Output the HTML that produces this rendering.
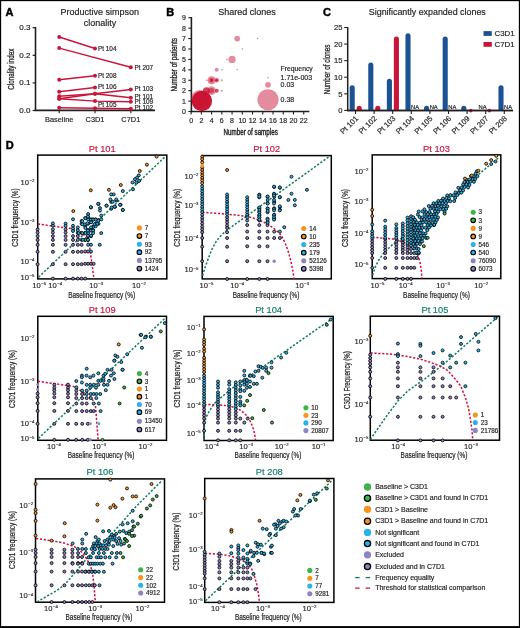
<!DOCTYPE html>
<html><head><meta charset="utf-8"><style>
html,body{margin:0;padding:0;background:#fff;width:520px;height:628px;overflow:hidden}
svg{display:block;font-family:"Liberation Sans",sans-serif;will-change:transform}
</style></head><body>
<svg width="520" height="628" viewBox="0 0 520 628">
<rect width="520" height="628" fill="#fff"/>
<rect x="0" y="0" width="520" height="1.15" fill="#000"/><rect x="0" y="0" width="1.15" height="628" fill="#000"/><rect x="518.85" y="0" width="1.15" height="628" fill="#000"/><rect x="0" y="626.1" width="520" height="1.9" fill="#000"/>
<text x="5.60" y="15.80" font-size="11" text-anchor="start" fill="#000" stroke="#000" stroke-width="0.45" font-weight="bold" >A</text>
<text x="166.30" y="15.60" font-size="11" text-anchor="start" fill="#000" stroke="#000" stroke-width="0.45" font-weight="bold" >B</text>
<text x="322.90" y="15.90" font-size="11" text-anchor="start" fill="#000" stroke="#000" stroke-width="0.45" font-weight="bold" >C</text>
<text x="5.80" y="149.20" font-size="11" text-anchor="start" fill="#000" stroke="#000" stroke-width="0.45" font-weight="bold" >D</text>
<text x="99.80" y="15.20" font-size="9" text-anchor="middle" fill="#231f20" stroke="#231f20" stroke-width="0.18" font-weight="normal" >Productive simpson</text>
<text x="100.10" y="25.80" font-size="9" text-anchor="middle" fill="#231f20" stroke="#231f20" stroke-width="0.18" font-weight="normal" >clonality</text>
<line x1="35.50" y1="27.00" x2="35.50" y2="111.00" stroke="#231f20" stroke-width="1.6" />
<line x1="34.70" y1="110.40" x2="155.00" y2="110.40" stroke="#231f20" stroke-width="1.6" />
<line x1="32.60" y1="27.70" x2="35.50" y2="27.70" stroke="#231f20" stroke-width="1.2" />
<text x="30.40" y="30.20" font-size="8" text-anchor="end" fill="#231f20" stroke="#231f20" stroke-width="0.18" font-weight="normal" >0.3</text>
<line x1="32.60" y1="55.30" x2="35.50" y2="55.30" stroke="#231f20" stroke-width="1.2" />
<text x="30.40" y="57.80" font-size="8" text-anchor="end" fill="#231f20" stroke="#231f20" stroke-width="0.18" font-weight="normal" >0.2</text>
<line x1="32.60" y1="82.90" x2="35.50" y2="82.90" stroke="#231f20" stroke-width="1.2" />
<text x="30.40" y="85.40" font-size="8" text-anchor="end" fill="#231f20" stroke="#231f20" stroke-width="0.18" font-weight="normal" >0.1</text>
<line x1="32.60" y1="110.50" x2="35.50" y2="110.50" stroke="#231f20" stroke-width="1.2" />
<text x="30.40" y="113.00" font-size="8" text-anchor="end" fill="#231f20" stroke="#231f20" stroke-width="0.18" font-weight="normal" >0.0</text>
<line x1="59.20" y1="110.30" x2="59.20" y2="113.20" stroke="#231f20" stroke-width="1.1" />
<text x="59.20" y="121.60" font-size="7.4" text-anchor="middle" fill="#231f20" stroke="#231f20" stroke-width="0.18" font-weight="normal" >Baseline</text>
<line x1="95.00" y1="110.30" x2="95.00" y2="113.20" stroke="#231f20" stroke-width="1.1" />
<text x="95.00" y="121.60" font-size="7.4" text-anchor="middle" fill="#231f20" stroke="#231f20" stroke-width="0.18" font-weight="normal" >C3D1</text>
<line x1="130.80" y1="110.30" x2="130.80" y2="113.20" stroke="#231f20" stroke-width="1.1" />
<text x="130.80" y="121.60" font-size="7.4" text-anchor="middle" fill="#231f20" stroke="#231f20" stroke-width="0.18" font-weight="normal" >C7D1</text>
<text x="10.90" y="72.40" font-size="8.9" text-anchor="middle" textLength="41" lengthAdjust="spacingAndGlyphs" fill="#231f20" stroke="#231f20" stroke-width="0.3" font-weight="normal" transform="rotate(-90 10.90 69.20)">Clonality index</text>
<polyline points="59.20,37.00 95.00,48.50" fill="none" stroke="#c8163a" stroke-width="1.45"/>
<circle cx="59.20" cy="37.00" r="2.00" fill="#c8163a"/>
<circle cx="95.00" cy="48.50" r="2.00" fill="#c8163a"/>
<polyline points="59.20,48.10 130.80,67.20" fill="none" stroke="#c8163a" stroke-width="1.45"/>
<circle cx="59.20" cy="48.10" r="2.00" fill="#c8163a"/>
<circle cx="130.80" cy="67.20" r="2.00" fill="#c8163a"/>
<polyline points="59.20,79.70 95.00,75.70" fill="none" stroke="#c8163a" stroke-width="1.45"/>
<circle cx="59.20" cy="79.70" r="2.00" fill="#c8163a"/>
<circle cx="95.00" cy="75.70" r="2.00" fill="#c8163a"/>
<polyline points="59.20,91.80 95.00,87.50" fill="none" stroke="#c8163a" stroke-width="1.45"/>
<circle cx="59.20" cy="91.80" r="2.00" fill="#c8163a"/>
<circle cx="95.00" cy="87.50" r="2.00" fill="#c8163a"/>
<polyline points="59.20,98.70 95.00,93.80 130.80,89.50" fill="none" stroke="#c8163a" stroke-width="1.45"/>
<circle cx="59.20" cy="98.70" r="2.00" fill="#c8163a"/>
<circle cx="95.00" cy="93.80" r="2.00" fill="#c8163a"/>
<circle cx="130.80" cy="89.50" r="2.00" fill="#c8163a"/>
<polyline points="59.20,96.20 95.00,93.80 130.80,97.80" fill="none" stroke="#c8163a" stroke-width="1.45"/>
<circle cx="59.20" cy="96.20" r="2.00" fill="#c8163a"/>
<circle cx="95.00" cy="93.80" r="2.00" fill="#c8163a"/>
<circle cx="130.80" cy="97.80" r="2.00" fill="#c8163a"/>
<polyline points="59.20,98.70 95.00,101.10 130.80,101.70" fill="none" stroke="#c8163a" stroke-width="1.45"/>
<circle cx="59.20" cy="98.70" r="2.00" fill="#c8163a"/>
<circle cx="95.00" cy="101.10" r="2.00" fill="#c8163a"/>
<circle cx="130.80" cy="101.70" r="2.00" fill="#c8163a"/>
<polyline points="59.20,107.80 95.00,108.20 130.80,108.70" fill="none" stroke="#c8163a" stroke-width="1.45"/>
<circle cx="59.20" cy="107.80" r="2.00" fill="#c8163a"/>
<circle cx="95.00" cy="108.20" r="2.00" fill="#c8163a"/>
<circle cx="130.80" cy="108.70" r="2.00" fill="#c8163a"/>
<text x="98.00" y="50.80" font-size="6.4" text-anchor="start" fill="#231f20" stroke="#231f20" stroke-width="0.18" font-weight="normal" >Pt 104</text>
<text x="98.00" y="78.20" font-size="6.4" text-anchor="start" fill="#231f20" stroke="#231f20" stroke-width="0.18" font-weight="normal" >Pt 208</text>
<text x="98.00" y="88.90" font-size="6.4" text-anchor="start" fill="#231f20" stroke="#231f20" stroke-width="0.18" font-weight="normal" >Pt 106</text>
<text x="98.00" y="107.30" font-size="6.4" text-anchor="start" fill="#231f20" stroke="#231f20" stroke-width="0.18" font-weight="normal" >Pt 105</text>
<text x="134.60" y="69.50" font-size="6.4" text-anchor="start" fill="#231f20" stroke="#231f20" stroke-width="0.18" font-weight="normal" >Pt 207</text>
<text x="134.60" y="91.30" font-size="6.4" text-anchor="start" fill="#231f20" stroke="#231f20" stroke-width="0.18" font-weight="normal" >Pt 103</text>
<text x="134.60" y="98.70" font-size="6.4" text-anchor="start" fill="#231f20" stroke="#231f20" stroke-width="0.18" font-weight="normal" >Pt 101</text>
<text x="134.60" y="104.10" font-size="6.4" text-anchor="start" fill="#231f20" stroke="#231f20" stroke-width="0.18" font-weight="normal" >Pt 109</text>
<text x="134.60" y="110.20" font-size="6.4" text-anchor="start" fill="#231f20" stroke="#231f20" stroke-width="0.18" font-weight="normal" >Pt 102</text>
<text x="246.90" y="15.20" font-size="9" text-anchor="middle" fill="#231f20" stroke="#231f20" stroke-width="0.18" font-weight="normal" >Shared clones</text>
<line x1="191.40" y1="17.00" x2="191.40" y2="112.20" stroke="#231f20" stroke-width="1.6" />
<line x1="190.60" y1="111.50" x2="309.40" y2="111.50" stroke="#231f20" stroke-width="1.6" />
<line x1="188.30" y1="111.50" x2="191.10" y2="111.50" stroke="#231f20" stroke-width="1.1" />
<text x="186.00" y="114.00" font-size="7.0" text-anchor="end" fill="#231f20" stroke="#231f20" stroke-width="0.18" font-weight="normal" >0</text>
<line x1="188.30" y1="101.08" x2="191.10" y2="101.08" stroke="#231f20" stroke-width="1.1" />
<text x="186.00" y="103.58" font-size="7.0" text-anchor="end" fill="#231f20" stroke="#231f20" stroke-width="0.18" font-weight="normal" >1</text>
<line x1="188.30" y1="90.66" x2="191.10" y2="90.66" stroke="#231f20" stroke-width="1.1" />
<text x="186.00" y="93.16" font-size="7.0" text-anchor="end" fill="#231f20" stroke="#231f20" stroke-width="0.18" font-weight="normal" >2</text>
<line x1="188.30" y1="80.24" x2="191.10" y2="80.24" stroke="#231f20" stroke-width="1.1" />
<text x="186.00" y="82.74" font-size="7.0" text-anchor="end" fill="#231f20" stroke="#231f20" stroke-width="0.18" font-weight="normal" >3</text>
<line x1="188.30" y1="69.82" x2="191.10" y2="69.82" stroke="#231f20" stroke-width="1.1" />
<text x="186.00" y="72.32" font-size="7.0" text-anchor="end" fill="#231f20" stroke="#231f20" stroke-width="0.18" font-weight="normal" >4</text>
<line x1="188.30" y1="59.40" x2="191.10" y2="59.40" stroke="#231f20" stroke-width="1.1" />
<text x="186.00" y="61.90" font-size="7.0" text-anchor="end" fill="#231f20" stroke="#231f20" stroke-width="0.18" font-weight="normal" >5</text>
<line x1="188.30" y1="48.98" x2="191.10" y2="48.98" stroke="#231f20" stroke-width="1.1" />
<text x="186.00" y="51.48" font-size="7.0" text-anchor="end" fill="#231f20" stroke="#231f20" stroke-width="0.18" font-weight="normal" >6</text>
<line x1="188.30" y1="38.56" x2="191.10" y2="38.56" stroke="#231f20" stroke-width="1.1" />
<text x="186.00" y="41.06" font-size="7.0" text-anchor="end" fill="#231f20" stroke="#231f20" stroke-width="0.18" font-weight="normal" >7</text>
<line x1="188.30" y1="28.14" x2="191.10" y2="28.14" stroke="#231f20" stroke-width="1.1" />
<text x="186.00" y="30.64" font-size="7.0" text-anchor="end" fill="#231f20" stroke="#231f20" stroke-width="0.18" font-weight="normal" >8</text>
<line x1="188.30" y1="17.72" x2="191.10" y2="17.72" stroke="#231f20" stroke-width="1.1" />
<text x="186.00" y="20.22" font-size="7.0" text-anchor="end" fill="#231f20" stroke="#231f20" stroke-width="0.18" font-weight="normal" >9</text>
<line x1="191.10" y1="111.50" x2="191.10" y2="114.50" stroke="#231f20" stroke-width="1.1" />
<text x="191.10" y="122.90" font-size="7.0" text-anchor="middle" fill="#231f20" stroke="#231f20" stroke-width="0.18" font-weight="normal" >0</text>
<line x1="201.34" y1="111.50" x2="201.34" y2="114.50" stroke="#231f20" stroke-width="1.1" />
<text x="201.34" y="122.90" font-size="7.0" text-anchor="middle" fill="#231f20" stroke="#231f20" stroke-width="0.18" font-weight="normal" >2</text>
<line x1="211.58" y1="111.50" x2="211.58" y2="114.50" stroke="#231f20" stroke-width="1.1" />
<text x="211.58" y="122.90" font-size="7.0" text-anchor="middle" fill="#231f20" stroke="#231f20" stroke-width="0.18" font-weight="normal" >4</text>
<line x1="221.82" y1="111.50" x2="221.82" y2="114.50" stroke="#231f20" stroke-width="1.1" />
<text x="221.82" y="122.90" font-size="7.0" text-anchor="middle" fill="#231f20" stroke="#231f20" stroke-width="0.18" font-weight="normal" >6</text>
<line x1="232.06" y1="111.50" x2="232.06" y2="114.50" stroke="#231f20" stroke-width="1.1" />
<text x="232.06" y="122.90" font-size="7.0" text-anchor="middle" fill="#231f20" stroke="#231f20" stroke-width="0.18" font-weight="normal" >8</text>
<line x1="242.30" y1="111.50" x2="242.30" y2="114.50" stroke="#231f20" stroke-width="1.1" />
<text x="242.30" y="122.90" font-size="7.0" text-anchor="middle" fill="#231f20" stroke="#231f20" stroke-width="0.18" font-weight="normal" >10</text>
<line x1="252.54" y1="111.50" x2="252.54" y2="114.50" stroke="#231f20" stroke-width="1.1" />
<text x="252.54" y="122.90" font-size="7.0" text-anchor="middle" fill="#231f20" stroke="#231f20" stroke-width="0.18" font-weight="normal" >12</text>
<line x1="262.78" y1="111.50" x2="262.78" y2="114.50" stroke="#231f20" stroke-width="1.1" />
<text x="262.78" y="122.90" font-size="7.0" text-anchor="middle" fill="#231f20" stroke="#231f20" stroke-width="0.18" font-weight="normal" >14</text>
<line x1="273.02" y1="111.50" x2="273.02" y2="114.50" stroke="#231f20" stroke-width="1.1" />
<text x="273.02" y="122.90" font-size="7.0" text-anchor="middle" fill="#231f20" stroke="#231f20" stroke-width="0.18" font-weight="normal" >16</text>
<line x1="283.26" y1="111.50" x2="283.26" y2="114.50" stroke="#231f20" stroke-width="1.1" />
<text x="283.26" y="122.90" font-size="7.0" text-anchor="middle" fill="#231f20" stroke="#231f20" stroke-width="0.18" font-weight="normal" >18</text>
<line x1="293.50" y1="111.50" x2="293.50" y2="114.50" stroke="#231f20" stroke-width="1.1" />
<text x="293.50" y="122.90" font-size="7.0" text-anchor="middle" fill="#231f20" stroke="#231f20" stroke-width="0.18" font-weight="normal" >20</text>
<line x1="303.74" y1="111.50" x2="303.74" y2="114.50" stroke="#231f20" stroke-width="1.1" />
<text x="303.74" y="122.90" font-size="7.0" text-anchor="middle" fill="#231f20" stroke="#231f20" stroke-width="0.18" font-weight="normal" >22</text>
<text x="250.70" y="134.60" font-size="8.9" text-anchor="middle" textLength="54.2" lengthAdjust="spacingAndGlyphs" fill="#231f20" stroke="#231f20" stroke-width="0.4" font-weight="normal" >Number of samples</text>
<text x="173.40" y="68.00" font-size="8.9" text-anchor="middle" textLength="53.5" lengthAdjust="spacingAndGlyphs" fill="#231f20" stroke="#231f20" stroke-width="0.35" font-weight="normal" transform="rotate(-90 173.40 64.80)">Number of patients</text>
<circle cx="199.60" cy="98.60" r="8.60" fill="#c8102e" fill-opacity="0.45"/>
<circle cx="201.90" cy="101.00" r="10.20" fill="#c8102e" fill-opacity="0.97"/>
<circle cx="206.46" cy="90.66" r="3.50" fill="#c8102e" fill-opacity="0.8"/>
<circle cx="211.58" cy="90.66" r="4.30" fill="#c8102e" fill-opacity="0.45"/>
<circle cx="211.58" cy="90.66" r="2.60" fill="#c8102e" fill-opacity="0.6"/>
<circle cx="216.70" cy="90.66" r="2.00" fill="#c8102e" fill-opacity="0.75"/>
<circle cx="221.82" cy="90.66" r="0.90" fill="#e07f95" fill-opacity="1"/>
<circle cx="211.58" cy="80.24" r="3.90" fill="#c8102e" fill-opacity="0.5"/>
<circle cx="211.58" cy="80.24" r="2.40" fill="#c8102e" fill-opacity="0.35"/>
<circle cx="211.58" cy="80.24" r="1.40" fill="#c8102e" fill-opacity="0.9"/>
<circle cx="216.70" cy="80.24" r="2.40" fill="#c8102e" fill-opacity="0.5"/>
<circle cx="216.70" cy="80.24" r="1.30" fill="#c8102e" fill-opacity="0.85"/>
<circle cx="221.82" cy="80.24" r="0.90" fill="#e07f95" fill-opacity="1"/>
<circle cx="216.70" cy="69.82" r="2.00" fill="#e07f95" fill-opacity="0.9"/>
<circle cx="221.82" cy="69.82" r="0.80" fill="#e07f95" fill-opacity="1"/>
<circle cx="237.18" cy="69.82" r="0.80" fill="#e07f95" fill-opacity="1"/>
<circle cx="232.06" cy="59.40" r="3.60" fill="#e07f95" fill-opacity="0.9"/>
<circle cx="226.94" cy="59.40" r="0.80" fill="#e07f95" fill-opacity="1"/>
<circle cx="242.30" cy="48.98" r="0.80" fill="#e07f95" fill-opacity="1"/>
<circle cx="237.18" cy="38.56" r="2.90" fill="#e07f95" fill-opacity="0.9"/>
<circle cx="257.66" cy="38.56" r="0.80" fill="#e07f95" fill-opacity="1"/>
<line x1="205.95" y1="80.24" x2="208.51" y2="80.24" stroke="#e07f95" stroke-width="1" />
<text x="280.60" y="71.20" font-size="6.8" text-anchor="start" fill="#231f20" stroke="#231f20" stroke-width="0.18" font-weight="normal" >Frequency</text>
<circle cx="268.00" cy="77.70" r="0.80" fill="#e07f95"/>
<text x="280.60" y="79.60" font-size="7.0" text-anchor="start" fill="#231f20" stroke="#231f20" stroke-width="0.18" font-weight="normal" >1.71e-003</text>
<circle cx="268.00" cy="84.80" r="2.90" fill="#e07f95" fill-opacity="0.9"/>
<text x="280.60" y="87.40" font-size="7.0" text-anchor="start" fill="#231f20" stroke="#231f20" stroke-width="0.18" font-weight="normal" >0.03</text>
<circle cx="268.00" cy="99.80" r="10.60" fill="#e07f95" fill-opacity="0.9"/>
<text x="280.60" y="102.20" font-size="7.0" text-anchor="start" fill="#231f20" stroke="#231f20" stroke-width="0.18" font-weight="normal" >0.38</text>
<text x="427.30" y="14.60" font-size="8.9" text-anchor="middle" fill="#231f20" stroke="#231f20" stroke-width="0.18" font-weight="normal" >Significantly expanded clones</text>
<line x1="347.70" y1="27.00" x2="347.70" y2="111.10" stroke="#231f20" stroke-width="1.5" />
<line x1="347.10" y1="110.40" x2="513.00" y2="110.40" stroke="#231f20" stroke-width="1.5" />
<line x1="344.20" y1="110.40" x2="347.70" y2="110.40" stroke="#231f20" stroke-width="1.1" />
<text x="342.40" y="113.10" font-size="7.6" text-anchor="end" fill="#231f20" stroke="#231f20" stroke-width="0.18" font-weight="normal" >0</text>
<line x1="344.20" y1="93.82" x2="347.70" y2="93.82" stroke="#231f20" stroke-width="1.1" />
<text x="342.40" y="96.52" font-size="7.6" text-anchor="end" fill="#231f20" stroke="#231f20" stroke-width="0.18" font-weight="normal" >5</text>
<line x1="344.20" y1="77.24" x2="347.70" y2="77.24" stroke="#231f20" stroke-width="1.1" />
<text x="342.40" y="79.94" font-size="7.6" text-anchor="end" fill="#231f20" stroke="#231f20" stroke-width="0.18" font-weight="normal" >10</text>
<line x1="344.20" y1="60.66" x2="347.70" y2="60.66" stroke="#231f20" stroke-width="1.1" />
<text x="342.40" y="63.36" font-size="7.6" text-anchor="end" fill="#231f20" stroke="#231f20" stroke-width="0.18" font-weight="normal" >15</text>
<line x1="344.20" y1="44.08" x2="347.70" y2="44.08" stroke="#231f20" stroke-width="1.1" />
<text x="342.40" y="46.78" font-size="7.6" text-anchor="end" fill="#231f20" stroke="#231f20" stroke-width="0.18" font-weight="normal" >20</text>
<line x1="344.20" y1="27.50" x2="347.70" y2="27.50" stroke="#231f20" stroke-width="1.1" />
<text x="342.40" y="30.20" font-size="7.6" text-anchor="end" fill="#231f20" stroke="#231f20" stroke-width="0.18" font-weight="normal" >25</text>
<text x="326.40" y="72.50" font-size="8.9" text-anchor="middle" textLength="49.7" lengthAdjust="spacingAndGlyphs" fill="#231f20" stroke="#231f20" stroke-width="0.3" font-weight="normal" transform="rotate(-90 326.40 69.30)">Number of clones</text>
<line x1="355.50" y1="110.40" x2="355.50" y2="114.00" stroke="#231f20" stroke-width="1.1" />
<path d="M349.65,110.40 L349.65,87.72 A2.55,2.55 0 0 1 354.75,87.72 L354.75,110.40 Z" fill="#1a5293"/>
<path d="M356.65,110.40 L356.65,108.20 A2.55,2.55 0 0 1 361.75,108.20 L361.75,110.40 Z" fill="#c8163a"/>
<text x="358.70" y="119.00" font-size="7.6" text-anchor="end" fill="#231f20" stroke="#231f20" stroke-width="0.18" transform="rotate(-45 358.70 119.00)">Pt 101</text>
<line x1="374.10" y1="110.40" x2="374.10" y2="114.00" stroke="#231f20" stroke-width="1.1" />
<path d="M368.25,110.40 L368.25,65.04 A2.55,2.55 0 0 1 373.35,65.04 L373.35,110.40 Z" fill="#1a5293"/>
<path d="M375.25,110.40 L375.25,108.20 A2.55,2.55 0 0 1 380.35,108.20 L380.35,110.40 Z" fill="#c8163a"/>
<text x="377.30" y="119.00" font-size="7.6" text-anchor="end" fill="#231f20" stroke="#231f20" stroke-width="0.18" transform="rotate(-45 377.30 119.00)">Pt 102</text>
<line x1="392.70" y1="110.40" x2="392.70" y2="114.00" stroke="#231f20" stroke-width="1.1" />
<path d="M386.85,110.40 L386.85,81.24 A2.55,2.55 0 0 1 391.95,81.24 L391.95,110.40 Z" fill="#1a5293"/>
<path d="M393.85,110.40 L393.85,39.12 A2.55,2.55 0 0 1 398.95,39.12 L398.95,110.40 Z" fill="#c8163a"/>
<text x="395.90" y="119.00" font-size="7.6" text-anchor="end" fill="#231f20" stroke="#231f20" stroke-width="0.18" transform="rotate(-45 395.90 119.00)">Pt 103</text>
<line x1="411.30" y1="110.40" x2="411.30" y2="114.00" stroke="#231f20" stroke-width="1.1" />
<path d="M405.45,110.40 L405.45,35.88 A2.55,2.55 0 0 1 410.55,35.88 L410.55,110.40 Z" fill="#1a5293"/>
<text x="411.10" y="109.00" font-size="5.8" text-anchor="start" fill="#231f20" stroke="#231f20" stroke-width="0.18" font-weight="normal" >NA</text>
<text x="414.50" y="119.00" font-size="7.6" text-anchor="end" fill="#231f20" stroke="#231f20" stroke-width="0.18" transform="rotate(-45 414.50 119.00)">Pt 104</text>
<line x1="429.90" y1="110.40" x2="429.90" y2="114.00" stroke="#231f20" stroke-width="1.1" />
<path d="M424.05,110.40 L424.05,108.20 A2.55,2.55 0 0 1 429.15,108.20 L429.15,110.40 Z" fill="#1a5293"/>
<text x="429.70" y="109.00" font-size="5.8" text-anchor="start" fill="#231f20" stroke="#231f20" stroke-width="0.18" font-weight="normal" >NA</text>
<text x="433.10" y="119.00" font-size="7.6" text-anchor="end" fill="#231f20" stroke="#231f20" stroke-width="0.18" transform="rotate(-45 433.10 119.00)">Pt 105</text>
<line x1="448.50" y1="110.40" x2="448.50" y2="114.00" stroke="#231f20" stroke-width="1.1" />
<path d="M442.65,110.40 L442.65,39.12 A2.55,2.55 0 0 1 447.75,39.12 L447.75,110.40 Z" fill="#1a5293"/>
<text x="448.30" y="109.00" font-size="5.8" text-anchor="start" fill="#231f20" stroke="#231f20" stroke-width="0.18" font-weight="normal" >NA</text>
<text x="451.70" y="119.00" font-size="7.6" text-anchor="end" fill="#231f20" stroke="#231f20" stroke-width="0.18" transform="rotate(-45 451.70 119.00)">Pt 106</text>
<line x1="467.10" y1="110.40" x2="467.10" y2="114.00" stroke="#231f20" stroke-width="1.1" />
<path d="M461.25,110.40 L461.25,108.20 A2.55,2.55 0 0 1 466.35,108.20 L466.35,110.40 Z" fill="#1a5293"/>
<circle cx="470.80" cy="110.60" r="1.85" fill="#c8163a"/>
<text x="470.30" y="119.00" font-size="7.6" text-anchor="end" fill="#231f20" stroke="#231f20" stroke-width="0.18" transform="rotate(-45 470.30 119.00)">Pt 109</text>
<line x1="485.70" y1="110.40" x2="485.70" y2="114.00" stroke="#231f20" stroke-width="1.1" />
<text x="478.50" y="109.00" font-size="5.8" text-anchor="start" fill="#231f20" stroke="#231f20" stroke-width="0.18" font-weight="normal" >NA</text>
<circle cx="489.40" cy="110.60" r="1.85" fill="#c8163a"/>
<text x="488.90" y="119.00" font-size="7.6" text-anchor="end" fill="#231f20" stroke="#231f20" stroke-width="0.18" transform="rotate(-45 488.90 119.00)">Pt 207</text>
<line x1="504.30" y1="110.40" x2="504.30" y2="114.00" stroke="#231f20" stroke-width="1.1" />
<path d="M498.45,110.40 L498.45,87.72 A2.55,2.55 0 0 1 503.55,87.72 L503.55,110.40 Z" fill="#1a5293"/>
<text x="504.10" y="109.00" font-size="5.8" text-anchor="start" fill="#231f20" stroke="#231f20" stroke-width="0.18" font-weight="normal" >NA</text>
<text x="507.50" y="119.00" font-size="7.6" text-anchor="end" fill="#231f20" stroke="#231f20" stroke-width="0.18" transform="rotate(-45 507.50 119.00)">Pt 208</text>
<line x1="347.10" y1="110.40" x2="513.00" y2="110.40" stroke="#231f20" stroke-width="1.5" />
<rect x="483.5" y="31.1" width="8.3" height="4.8" fill="#1a5293"/>
<text x="494.50" y="35.90" font-size="7.9" text-anchor="start" fill="#231f20" stroke="#231f20" stroke-width="0.18" font-weight="normal" >C3D1</text>
<rect x="483.5" y="42.0" width="8.3" height="4.8" fill="#c8163a"/>
<text x="494.50" y="46.80" font-size="7.9" text-anchor="start" fill="#231f20" stroke="#231f20" stroke-width="0.18" font-weight="normal" >C7D1</text>
<rect x="37.70" y="155.10" width="129.10" height="123.80" fill="none" stroke="#000" stroke-width="1.5"/>
<text x="102.25" y="151.90" font-size="9.3" text-anchor="middle" fill="#c8163a" stroke="#c8163a" stroke-width="0.18" font-weight="normal" >Pt 101</text>
<text x="34.30" y="184.93" font-size="7.6" text-anchor="end" fill="#231f20" stroke="#231f20" stroke-width="0.15">10<tspan font-size="4.30" dx="0.5" dy="-2.8">−2</tspan></text>
<text x="34.30" y="225.03" font-size="7.6" text-anchor="end" fill="#231f20" stroke="#231f20" stroke-width="0.15">10<tspan font-size="4.30" dx="0.5" dy="-2.8">−3</tspan></text>
<text x="34.30" y="263.93" font-size="7.6" text-anchor="end" fill="#231f20" stroke="#231f20" stroke-width="0.15">10<tspan font-size="4.30" dx="0.5" dy="-2.8">−4</tspan></text>
<text x="34.30" y="280.03" font-size="7.6" text-anchor="end" fill="#231f20" stroke="#231f20" stroke-width="0.15">10<tspan font-size="4.30" dx="0.5" dy="-2.8">−5</tspan></text>
<text x="39.20" y="288.03" font-size="7.6" text-anchor="middle" fill="#231f20" stroke="#231f20" stroke-width="0.15">10<tspan font-size="4.30" dx="0.5" dy="-2.8">−5</tspan></text>
<text x="55.30" y="288.03" font-size="7.6" text-anchor="middle" fill="#231f20" stroke="#231f20" stroke-width="0.15">10<tspan font-size="4.30" dx="0.5" dy="-2.8">−4</tspan></text>
<text x="96.20" y="288.03" font-size="7.6" text-anchor="middle" fill="#231f20" stroke="#231f20" stroke-width="0.15">10<tspan font-size="4.30" dx="0.5" dy="-2.8">−3</tspan></text>
<text x="138.90" y="288.03" font-size="7.6" text-anchor="middle" fill="#231f20" stroke="#231f20" stroke-width="0.15">10<tspan font-size="4.30" dx="0.5" dy="-2.8">−2</tspan></text>
<text x="101.65" y="297.50" font-size="8.9" text-anchor="middle" textLength="67" lengthAdjust="spacingAndGlyphs" fill="#231f20" stroke="#231f20" stroke-width="0.22" font-weight="normal" >Baseline frequency (%)</text>
<text x="14.50" y="220.70" font-size="8.9" text-anchor="middle" textLength="58.4" lengthAdjust="spacingAndGlyphs" fill="#231f20" stroke="#231f20" stroke-width="0.22" font-weight="normal" transform="rotate(-90 14.50 217.50)">C3D1 frequency (%)</text>
<polyline points="38.60,277.20 165.50,156.40" fill="none" stroke="#137a60" stroke-width="1.5" stroke-dasharray="2.2 1.7"/>
<path d="M37.9,224.0 L74,229.0 Q86,232 89.5,246 L93.9,278.5" fill="none" stroke="#d0103a" stroke-width="1.5" stroke-dasharray="2.2 1.7"/>
<circle cx="37.60" cy="229.40" r="1.50" fill="#8d84c6" stroke="#000" stroke-width="0.8"/>
<circle cx="37.60" cy="232.50" r="1.50" fill="#8d84c6" stroke="#000" stroke-width="0.8"/>
<circle cx="37.60" cy="236.10" r="1.50" fill="#8d84c6" stroke="#000" stroke-width="0.8"/>
<circle cx="37.60" cy="239.90" r="1.50" fill="#8d84c6" stroke="#000" stroke-width="0.8"/>
<circle cx="37.60" cy="244.80" r="1.50" fill="#8d84c6" stroke="#000" stroke-width="0.8"/>
<circle cx="37.60" cy="251.80" r="1.50" fill="#8d84c6" stroke="#000" stroke-width="0.8"/>
<circle cx="37.60" cy="264.20" r="1.50" fill="#8d84c6" stroke="#000" stroke-width="0.8"/>
<circle cx="52.90" cy="229.40" r="1.50" fill="#8d84c6" stroke="#000" stroke-width="0.8"/>
<circle cx="52.90" cy="232.50" r="1.50" fill="#8d84c6" stroke="#000" stroke-width="0.8"/>
<circle cx="52.90" cy="236.10" r="1.50" fill="#8d84c6" stroke="#000" stroke-width="0.8"/>
<circle cx="52.90" cy="239.90" r="1.50" fill="#8d84c6" stroke="#000" stroke-width="0.8"/>
<circle cx="52.90" cy="244.80" r="1.50" fill="#8d84c6" stroke="#000" stroke-width="0.8"/>
<circle cx="52.90" cy="251.80" r="1.50" fill="#8d84c6" stroke="#000" stroke-width="0.8"/>
<circle cx="52.90" cy="264.20" r="1.50" fill="#8d84c6" stroke="#000" stroke-width="0.8"/>
<circle cx="52.90" cy="278.60" r="1.50" fill="#8d84c6" stroke="#000" stroke-width="0.8"/>
<circle cx="65.60" cy="229.40" r="1.50" fill="#8d84c6" stroke="#000" stroke-width="0.8"/>
<circle cx="65.60" cy="232.50" r="1.50" fill="#8d84c6" stroke="#000" stroke-width="0.8"/>
<circle cx="65.60" cy="236.10" r="1.50" fill="#8d84c6" stroke="#000" stroke-width="0.8"/>
<circle cx="65.60" cy="239.90" r="1.50" fill="#8d84c6" stroke="#000" stroke-width="0.8"/>
<circle cx="65.60" cy="244.80" r="1.50" fill="#8d84c6" stroke="#000" stroke-width="0.8"/>
<circle cx="65.60" cy="251.80" r="1.50" fill="#8d84c6" stroke="#000" stroke-width="0.8"/>
<circle cx="65.60" cy="264.20" r="1.50" fill="#8d84c6" stroke="#000" stroke-width="0.8"/>
<circle cx="65.60" cy="278.60" r="1.50" fill="#8d84c6" stroke="#000" stroke-width="0.8"/>
<circle cx="73.00" cy="236.10" r="1.50" fill="#8d84c6" stroke="#000" stroke-width="0.8"/>
<circle cx="73.00" cy="239.90" r="1.50" fill="#8d84c6" stroke="#000" stroke-width="0.8"/>
<circle cx="73.00" cy="244.80" r="1.50" fill="#8d84c6" stroke="#000" stroke-width="0.8"/>
<circle cx="73.00" cy="251.80" r="1.50" fill="#8d84c6" stroke="#000" stroke-width="0.8"/>
<circle cx="73.00" cy="264.20" r="1.50" fill="#8d84c6" stroke="#000" stroke-width="0.8"/>
<circle cx="73.00" cy="278.60" r="1.50" fill="#8d84c6" stroke="#000" stroke-width="0.8"/>
<circle cx="77.80" cy="236.10" r="1.50" fill="#8d84c6" stroke="#000" stroke-width="0.8"/>
<circle cx="77.80" cy="239.90" r="1.50" fill="#8d84c6" stroke="#000" stroke-width="0.8"/>
<circle cx="77.80" cy="244.80" r="1.50" fill="#8d84c6" stroke="#000" stroke-width="0.8"/>
<circle cx="77.80" cy="251.80" r="1.50" fill="#8d84c6" stroke="#000" stroke-width="0.8"/>
<circle cx="77.80" cy="264.20" r="1.50" fill="#8d84c6" stroke="#000" stroke-width="0.8"/>
<circle cx="77.80" cy="278.60" r="1.50" fill="#8d84c6" stroke="#000" stroke-width="0.8"/>
<circle cx="81.60" cy="239.90" r="1.50" fill="#8d84c6" stroke="#000" stroke-width="0.8"/>
<circle cx="81.60" cy="244.80" r="1.50" fill="#8d84c6" stroke="#000" stroke-width="0.8"/>
<circle cx="81.60" cy="251.80" r="1.50" fill="#8d84c6" stroke="#000" stroke-width="0.8"/>
<circle cx="81.60" cy="264.20" r="1.50" fill="#8d84c6" stroke="#000" stroke-width="0.8"/>
<circle cx="81.60" cy="278.60" r="1.50" fill="#8d84c6" stroke="#000" stroke-width="0.8"/>
<circle cx="85.20" cy="251.50" r="1.50" fill="#8d84c6" stroke="#000" stroke-width="0.8"/>
<circle cx="85.20" cy="263.80" r="1.50" fill="#8d84c6" stroke="#000" stroke-width="0.8"/>
<circle cx="85.20" cy="278.60" r="1.50" fill="#8d84c6" stroke="#000" stroke-width="0.8"/>
<circle cx="88.10" cy="251.50" r="1.50" fill="#8d84c6" stroke="#000" stroke-width="0.8"/>
<circle cx="88.10" cy="263.80" r="1.50" fill="#8d84c6" stroke="#000" stroke-width="0.8"/>
<circle cx="91.00" cy="263.80" r="1.50" fill="#8d84c6" stroke="#000" stroke-width="0.8"/>
<circle cx="93.60" cy="263.80" r="1.50" fill="#8d84c6" stroke="#000" stroke-width="0.8"/>
<circle cx="52.90" cy="223.40" r="1.50" fill="#2cb2ea" stroke="#000" stroke-width="0.8"/>
<circle cx="52.90" cy="225.80" r="1.50" fill="#2cb2ea" stroke="#000" stroke-width="0.8"/>
<circle cx="65.60" cy="223.60" r="1.50" fill="#2cb2ea" stroke="#000" stroke-width="0.8"/>
<circle cx="65.60" cy="225.80" r="1.50" fill="#2cb2ea" stroke="#000" stroke-width="0.8"/>
<circle cx="73.00" cy="219.30" r="1.50" fill="#2cb2ea" stroke="#000" stroke-width="0.8"/>
<circle cx="73.00" cy="225.80" r="1.50" fill="#2cb2ea" stroke="#000" stroke-width="0.8"/>
<circle cx="73.00" cy="228.50" r="1.50" fill="#2cb2ea" stroke="#000" stroke-width="0.8"/>
<circle cx="73.00" cy="231.00" r="1.50" fill="#2cb2ea" stroke="#000" stroke-width="0.8"/>
<circle cx="77.80" cy="227.40" r="1.50" fill="#2cb2ea" stroke="#000" stroke-width="0.8"/>
<circle cx="77.80" cy="230.20" r="1.50" fill="#2cb2ea" stroke="#000" stroke-width="0.8"/>
<circle cx="77.80" cy="232.90" r="1.50" fill="#2cb2ea" stroke="#000" stroke-width="0.8"/>
<circle cx="81.60" cy="221.00" r="1.50" fill="#2cb2ea" stroke="#000" stroke-width="0.8"/>
<circle cx="81.60" cy="223.70" r="1.50" fill="#2cb2ea" stroke="#000" stroke-width="0.8"/>
<circle cx="81.60" cy="232.90" r="1.50" fill="#2cb2ea" stroke="#000" stroke-width="0.8"/>
<circle cx="85.25" cy="218.12" r="1.50" fill="#2cb2ea" stroke="#000" stroke-width="0.8"/>
<circle cx="85.25" cy="226.25" r="1.50" fill="#2cb2ea" stroke="#000" stroke-width="0.8"/>
<circle cx="85.25" cy="232.75" r="1.50" fill="#2cb2ea" stroke="#000" stroke-width="0.8"/>
<circle cx="85.25" cy="240.00" r="1.50" fill="#2cb2ea" stroke="#000" stroke-width="0.8"/>
<circle cx="88.12" cy="214.00" r="1.50" fill="#2cb2ea" stroke="#000" stroke-width="0.8"/>
<circle cx="88.12" cy="216.88" r="1.50" fill="#2cb2ea" stroke="#000" stroke-width="0.8"/>
<circle cx="88.12" cy="219.38" r="1.50" fill="#2cb2ea" stroke="#000" stroke-width="0.8"/>
<circle cx="88.12" cy="223.75" r="1.50" fill="#2cb2ea" stroke="#000" stroke-width="0.8"/>
<circle cx="88.12" cy="230.00" r="1.50" fill="#2cb2ea" stroke="#000" stroke-width="0.8"/>
<circle cx="88.12" cy="233.12" r="1.50" fill="#2cb2ea" stroke="#000" stroke-width="0.8"/>
<circle cx="88.12" cy="236.25" r="1.50" fill="#2cb2ea" stroke="#000" stroke-width="0.8"/>
<circle cx="88.12" cy="240.00" r="1.50" fill="#2cb2ea" stroke="#000" stroke-width="0.8"/>
<circle cx="88.12" cy="244.75" r="1.50" fill="#2cb2ea" stroke="#000" stroke-width="0.8"/>
<circle cx="91.00" cy="207.50" r="1.50" fill="#2cb2ea" stroke="#000" stroke-width="0.8"/>
<circle cx="91.00" cy="219.38" r="1.50" fill="#2cb2ea" stroke="#000" stroke-width="0.8"/>
<circle cx="91.00" cy="222.25" r="1.50" fill="#2cb2ea" stroke="#000" stroke-width="0.8"/>
<circle cx="91.00" cy="230.00" r="1.50" fill="#2cb2ea" stroke="#000" stroke-width="0.8"/>
<circle cx="91.00" cy="236.25" r="1.50" fill="#2cb2ea" stroke="#000" stroke-width="0.8"/>
<circle cx="91.00" cy="244.75" r="1.50" fill="#2cb2ea" stroke="#000" stroke-width="0.8"/>
<circle cx="91.00" cy="251.50" r="1.50" fill="#2cb2ea" stroke="#000" stroke-width="0.8"/>
<circle cx="93.12" cy="219.38" r="1.50" fill="#2cb2ea" stroke="#000" stroke-width="0.8"/>
<circle cx="93.12" cy="226.88" r="1.50" fill="#2cb2ea" stroke="#000" stroke-width="0.8"/>
<circle cx="93.12" cy="230.00" r="1.50" fill="#2cb2ea" stroke="#000" stroke-width="0.8"/>
<circle cx="95.62" cy="219.38" r="1.50" fill="#2cb2ea" stroke="#000" stroke-width="0.8"/>
<circle cx="95.62" cy="223.75" r="1.50" fill="#2cb2ea" stroke="#000" stroke-width="0.8"/>
<circle cx="95.62" cy="226.25" r="1.50" fill="#2cb2ea" stroke="#000" stroke-width="0.8"/>
<circle cx="98.50" cy="204.00" r="1.50" fill="#2cb2ea" stroke="#000" stroke-width="0.8"/>
<circle cx="98.50" cy="220.00" r="1.50" fill="#2cb2ea" stroke="#000" stroke-width="0.8"/>
<circle cx="98.50" cy="223.75" r="1.50" fill="#2cb2ea" stroke="#000" stroke-width="0.8"/>
<circle cx="100.00" cy="208.12" r="1.50" fill="#2cb2ea" stroke="#000" stroke-width="0.8"/>
<circle cx="100.00" cy="210.62" r="1.50" fill="#2cb2ea" stroke="#000" stroke-width="0.8"/>
<circle cx="101.25" cy="215.62" r="1.50" fill="#2cb2ea" stroke="#000" stroke-width="0.8"/>
<circle cx="101.25" cy="219.38" r="1.50" fill="#2cb2ea" stroke="#000" stroke-width="0.8"/>
<circle cx="101.25" cy="233.12" r="1.50" fill="#2cb2ea" stroke="#000" stroke-width="0.8"/>
<circle cx="99.75" cy="244.75" r="1.50" fill="#2cb2ea" stroke="#000" stroke-width="0.8"/>
<circle cx="106.50" cy="205.62" r="1.50" fill="#2cb2ea" stroke="#000" stroke-width="0.8"/>
<circle cx="111.25" cy="201.88" r="1.50" fill="#2cb2ea" stroke="#000" stroke-width="0.8"/>
<circle cx="111.25" cy="208.75" r="1.50" fill="#2cb2ea" stroke="#000" stroke-width="0.8"/>
<circle cx="115.00" cy="206.88" r="1.50" fill="#2cb2ea" stroke="#000" stroke-width="0.8"/>
<circle cx="120.62" cy="204.75" r="1.50" fill="#2cb2ea" stroke="#000" stroke-width="0.8"/>
<circle cx="122.75" cy="210.00" r="1.50" fill="#2cb2ea" stroke="#000" stroke-width="0.8"/>
<circle cx="116.25" cy="200.62" r="1.50" fill="#2cb2ea" stroke="#000" stroke-width="0.8"/>
<circle cx="138.82" cy="175.34" r="1.50" fill="#2cb2ea" stroke="#000" stroke-width="0.8"/>
<circle cx="137.04" cy="177.63" r="1.50" fill="#2cb2ea" stroke="#000" stroke-width="0.8"/>
<circle cx="135.01" cy="179.15" r="1.50" fill="#2cb2ea" stroke="#000" stroke-width="0.8"/>
<circle cx="139.07" cy="180.93" r="1.50" fill="#2cb2ea" stroke="#000" stroke-width="0.8"/>
<circle cx="132.47" cy="182.45" r="1.50" fill="#2cb2ea" stroke="#000" stroke-width="0.8"/>
<circle cx="136.28" cy="182.70" r="1.50" fill="#2cb2ea" stroke="#000" stroke-width="0.8"/>
<circle cx="132.98" cy="189.30" r="1.50" fill="#2cb2ea" stroke="#000" stroke-width="0.8"/>
<circle cx="122.82" cy="191.08" r="1.50" fill="#2cb2ea" stroke="#000" stroke-width="0.8"/>
<circle cx="113.68" cy="194.38" r="1.50" fill="#2cb2ea" stroke="#000" stroke-width="0.8"/>
<circle cx="111.15" cy="194.38" r="1.50" fill="#2cb2ea" stroke="#000" stroke-width="0.8"/>
<circle cx="116.22" cy="199.46" r="1.50" fill="#2cb2ea" stroke="#000" stroke-width="0.8"/>
<circle cx="110.38" cy="199.46" r="1.50" fill="#2cb2ea" stroke="#000" stroke-width="0.8"/>
<circle cx="112.67" cy="201.74" r="1.50" fill="#2cb2ea" stroke="#000" stroke-width="0.8"/>
<circle cx="106.58" cy="205.81" r="1.50" fill="#2cb2ea" stroke="#000" stroke-width="0.8"/>
<circle cx="111.65" cy="207.58" r="1.50" fill="#2cb2ea" stroke="#000" stroke-width="0.8"/>
<circle cx="114.70" cy="206.57" r="1.50" fill="#2cb2ea" stroke="#000" stroke-width="0.8"/>
<circle cx="120.03" cy="204.79" r="1.50" fill="#2cb2ea" stroke="#000" stroke-width="0.8"/>
<circle cx="122.82" cy="209.87" r="1.50" fill="#2cb2ea" stroke="#000" stroke-width="0.8"/>
<circle cx="98.20" cy="203.77" r="1.50" fill="#2cb2ea" stroke="#000" stroke-width="0.8"/>
<circle cx="90.84" cy="207.07" r="1.50" fill="#2cb2ea" stroke="#000" stroke-width="0.8"/>
<circle cx="85.36" cy="218.11" r="1.50" fill="#2cb2ea" stroke="#000" stroke-width="0.8"/>
<circle cx="87.95" cy="216.55" r="1.50" fill="#2cb2ea" stroke="#000" stroke-width="0.8"/>
<circle cx="91.06" cy="219.66" r="1.50" fill="#2cb2ea" stroke="#000" stroke-width="0.8"/>
<circle cx="93.13" cy="219.66" r="1.50" fill="#2cb2ea" stroke="#000" stroke-width="0.8"/>
<circle cx="95.71" cy="219.66" r="1.50" fill="#2cb2ea" stroke="#000" stroke-width="0.8"/>
<circle cx="98.30" cy="220.69" r="1.50" fill="#2cb2ea" stroke="#000" stroke-width="0.8"/>
<circle cx="82.26" cy="221.21" r="1.50" fill="#2cb2ea" stroke="#000" stroke-width="0.8"/>
<circle cx="84.84" cy="224.32" r="1.50" fill="#2cb2ea" stroke="#000" stroke-width="0.8"/>
<circle cx="87.43" cy="223.28" r="1.50" fill="#2cb2ea" stroke="#000" stroke-width="0.8"/>
<circle cx="91.06" cy="222.25" r="1.50" fill="#2cb2ea" stroke="#000" stroke-width="0.8"/>
<circle cx="94.68" cy="224.32" r="1.50" fill="#2cb2ea" stroke="#000" stroke-width="0.8"/>
<circle cx="97.27" cy="223.80" r="1.50" fill="#2cb2ea" stroke="#000" stroke-width="0.8"/>
<circle cx="85.36" cy="227.94" r="1.50" fill="#2cb2ea" stroke="#000" stroke-width="0.8"/>
<circle cx="91.06" cy="227.42" r="1.50" fill="#2cb2ea" stroke="#000" stroke-width="0.8"/>
<circle cx="87.95" cy="230.53" r="1.50" fill="#2cb2ea" stroke="#000" stroke-width="0.8"/>
<circle cx="91.06" cy="230.53" r="1.50" fill="#2cb2ea" stroke="#000" stroke-width="0.8"/>
<circle cx="93.13" cy="230.53" r="1.50" fill="#2cb2ea" stroke="#000" stroke-width="0.8"/>
<circle cx="85.36" cy="233.12" r="1.50" fill="#2cb2ea" stroke="#000" stroke-width="0.8"/>
<circle cx="87.95" cy="235.70" r="1.50" fill="#2cb2ea" stroke="#000" stroke-width="0.8"/>
<circle cx="91.06" cy="235.70" r="1.50" fill="#2cb2ea" stroke="#000" stroke-width="0.8"/>
<circle cx="85.36" cy="239.84" r="1.50" fill="#2cb2ea" stroke="#000" stroke-width="0.8"/>
<circle cx="87.95" cy="239.84" r="1.50" fill="#2cb2ea" stroke="#000" stroke-width="0.8"/>
<circle cx="82.77" cy="239.84" r="1.50" fill="#2cb2ea" stroke="#000" stroke-width="0.8"/>
<circle cx="82.26" cy="233.12" r="1.50" fill="#2cb2ea" stroke="#000" stroke-width="0.8"/>
<circle cx="78.63" cy="233.12" r="1.50" fill="#2cb2ea" stroke="#000" stroke-width="0.8"/>
<circle cx="93.13" cy="233.12" r="1.50" fill="#2cb2ea" stroke="#000" stroke-width="0.8"/>
<circle cx="82.26" cy="224.32" r="1.50" fill="#2cb2ea" stroke="#000" stroke-width="0.8"/>
<circle cx="156.60" cy="156.60" r="1.50" fill="#f7931e" stroke="#000" stroke-width="0.8"/>
<circle cx="146.90" cy="164.70" r="1.50" fill="#f7931e" stroke="#000" stroke-width="0.8"/>
<circle cx="139.80" cy="171.00" r="1.50" fill="#f7931e" stroke="#000" stroke-width="0.8"/>
<circle cx="120.80" cy="185.00" r="1.50" fill="#f7931e" stroke="#000" stroke-width="0.8"/>
<circle cx="108.90" cy="189.80" r="1.50" fill="#f7931e" stroke="#000" stroke-width="0.8"/>
<circle cx="90.80" cy="190.30" r="1.50" fill="#f7931e" stroke="#000" stroke-width="0.8"/>
<circle cx="73.30" cy="211.10" r="1.50" fill="#f7931e" stroke="#000" stroke-width="0.8"/>
<circle cx="139.40" cy="227.90" r="2.55" fill="#f7931e"/>
<text x="144.80" y="230.10" font-size="6.3" text-anchor="start" fill="#231f20" stroke="#231f20" stroke-width="0.18" font-weight="normal" >7</text>
<circle cx="139.40" cy="236.10" r="2.30" fill="#f7931e" stroke="#000" stroke-width="1.1"/>
<text x="144.80" y="238.30" font-size="6.3" text-anchor="start" fill="#231f20" stroke="#231f20" stroke-width="0.18" font-weight="normal" >7</text>
<circle cx="139.40" cy="244.30" r="2.55" fill="#2cb2ea"/>
<text x="144.80" y="246.50" font-size="6.3" text-anchor="start" fill="#231f20" stroke="#231f20" stroke-width="0.18" font-weight="normal" >93</text>
<circle cx="139.40" cy="252.20" r="2.30" fill="#2cb2ea" stroke="#000" stroke-width="1.1"/>
<text x="144.80" y="254.40" font-size="6.3" text-anchor="start" fill="#231f20" stroke="#231f20" stroke-width="0.18" font-weight="normal" >92</text>
<circle cx="139.40" cy="260.40" r="2.55" fill="#8d84c6"/>
<text x="144.80" y="262.60" font-size="6.3" text-anchor="start" fill="#231f20" stroke="#231f20" stroke-width="0.18" font-weight="normal" >13795</text>
<circle cx="139.40" cy="268.60" r="2.30" fill="#8d84c6" stroke="#000" stroke-width="1.1"/>
<text x="144.80" y="270.80" font-size="6.3" text-anchor="start" fill="#231f20" stroke="#231f20" stroke-width="0.18" font-weight="normal" >1424</text>
<rect x="202.20" y="155.60" width="129.10" height="123.30" fill="none" stroke="#000" stroke-width="1.5"/>
<text x="266.75" y="151.90" font-size="9.3" text-anchor="middle" fill="#c8163a" stroke="#c8163a" stroke-width="0.18" font-weight="normal" >Pt 102</text>
<text x="198.30" y="178.53" font-size="7.6" text-anchor="end" fill="#231f20" stroke="#231f20" stroke-width="0.15">10<tspan font-size="4.30" dx="0.5" dy="-2.8">−2</tspan></text>
<text x="198.30" y="208.23" font-size="7.6" text-anchor="end" fill="#231f20" stroke="#231f20" stroke-width="0.15">10<tspan font-size="4.30" dx="0.5" dy="-2.8">−3</tspan></text>
<text x="198.30" y="241.13" font-size="7.6" text-anchor="end" fill="#231f20" stroke="#231f20" stroke-width="0.15">10<tspan font-size="4.30" dx="0.5" dy="-2.8">−4</tspan></text>
<text x="198.30" y="272.33" font-size="7.6" text-anchor="end" fill="#231f20" stroke="#231f20" stroke-width="0.15">10<tspan font-size="4.30" dx="0.5" dy="-2.8">−5</tspan></text>
<text x="206.50" y="287.83" font-size="7.6" text-anchor="middle" fill="#231f20" stroke="#231f20" stroke-width="0.15">10<tspan font-size="4.30" dx="0.5" dy="-2.8">−5</tspan></text>
<text x="237.30" y="287.83" font-size="7.6" text-anchor="middle" fill="#231f20" stroke="#231f20" stroke-width="0.15">10<tspan font-size="4.30" dx="0.5" dy="-2.8">−4</tspan></text>
<text x="302.30" y="287.83" font-size="7.6" text-anchor="middle" fill="#231f20" stroke="#231f20" stroke-width="0.15">10<tspan font-size="4.30" dx="0.5" dy="-2.8">−3</tspan></text>
<text x="266.10" y="297.50" font-size="8.9" text-anchor="middle" textLength="66.8" lengthAdjust="spacingAndGlyphs" fill="#231f20" stroke="#231f20" stroke-width="0.22" font-weight="normal" >Baseline frequency (%)</text>
<text x="176.50" y="221.00" font-size="8.9" text-anchor="middle" textLength="57.8" lengthAdjust="spacingAndGlyphs" fill="#231f20" stroke="#231f20" stroke-width="0.22" font-weight="normal" transform="rotate(-90 176.50 217.80)">C3D1 frequency (%)</text>
<polyline points="202.60,275.70 205.20,267.00 208.70,257.40 212.20,248.60 216.60,240.70 221.90,234.60 227.10,230.20 234.10,225.00 329.50,156.40" fill="none" stroke="#137a60" stroke-width="1.5" stroke-dasharray="2.2 1.7"/>
<path d="M202.4,212.3 L226.8,214.1 L247.2,216.4 Q270,222 281.2,235.5 Q290,250 294.1,279" fill="none" stroke="#d0103a" stroke-width="1.5" stroke-dasharray="2.2 1.7"/>
<circle cx="202.20" cy="214.80" r="1.50" fill="#8d84c6" stroke="#000" stroke-width="0.8"/>
<circle cx="202.20" cy="217.70" r="1.50" fill="#8d84c6" stroke="#000" stroke-width="0.8"/>
<circle cx="202.20" cy="220.40" r="1.50" fill="#8d84c6" stroke="#000" stroke-width="0.8"/>
<circle cx="202.20" cy="223.50" r="1.50" fill="#8d84c6" stroke="#000" stroke-width="0.8"/>
<circle cx="202.20" cy="226.60" r="1.50" fill="#8d84c6" stroke="#000" stroke-width="0.8"/>
<circle cx="202.20" cy="229.30" r="1.50" fill="#8d84c6" stroke="#000" stroke-width="0.8"/>
<circle cx="202.20" cy="232.20" r="1.50" fill="#8d84c6" stroke="#000" stroke-width="0.8"/>
<circle cx="202.20" cy="238.00" r="1.50" fill="#8d84c6" stroke="#000" stroke-width="0.8"/>
<circle cx="202.20" cy="246.70" r="1.50" fill="#8d84c6" stroke="#000" stroke-width="0.8"/>
<circle cx="202.20" cy="261.20" r="1.50" fill="#8d84c6" stroke="#000" stroke-width="0.8"/>
<circle cx="227.10" cy="217.20" r="1.50" fill="#8d84c6" stroke="#000" stroke-width="0.8"/>
<circle cx="227.10" cy="219.70" r="1.50" fill="#8d84c6" stroke="#000" stroke-width="0.8"/>
<circle cx="227.10" cy="222.40" r="1.50" fill="#8d84c6" stroke="#000" stroke-width="0.8"/>
<circle cx="227.10" cy="225.50" r="1.50" fill="#8d84c6" stroke="#000" stroke-width="0.8"/>
<circle cx="227.10" cy="228.00" r="1.50" fill="#8d84c6" stroke="#000" stroke-width="0.8"/>
<circle cx="227.10" cy="232.20" r="1.50" fill="#8d84c6" stroke="#000" stroke-width="0.8"/>
<circle cx="227.10" cy="238.00" r="1.50" fill="#8d84c6" stroke="#000" stroke-width="0.8"/>
<circle cx="227.10" cy="246.70" r="1.50" fill="#8d84c6" stroke="#000" stroke-width="0.8"/>
<circle cx="227.10" cy="261.20" r="1.50" fill="#8d84c6" stroke="#000" stroke-width="0.8"/>
<circle cx="227.10" cy="279.00" r="1.50" fill="#8d84c6" stroke="#000" stroke-width="0.8"/>
<circle cx="247.20" cy="220.50" r="1.50" fill="#8d84c6" stroke="#000" stroke-width="0.8"/>
<circle cx="247.20" cy="225.10" r="1.50" fill="#8d84c6" stroke="#000" stroke-width="0.8"/>
<circle cx="247.20" cy="231.60" r="1.50" fill="#8d84c6" stroke="#000" stroke-width="0.8"/>
<circle cx="247.20" cy="238.00" r="1.50" fill="#8d84c6" stroke="#000" stroke-width="0.8"/>
<circle cx="247.20" cy="246.30" r="1.50" fill="#8d84c6" stroke="#000" stroke-width="0.8"/>
<circle cx="247.20" cy="261.20" r="1.50" fill="#8d84c6" stroke="#000" stroke-width="0.8"/>
<circle cx="247.20" cy="279.00" r="1.50" fill="#8d84c6" stroke="#000" stroke-width="0.8"/>
<circle cx="259.30" cy="220.50" r="1.50" fill="#8d84c6" stroke="#000" stroke-width="0.8"/>
<circle cx="259.30" cy="225.10" r="1.50" fill="#8d84c6" stroke="#000" stroke-width="0.8"/>
<circle cx="259.30" cy="231.60" r="1.50" fill="#8d84c6" stroke="#000" stroke-width="0.8"/>
<circle cx="259.30" cy="238.00" r="1.50" fill="#8d84c6" stroke="#000" stroke-width="0.8"/>
<circle cx="259.30" cy="246.30" r="1.50" fill="#8d84c6" stroke="#000" stroke-width="0.8"/>
<circle cx="259.30" cy="261.20" r="1.50" fill="#8d84c6" stroke="#000" stroke-width="0.8"/>
<circle cx="259.30" cy="279.00" r="1.50" fill="#8d84c6" stroke="#000" stroke-width="0.8"/>
<circle cx="267.50" cy="225.10" r="1.50" fill="#8d84c6" stroke="#000" stroke-width="0.8"/>
<circle cx="267.50" cy="231.60" r="1.50" fill="#8d84c6" stroke="#000" stroke-width="0.8"/>
<circle cx="267.50" cy="238.00" r="1.50" fill="#8d84c6" stroke="#000" stroke-width="0.8"/>
<circle cx="267.50" cy="246.30" r="1.50" fill="#8d84c6" stroke="#000" stroke-width="0.8"/>
<circle cx="267.50" cy="261.20" r="1.50" fill="#8d84c6" stroke="#000" stroke-width="0.8"/>
<circle cx="267.50" cy="279.00" r="1.50" fill="#8d84c6" stroke="#000" stroke-width="0.8"/>
<circle cx="274.20" cy="231.60" r="1.50" fill="#8d84c6" stroke="#000" stroke-width="0.8"/>
<circle cx="274.20" cy="238.00" r="1.50" fill="#8d84c6" stroke="#000" stroke-width="0.8"/>
<circle cx="279.90" cy="238.00" r="1.50" fill="#8d84c6" stroke="#000" stroke-width="0.8"/>
<circle cx="202.20" cy="186.20" r="1.50" fill="#2cb2ea" stroke="#000" stroke-width="0.8"/>
<circle cx="202.20" cy="188.79" r="1.50" fill="#2cb2ea" stroke="#000" stroke-width="0.8"/>
<circle cx="202.20" cy="191.38" r="1.50" fill="#2cb2ea" stroke="#000" stroke-width="0.8"/>
<circle cx="202.20" cy="193.97" r="1.50" fill="#2cb2ea" stroke="#000" stroke-width="0.8"/>
<circle cx="202.20" cy="196.56" r="1.50" fill="#2cb2ea" stroke="#000" stroke-width="0.8"/>
<circle cx="202.20" cy="199.15" r="1.50" fill="#2cb2ea" stroke="#000" stroke-width="0.8"/>
<circle cx="202.20" cy="201.74" r="1.50" fill="#2cb2ea" stroke="#000" stroke-width="0.8"/>
<circle cx="202.20" cy="204.33" r="1.50" fill="#2cb2ea" stroke="#000" stroke-width="0.8"/>
<circle cx="202.20" cy="206.92" r="1.50" fill="#2cb2ea" stroke="#000" stroke-width="0.8"/>
<circle cx="202.20" cy="209.51" r="1.50" fill="#2cb2ea" stroke="#000" stroke-width="0.8"/>
<circle cx="202.20" cy="212.10" r="1.50" fill="#2cb2ea" stroke="#000" stroke-width="0.8"/>
<circle cx="227.10" cy="194.50" r="1.50" fill="#2cb2ea" stroke="#000" stroke-width="0.8"/>
<circle cx="227.10" cy="196.97" r="1.50" fill="#2cb2ea" stroke="#000" stroke-width="0.8"/>
<circle cx="227.10" cy="199.45" r="1.50" fill="#2cb2ea" stroke="#000" stroke-width="0.8"/>
<circle cx="227.10" cy="201.93" r="1.50" fill="#2cb2ea" stroke="#000" stroke-width="0.8"/>
<circle cx="227.10" cy="204.40" r="1.50" fill="#2cb2ea" stroke="#000" stroke-width="0.8"/>
<circle cx="227.10" cy="206.88" r="1.50" fill="#2cb2ea" stroke="#000" stroke-width="0.8"/>
<circle cx="227.10" cy="209.35" r="1.50" fill="#2cb2ea" stroke="#000" stroke-width="0.8"/>
<circle cx="227.10" cy="211.83" r="1.50" fill="#2cb2ea" stroke="#000" stroke-width="0.8"/>
<circle cx="227.10" cy="214.30" r="1.50" fill="#2cb2ea" stroke="#000" stroke-width="0.8"/>
<circle cx="247.20" cy="197.30" r="1.50" fill="#2cb2ea" stroke="#000" stroke-width="0.8"/>
<circle cx="247.20" cy="199.81" r="1.50" fill="#2cb2ea" stroke="#000" stroke-width="0.8"/>
<circle cx="247.20" cy="202.33" r="1.50" fill="#2cb2ea" stroke="#000" stroke-width="0.8"/>
<circle cx="247.20" cy="204.84" r="1.50" fill="#2cb2ea" stroke="#000" stroke-width="0.8"/>
<circle cx="247.20" cy="207.35" r="1.50" fill="#2cb2ea" stroke="#000" stroke-width="0.8"/>
<circle cx="247.20" cy="209.86" r="1.50" fill="#2cb2ea" stroke="#000" stroke-width="0.8"/>
<circle cx="247.20" cy="212.38" r="1.50" fill="#2cb2ea" stroke="#000" stroke-width="0.8"/>
<circle cx="247.20" cy="214.89" r="1.50" fill="#2cb2ea" stroke="#000" stroke-width="0.8"/>
<circle cx="247.20" cy="217.40" r="1.50" fill="#2cb2ea" stroke="#000" stroke-width="0.8"/>
<circle cx="259.26" cy="194.74" r="1.50" fill="#2cb2ea" stroke="#000" stroke-width="0.8"/>
<circle cx="259.26" cy="197.32" r="1.50" fill="#2cb2ea" stroke="#000" stroke-width="0.8"/>
<circle cx="259.26" cy="208.40" r="1.50" fill="#2cb2ea" stroke="#000" stroke-width="0.8"/>
<circle cx="259.26" cy="211.75" r="1.50" fill="#2cb2ea" stroke="#000" stroke-width="0.8"/>
<circle cx="259.26" cy="215.36" r="1.50" fill="#2cb2ea" stroke="#000" stroke-width="0.8"/>
<circle cx="259.26" cy="217.42" r="1.50" fill="#2cb2ea" stroke="#000" stroke-width="0.8"/>
<circle cx="267.51" cy="196.80" r="1.50" fill="#2cb2ea" stroke="#000" stroke-width="0.8"/>
<circle cx="267.51" cy="203.24" r="1.50" fill="#2cb2ea" stroke="#000" stroke-width="0.8"/>
<circle cx="267.51" cy="208.40" r="1.50" fill="#2cb2ea" stroke="#000" stroke-width="0.8"/>
<circle cx="267.51" cy="212.26" r="1.50" fill="#2cb2ea" stroke="#000" stroke-width="0.8"/>
<circle cx="267.51" cy="218.70" r="1.50" fill="#2cb2ea" stroke="#000" stroke-width="0.8"/>
<circle cx="267.51" cy="222.05" r="1.50" fill="#2cb2ea" stroke="#000" stroke-width="0.8"/>
<circle cx="274.21" cy="187.01" r="1.50" fill="#2cb2ea" stroke="#000" stroke-width="0.8"/>
<circle cx="274.21" cy="194.23" r="1.50" fill="#2cb2ea" stroke="#000" stroke-width="0.8"/>
<circle cx="274.21" cy="196.80" r="1.50" fill="#2cb2ea" stroke="#000" stroke-width="0.8"/>
<circle cx="274.21" cy="201.96" r="1.50" fill="#2cb2ea" stroke="#000" stroke-width="0.8"/>
<circle cx="274.21" cy="208.40" r="1.50" fill="#2cb2ea" stroke="#000" stroke-width="0.8"/>
<circle cx="274.21" cy="214.84" r="1.50" fill="#2cb2ea" stroke="#000" stroke-width="0.8"/>
<circle cx="274.21" cy="218.70" r="1.50" fill="#2cb2ea" stroke="#000" stroke-width="0.8"/>
<circle cx="279.88" cy="187.78" r="1.50" fill="#2cb2ea" stroke="#000" stroke-width="0.8"/>
<circle cx="279.88" cy="197.32" r="1.50" fill="#2cb2ea" stroke="#000" stroke-width="0.8"/>
<circle cx="279.88" cy="207.11" r="1.50" fill="#2cb2ea" stroke="#000" stroke-width="0.8"/>
<circle cx="279.88" cy="209.69" r="1.50" fill="#2cb2ea" stroke="#000" stroke-width="0.8"/>
<circle cx="279.88" cy="231.59" r="1.50" fill="#2cb2ea" stroke="#000" stroke-width="0.8"/>
<circle cx="284.26" cy="227.21" r="1.50" fill="#2cb2ea" stroke="#000" stroke-width="0.8"/>
<circle cx="288.38" cy="199.90" r="1.50" fill="#2cb2ea" stroke="#000" stroke-width="0.8"/>
<circle cx="291.47" cy="176.71" r="1.50" fill="#2cb2ea" stroke="#000" stroke-width="0.8"/>
<circle cx="291.47" cy="193.71" r="1.50" fill="#2cb2ea" stroke="#000" stroke-width="0.8"/>
<circle cx="294.82" cy="199.90" r="1.50" fill="#2cb2ea" stroke="#000" stroke-width="0.8"/>
<circle cx="294.82" cy="205.31" r="1.50" fill="#2cb2ea" stroke="#000" stroke-width="0.8"/>
<circle cx="306.93" cy="189.85" r="1.50" fill="#2cb2ea" stroke="#000" stroke-width="0.8"/>
<circle cx="267.70" cy="196.50" r="1.50" fill="#2cb2ea" stroke="#000" stroke-width="0.8"/>
<circle cx="267.70" cy="200.00" r="1.50" fill="#2cb2ea" stroke="#000" stroke-width="0.8"/>
<circle cx="267.70" cy="203.50" r="1.50" fill="#2cb2ea" stroke="#000" stroke-width="0.8"/>
<circle cx="267.70" cy="208.70" r="1.50" fill="#2cb2ea" stroke="#000" stroke-width="0.8"/>
<circle cx="267.70" cy="211.00" r="1.50" fill="#2cb2ea" stroke="#000" stroke-width="0.8"/>
<circle cx="267.70" cy="219.60" r="1.50" fill="#2cb2ea" stroke="#000" stroke-width="0.8"/>
<circle cx="267.70" cy="222.50" r="1.50" fill="#2cb2ea" stroke="#000" stroke-width="0.8"/>
<circle cx="274.00" cy="186.70" r="1.50" fill="#2cb2ea" stroke="#000" stroke-width="0.8"/>
<circle cx="274.00" cy="193.70" r="1.50" fill="#2cb2ea" stroke="#000" stroke-width="0.8"/>
<circle cx="274.00" cy="195.40" r="1.50" fill="#2cb2ea" stroke="#000" stroke-width="0.8"/>
<circle cx="274.00" cy="200.00" r="1.50" fill="#2cb2ea" stroke="#000" stroke-width="0.8"/>
<circle cx="274.00" cy="203.50" r="1.50" fill="#2cb2ea" stroke="#000" stroke-width="0.8"/>
<circle cx="274.00" cy="208.70" r="1.50" fill="#2cb2ea" stroke="#000" stroke-width="0.8"/>
<circle cx="274.00" cy="210.40" r="1.50" fill="#2cb2ea" stroke="#000" stroke-width="0.8"/>
<circle cx="274.00" cy="215.00" r="1.50" fill="#2cb2ea" stroke="#000" stroke-width="0.8"/>
<circle cx="274.00" cy="217.30" r="1.50" fill="#2cb2ea" stroke="#000" stroke-width="0.8"/>
<circle cx="274.00" cy="219.60" r="1.50" fill="#2cb2ea" stroke="#000" stroke-width="0.8"/>
<circle cx="279.80" cy="187.30" r="1.50" fill="#2cb2ea" stroke="#000" stroke-width="0.8"/>
<circle cx="279.80" cy="197.10" r="1.50" fill="#2cb2ea" stroke="#000" stroke-width="0.8"/>
<circle cx="279.80" cy="206.30" r="1.50" fill="#2cb2ea" stroke="#000" stroke-width="0.8"/>
<circle cx="279.80" cy="210.40" r="1.50" fill="#2cb2ea" stroke="#000" stroke-width="0.8"/>
<circle cx="259.40" cy="194.80" r="1.50" fill="#2cb2ea" stroke="#000" stroke-width="0.8"/>
<circle cx="259.40" cy="196.50" r="1.50" fill="#2cb2ea" stroke="#000" stroke-width="0.8"/>
<circle cx="259.40" cy="207.50" r="1.50" fill="#2cb2ea" stroke="#000" stroke-width="0.8"/>
<circle cx="259.40" cy="210.00" r="1.50" fill="#2cb2ea" stroke="#000" stroke-width="0.8"/>
<circle cx="259.40" cy="212.50" r="1.50" fill="#2cb2ea" stroke="#000" stroke-width="0.8"/>
<circle cx="259.40" cy="215.00" r="1.50" fill="#2cb2ea" stroke="#000" stroke-width="0.8"/>
<circle cx="259.40" cy="217.30" r="1.50" fill="#2cb2ea" stroke="#000" stroke-width="0.8"/>
<circle cx="259.40" cy="219.60" r="1.50" fill="#2cb2ea" stroke="#000" stroke-width="0.8"/>
<circle cx="202.20" cy="156.70" r="1.50" fill="#f7931e" stroke="#000" stroke-width="0.8"/>
<circle cx="202.20" cy="159.20" r="1.50" fill="#f7931e" stroke="#000" stroke-width="0.8"/>
<circle cx="202.20" cy="162.30" r="1.50" fill="#f7931e" stroke="#000" stroke-width="0.8"/>
<circle cx="202.20" cy="167.50" r="1.50" fill="#f7931e" stroke="#000" stroke-width="0.8"/>
<circle cx="202.20" cy="170.00" r="1.50" fill="#f7931e" stroke="#000" stroke-width="0.8"/>
<circle cx="202.20" cy="172.70" r="1.50" fill="#f7931e" stroke="#000" stroke-width="0.8"/>
<circle cx="202.20" cy="175.40" r="1.50" fill="#f7931e" stroke="#000" stroke-width="0.8"/>
<circle cx="202.20" cy="177.90" r="1.50" fill="#f7931e" stroke="#000" stroke-width="0.8"/>
<circle cx="202.20" cy="180.40" r="1.50" fill="#f7931e" stroke="#000" stroke-width="0.8"/>
<circle cx="202.20" cy="183.10" r="1.50" fill="#f7931e" stroke="#000" stroke-width="0.8"/>
<circle cx="227.10" cy="170.00" r="1.50" fill="#f7931e" stroke="#000" stroke-width="0.8"/>
<circle cx="274.20" cy="261.20" r="1.70" fill="#8d84c6"/>
<circle cx="202.20" cy="165.40" r="1.80" fill="#f7931e"/>
<circle cx="303.75" cy="228.50" r="2.55" fill="#f7931e"/>
<text x="309.15" y="230.70" font-size="6.3" text-anchor="start" fill="#231f20" stroke="#231f20" stroke-width="0.18" font-weight="normal" >14</text>
<circle cx="303.75" cy="236.50" r="2.30" fill="#f7931e" stroke="#000" stroke-width="1.1"/>
<text x="309.15" y="238.70" font-size="6.3" text-anchor="start" fill="#231f20" stroke="#231f20" stroke-width="0.18" font-weight="normal" >10</text>
<circle cx="303.75" cy="244.60" r="2.55" fill="#2cb2ea"/>
<text x="309.15" y="246.80" font-size="6.3" text-anchor="start" fill="#231f20" stroke="#231f20" stroke-width="0.18" font-weight="normal" >235</text>
<circle cx="303.75" cy="252.70" r="2.30" fill="#2cb2ea" stroke="#000" stroke-width="1.1"/>
<text x="309.15" y="254.90" font-size="6.3" text-anchor="start" fill="#231f20" stroke="#231f20" stroke-width="0.18" font-weight="normal" >179</text>
<circle cx="303.75" cy="260.80" r="2.55" fill="#8d84c6"/>
<text x="309.15" y="263.00" font-size="6.3" text-anchor="start" fill="#231f20" stroke="#231f20" stroke-width="0.18" font-weight="normal" >52126</text>
<circle cx="303.75" cy="268.80" r="2.30" fill="#8d84c6" stroke="#000" stroke-width="1.1"/>
<text x="309.15" y="271.00" font-size="6.3" text-anchor="start" fill="#231f20" stroke="#231f20" stroke-width="0.18" font-weight="normal" >5398</text>
<rect x="372.20" y="154.90" width="128.60" height="123.70" fill="none" stroke="#000" stroke-width="1.5"/>
<text x="436.50" y="151.90" font-size="9.3" text-anchor="middle" fill="#c8163a" stroke="#c8163a" stroke-width="0.18" font-weight="normal" >Pt 103</text>
<text x="368.30" y="173.63" font-size="7.6" text-anchor="end" fill="#231f20" stroke="#231f20" stroke-width="0.15">10<tspan font-size="4.30" dx="0.5" dy="-2.8">−2</tspan></text>
<text x="368.30" y="203.73" font-size="7.6" text-anchor="end" fill="#231f20" stroke="#231f20" stroke-width="0.15">10<tspan font-size="4.30" dx="0.5" dy="-2.8">−3</tspan></text>
<text x="368.30" y="236.13" font-size="7.6" text-anchor="end" fill="#231f20" stroke="#231f20" stroke-width="0.15">10<tspan font-size="4.30" dx="0.5" dy="-2.8">−4</tspan></text>
<text x="368.30" y="267.43" font-size="7.6" text-anchor="end" fill="#231f20" stroke="#231f20" stroke-width="0.15">10<tspan font-size="4.30" dx="0.5" dy="-2.8">−5</tspan></text>
<text x="377.40" y="287.83" font-size="7.6" text-anchor="middle" fill="#231f20" stroke="#231f20" stroke-width="0.15">10<tspan font-size="4.30" dx="0.5" dy="-2.8">−5</tspan></text>
<text x="405.80" y="287.83" font-size="7.6" text-anchor="middle" fill="#231f20" stroke="#231f20" stroke-width="0.15">10<tspan font-size="4.30" dx="0.5" dy="-2.8">−4</tspan></text>
<text x="443.10" y="287.83" font-size="7.6" text-anchor="middle" fill="#231f20" stroke="#231f20" stroke-width="0.15">10<tspan font-size="4.30" dx="0.5" dy="-2.8">−3</tspan></text>
<text x="481.20" y="287.83" font-size="7.6" text-anchor="middle" fill="#231f20" stroke="#231f20" stroke-width="0.15">10<tspan font-size="4.30" dx="0.5" dy="-2.8">−2</tspan></text>
<text x="436.50" y="297.50" font-size="8.9" text-anchor="middle" textLength="66.8" lengthAdjust="spacingAndGlyphs" fill="#231f20" stroke="#231f20" stroke-width="0.22" font-weight="normal" >Baseline frequency (%)</text>
<text x="344.70" y="221.20" font-size="8.9" text-anchor="middle" textLength="58" lengthAdjust="spacingAndGlyphs" fill="#231f20" stroke="#231f20" stroke-width="0.22" font-weight="normal" transform="rotate(-90 344.70 218.00)">C3D1 frequency (%)</text>
<polyline points="372.60,275.30 375.30,267.00 378.80,260.00 383.10,253.90 387.50,249.50 392.80,244.30 398.00,240.80 401.50,238.10 405.00,235.50 499.50,157.00" fill="none" stroke="#137a60" stroke-width="1.5" stroke-dasharray="2.2 1.7"/>
<path d="M372.4,237.2 L394.1,239.1 L405.8,243 Q414,249 417.6,254.8 Q421,262 421.9,278.3" fill="none" stroke="#d0103a" stroke-width="1.5" stroke-dasharray="2.2 1.7"/>
<circle cx="372.20" cy="238.50" r="1.50" fill="#8d84c6" stroke="#000" stroke-width="0.8"/>
<circle cx="372.20" cy="241.43" r="1.50" fill="#8d84c6" stroke="#000" stroke-width="0.8"/>
<circle cx="372.20" cy="244.35" r="1.50" fill="#8d84c6" stroke="#000" stroke-width="0.8"/>
<circle cx="372.20" cy="247.27" r="1.50" fill="#8d84c6" stroke="#000" stroke-width="0.8"/>
<circle cx="372.20" cy="250.20" r="1.50" fill="#8d84c6" stroke="#000" stroke-width="0.8"/>
<circle cx="372.20" cy="253.10" r="1.50" fill="#8d84c6" stroke="#000" stroke-width="0.8"/>
<circle cx="372.20" cy="258.00" r="1.50" fill="#8d84c6" stroke="#000" stroke-width="0.8"/>
<circle cx="372.20" cy="267.80" r="1.50" fill="#8d84c6" stroke="#000" stroke-width="0.8"/>
<circle cx="385.20" cy="239.00" r="1.50" fill="#8d84c6" stroke="#000" stroke-width="0.8"/>
<circle cx="385.20" cy="241.80" r="1.50" fill="#8d84c6" stroke="#000" stroke-width="0.8"/>
<circle cx="385.20" cy="244.60" r="1.50" fill="#8d84c6" stroke="#000" stroke-width="0.8"/>
<circle cx="385.20" cy="247.40" r="1.50" fill="#8d84c6" stroke="#000" stroke-width="0.8"/>
<circle cx="385.20" cy="250.20" r="1.50" fill="#8d84c6" stroke="#000" stroke-width="0.8"/>
<circle cx="385.20" cy="253.10" r="1.50" fill="#8d84c6" stroke="#000" stroke-width="0.8"/>
<circle cx="385.20" cy="258.00" r="1.50" fill="#8d84c6" stroke="#000" stroke-width="0.8"/>
<circle cx="385.20" cy="267.80" r="1.50" fill="#8d84c6" stroke="#000" stroke-width="0.8"/>
<circle cx="385.20" cy="278.90" r="1.50" fill="#8d84c6" stroke="#000" stroke-width="0.8"/>
<circle cx="396.30" cy="239.00" r="1.50" fill="#8d84c6" stroke="#000" stroke-width="0.8"/>
<circle cx="396.30" cy="241.80" r="1.50" fill="#8d84c6" stroke="#000" stroke-width="0.8"/>
<circle cx="396.30" cy="244.60" r="1.50" fill="#8d84c6" stroke="#000" stroke-width="0.8"/>
<circle cx="396.30" cy="247.40" r="1.50" fill="#8d84c6" stroke="#000" stroke-width="0.8"/>
<circle cx="396.30" cy="250.20" r="1.50" fill="#8d84c6" stroke="#000" stroke-width="0.8"/>
<circle cx="396.30" cy="253.10" r="1.50" fill="#8d84c6" stroke="#000" stroke-width="0.8"/>
<circle cx="396.30" cy="258.00" r="1.50" fill="#8d84c6" stroke="#000" stroke-width="0.8"/>
<circle cx="396.30" cy="267.80" r="1.50" fill="#8d84c6" stroke="#000" stroke-width="0.8"/>
<circle cx="396.30" cy="278.90" r="1.50" fill="#8d84c6" stroke="#000" stroke-width="0.8"/>
<circle cx="402.80" cy="240.40" r="1.50" fill="#8d84c6" stroke="#000" stroke-width="0.8"/>
<circle cx="402.80" cy="242.85" r="1.50" fill="#8d84c6" stroke="#000" stroke-width="0.8"/>
<circle cx="402.80" cy="245.30" r="1.50" fill="#8d84c6" stroke="#000" stroke-width="0.8"/>
<circle cx="402.80" cy="247.75" r="1.50" fill="#8d84c6" stroke="#000" stroke-width="0.8"/>
<circle cx="402.80" cy="250.20" r="1.50" fill="#8d84c6" stroke="#000" stroke-width="0.8"/>
<circle cx="402.80" cy="253.10" r="1.50" fill="#8d84c6" stroke="#000" stroke-width="0.8"/>
<circle cx="402.80" cy="258.00" r="1.50" fill="#8d84c6" stroke="#000" stroke-width="0.8"/>
<circle cx="402.80" cy="267.80" r="1.50" fill="#8d84c6" stroke="#000" stroke-width="0.8"/>
<circle cx="402.80" cy="278.90" r="1.50" fill="#8d84c6" stroke="#000" stroke-width="0.8"/>
<circle cx="407.50" cy="245.00" r="1.50" fill="#8d84c6" stroke="#000" stroke-width="0.8"/>
<circle cx="407.50" cy="247.60" r="1.50" fill="#8d84c6" stroke="#000" stroke-width="0.8"/>
<circle cx="407.50" cy="250.20" r="1.50" fill="#8d84c6" stroke="#000" stroke-width="0.8"/>
<circle cx="407.50" cy="253.10" r="1.50" fill="#8d84c6" stroke="#000" stroke-width="0.8"/>
<circle cx="407.50" cy="258.00" r="1.50" fill="#8d84c6" stroke="#000" stroke-width="0.8"/>
<circle cx="407.50" cy="267.80" r="1.50" fill="#8d84c6" stroke="#000" stroke-width="0.8"/>
<circle cx="407.50" cy="278.90" r="1.50" fill="#8d84c6" stroke="#000" stroke-width="0.8"/>
<circle cx="411.00" cy="248.90" r="1.50" fill="#8d84c6" stroke="#000" stroke-width="0.8"/>
<circle cx="411.00" cy="253.10" r="1.50" fill="#8d84c6" stroke="#000" stroke-width="0.8"/>
<circle cx="411.00" cy="258.00" r="1.50" fill="#8d84c6" stroke="#000" stroke-width="0.8"/>
<circle cx="411.00" cy="267.80" r="1.50" fill="#8d84c6" stroke="#000" stroke-width="0.8"/>
<circle cx="411.00" cy="278.90" r="1.50" fill="#8d84c6" stroke="#000" stroke-width="0.8"/>
<circle cx="414.30" cy="258.00" r="1.50" fill="#8d84c6" stroke="#000" stroke-width="0.8"/>
<circle cx="414.30" cy="267.80" r="1.50" fill="#8d84c6" stroke="#000" stroke-width="0.8"/>
<circle cx="416.90" cy="258.00" r="1.50" fill="#8d84c6" stroke="#000" stroke-width="0.8"/>
<circle cx="372.20" cy="224.40" r="1.50" fill="#2cb2ea" stroke="#000" stroke-width="0.8"/>
<circle cx="372.20" cy="231.30" r="1.50" fill="#2cb2ea" stroke="#000" stroke-width="0.8"/>
<circle cx="372.20" cy="233.90" r="1.50" fill="#2cb2ea" stroke="#000" stroke-width="0.8"/>
<circle cx="372.20" cy="236.50" r="1.50" fill="#2cb2ea" stroke="#000" stroke-width="0.8"/>
<circle cx="385.20" cy="226.70" r="1.50" fill="#2cb2ea" stroke="#000" stroke-width="0.8"/>
<circle cx="385.20" cy="229.47" r="1.50" fill="#2cb2ea" stroke="#000" stroke-width="0.8"/>
<circle cx="385.20" cy="232.25" r="1.50" fill="#2cb2ea" stroke="#000" stroke-width="0.8"/>
<circle cx="385.20" cy="235.03" r="1.50" fill="#2cb2ea" stroke="#000" stroke-width="0.8"/>
<circle cx="385.20" cy="237.80" r="1.50" fill="#2cb2ea" stroke="#000" stroke-width="0.8"/>
<circle cx="396.30" cy="228.00" r="1.50" fill="#2cb2ea" stroke="#000" stroke-width="0.8"/>
<circle cx="396.30" cy="230.45" r="1.50" fill="#2cb2ea" stroke="#000" stroke-width="0.8"/>
<circle cx="396.30" cy="232.90" r="1.50" fill="#2cb2ea" stroke="#000" stroke-width="0.8"/>
<circle cx="396.30" cy="235.35" r="1.50" fill="#2cb2ea" stroke="#000" stroke-width="0.8"/>
<circle cx="396.30" cy="237.80" r="1.50" fill="#2cb2ea" stroke="#000" stroke-width="0.8"/>
<circle cx="402.80" cy="223.50" r="1.50" fill="#2cb2ea" stroke="#000" stroke-width="0.8"/>
<circle cx="402.80" cy="226.08" r="1.50" fill="#2cb2ea" stroke="#000" stroke-width="0.8"/>
<circle cx="402.80" cy="228.67" r="1.50" fill="#2cb2ea" stroke="#000" stroke-width="0.8"/>
<circle cx="402.80" cy="231.25" r="1.50" fill="#2cb2ea" stroke="#000" stroke-width="0.8"/>
<circle cx="402.80" cy="233.83" r="1.50" fill="#2cb2ea" stroke="#000" stroke-width="0.8"/>
<circle cx="402.80" cy="236.42" r="1.50" fill="#2cb2ea" stroke="#000" stroke-width="0.8"/>
<circle cx="402.80" cy="239.00" r="1.50" fill="#2cb2ea" stroke="#000" stroke-width="0.8"/>
<circle cx="407.50" cy="217.60" r="1.50" fill="#2cb2ea" stroke="#000" stroke-width="0.8"/>
<circle cx="407.50" cy="220.42" r="1.50" fill="#2cb2ea" stroke="#000" stroke-width="0.8"/>
<circle cx="407.50" cy="223.24" r="1.50" fill="#2cb2ea" stroke="#000" stroke-width="0.8"/>
<circle cx="407.50" cy="226.07" r="1.50" fill="#2cb2ea" stroke="#000" stroke-width="0.8"/>
<circle cx="407.50" cy="228.89" r="1.50" fill="#2cb2ea" stroke="#000" stroke-width="0.8"/>
<circle cx="407.50" cy="231.71" r="1.50" fill="#2cb2ea" stroke="#000" stroke-width="0.8"/>
<circle cx="407.50" cy="234.53" r="1.50" fill="#2cb2ea" stroke="#000" stroke-width="0.8"/>
<circle cx="407.50" cy="237.36" r="1.50" fill="#2cb2ea" stroke="#000" stroke-width="0.8"/>
<circle cx="407.50" cy="240.18" r="1.50" fill="#2cb2ea" stroke="#000" stroke-width="0.8"/>
<circle cx="407.50" cy="243.00" r="1.50" fill="#2cb2ea" stroke="#000" stroke-width="0.8"/>
<circle cx="385.20" cy="220.60" r="1.50" fill="#2cb2ea" stroke="#000" stroke-width="0.8"/>
<circle cx="396.30" cy="224.40" r="1.50" fill="#2cb2ea" stroke="#000" stroke-width="0.8"/>
<circle cx="411.00" cy="216.30" r="1.50" fill="#2cb2ea" stroke="#000" stroke-width="0.8"/>
<circle cx="411.00" cy="218.96" r="1.50" fill="#2cb2ea" stroke="#000" stroke-width="0.8"/>
<circle cx="411.00" cy="221.63" r="1.50" fill="#2cb2ea" stroke="#000" stroke-width="0.8"/>
<circle cx="411.00" cy="224.29" r="1.50" fill="#2cb2ea" stroke="#000" stroke-width="0.8"/>
<circle cx="411.00" cy="226.95" r="1.50" fill="#2cb2ea" stroke="#000" stroke-width="0.8"/>
<circle cx="411.00" cy="229.62" r="1.50" fill="#2cb2ea" stroke="#000" stroke-width="0.8"/>
<circle cx="411.00" cy="232.28" r="1.50" fill="#2cb2ea" stroke="#000" stroke-width="0.8"/>
<circle cx="411.00" cy="234.95" r="1.50" fill="#2cb2ea" stroke="#000" stroke-width="0.8"/>
<circle cx="411.00" cy="237.61" r="1.50" fill="#2cb2ea" stroke="#000" stroke-width="0.8"/>
<circle cx="411.00" cy="240.27" r="1.50" fill="#2cb2ea" stroke="#000" stroke-width="0.8"/>
<circle cx="411.00" cy="242.94" r="1.50" fill="#2cb2ea" stroke="#000" stroke-width="0.8"/>
<circle cx="411.00" cy="245.60" r="1.50" fill="#2cb2ea" stroke="#000" stroke-width="0.8"/>
<circle cx="414.30" cy="219.60" r="1.50" fill="#2cb2ea" stroke="#000" stroke-width="0.8"/>
<circle cx="414.30" cy="222.21" r="1.50" fill="#2cb2ea" stroke="#000" stroke-width="0.8"/>
<circle cx="414.30" cy="224.82" r="1.50" fill="#2cb2ea" stroke="#000" stroke-width="0.8"/>
<circle cx="414.30" cy="227.43" r="1.50" fill="#2cb2ea" stroke="#000" stroke-width="0.8"/>
<circle cx="414.30" cy="230.04" r="1.50" fill="#2cb2ea" stroke="#000" stroke-width="0.8"/>
<circle cx="414.30" cy="232.65" r="1.50" fill="#2cb2ea" stroke="#000" stroke-width="0.8"/>
<circle cx="414.30" cy="235.25" r="1.50" fill="#2cb2ea" stroke="#000" stroke-width="0.8"/>
<circle cx="414.30" cy="237.86" r="1.50" fill="#2cb2ea" stroke="#000" stroke-width="0.8"/>
<circle cx="414.30" cy="240.47" r="1.50" fill="#2cb2ea" stroke="#000" stroke-width="0.8"/>
<circle cx="414.30" cy="243.08" r="1.50" fill="#2cb2ea" stroke="#000" stroke-width="0.8"/>
<circle cx="414.30" cy="245.69" r="1.50" fill="#2cb2ea" stroke="#000" stroke-width="0.8"/>
<circle cx="414.30" cy="248.30" r="1.50" fill="#2cb2ea" stroke="#000" stroke-width="0.8"/>
<circle cx="414.30" cy="253.10" r="1.50" fill="#2cb2ea" stroke="#000" stroke-width="0.8"/>
<circle cx="416.90" cy="248.30" r="1.50" fill="#2cb2ea" stroke="#000" stroke-width="0.8"/>
<circle cx="416.90" cy="253.10" r="1.50" fill="#2cb2ea" stroke="#000" stroke-width="0.8"/>
<circle cx="418.90" cy="253.10" r="1.50" fill="#2cb2ea" stroke="#000" stroke-width="0.8"/>
<circle cx="476.79" cy="171.32" r="1.50" fill="#2cb2ea" stroke="#000" stroke-width="0.8"/>
<circle cx="475.58" cy="173.76" r="1.50" fill="#2cb2ea" stroke="#000" stroke-width="0.8"/>
<circle cx="470.91" cy="176.16" r="1.50" fill="#2cb2ea" stroke="#000" stroke-width="0.8"/>
<circle cx="473.61" cy="176.21" r="1.50" fill="#2cb2ea" stroke="#000" stroke-width="0.8"/>
<circle cx="477.39" cy="176.24" r="1.50" fill="#2cb2ea" stroke="#000" stroke-width="0.8"/>
<circle cx="466.36" cy="179.68" r="1.50" fill="#2cb2ea" stroke="#000" stroke-width="0.8"/>
<circle cx="469.26" cy="179.70" r="1.50" fill="#2cb2ea" stroke="#000" stroke-width="0.8"/>
<circle cx="472.77" cy="179.08" r="1.50" fill="#2cb2ea" stroke="#000" stroke-width="0.8"/>
<circle cx="475.21" cy="179.10" r="1.50" fill="#2cb2ea" stroke="#000" stroke-width="0.8"/>
<circle cx="464.41" cy="182.04" r="1.50" fill="#2cb2ea" stroke="#000" stroke-width="0.8"/>
<circle cx="467.69" cy="182.01" r="1.50" fill="#2cb2ea" stroke="#000" stroke-width="0.8"/>
<circle cx="470.50" cy="181.71" r="1.50" fill="#2cb2ea" stroke="#000" stroke-width="0.8"/>
<circle cx="473.93" cy="181.80" r="1.50" fill="#2cb2ea" stroke="#000" stroke-width="0.8"/>
<circle cx="463.11" cy="184.49" r="1.50" fill="#2cb2ea" stroke="#000" stroke-width="0.8"/>
<circle cx="466.43" cy="184.44" r="1.50" fill="#2cb2ea" stroke="#000" stroke-width="0.8"/>
<circle cx="469.37" cy="185.00" r="1.50" fill="#2cb2ea" stroke="#000" stroke-width="0.8"/>
<circle cx="458.31" cy="187.80" r="1.50" fill="#2cb2ea" stroke="#000" stroke-width="0.8"/>
<circle cx="461.53" cy="187.60" r="1.50" fill="#2cb2ea" stroke="#000" stroke-width="0.8"/>
<circle cx="464.69" cy="186.95" r="1.50" fill="#2cb2ea" stroke="#000" stroke-width="0.8"/>
<circle cx="468.04" cy="187.43" r="1.50" fill="#2cb2ea" stroke="#000" stroke-width="0.8"/>
<circle cx="460.23" cy="190.15" r="1.50" fill="#2cb2ea" stroke="#000" stroke-width="0.8"/>
<circle cx="463.11" cy="190.37" r="1.50" fill="#2cb2ea" stroke="#000" stroke-width="0.8"/>
<circle cx="455.55" cy="192.36" r="1.50" fill="#2cb2ea" stroke="#000" stroke-width="0.8"/>
<circle cx="458.63" cy="193.20" r="1.50" fill="#2cb2ea" stroke="#000" stroke-width="0.8"/>
<circle cx="461.41" cy="192.66" r="1.50" fill="#2cb2ea" stroke="#000" stroke-width="0.8"/>
<circle cx="447.22" cy="195.42" r="1.50" fill="#2cb2ea" stroke="#000" stroke-width="0.8"/>
<circle cx="450.41" cy="195.06" r="1.50" fill="#2cb2ea" stroke="#000" stroke-width="0.8"/>
<circle cx="453.52" cy="195.23" r="1.50" fill="#2cb2ea" stroke="#000" stroke-width="0.8"/>
<circle cx="457.28" cy="195.08" r="1.50" fill="#2cb2ea" stroke="#000" stroke-width="0.8"/>
<circle cx="443.04" cy="198.50" r="1.50" fill="#2cb2ea" stroke="#000" stroke-width="0.8"/>
<circle cx="446.43" cy="197.95" r="1.50" fill="#2cb2ea" stroke="#000" stroke-width="0.8"/>
<circle cx="449.07" cy="198.50" r="1.50" fill="#2cb2ea" stroke="#000" stroke-width="0.8"/>
<circle cx="455.11" cy="197.91" r="1.50" fill="#2cb2ea" stroke="#000" stroke-width="0.8"/>
<circle cx="438.34" cy="200.93" r="1.50" fill="#2cb2ea" stroke="#000" stroke-width="0.8"/>
<circle cx="441.00" cy="200.78" r="1.50" fill="#2cb2ea" stroke="#000" stroke-width="0.8"/>
<circle cx="444.61" cy="201.26" r="1.50" fill="#2cb2ea" stroke="#000" stroke-width="0.8"/>
<circle cx="447.66" cy="200.95" r="1.50" fill="#2cb2ea" stroke="#000" stroke-width="0.8"/>
<circle cx="450.35" cy="201.21" r="1.50" fill="#2cb2ea" stroke="#000" stroke-width="0.8"/>
<circle cx="454.19" cy="201.12" r="1.50" fill="#2cb2ea" stroke="#000" stroke-width="0.8"/>
<circle cx="433.61" cy="203.19" r="1.50" fill="#2cb2ea" stroke="#000" stroke-width="0.8"/>
<circle cx="436.41" cy="203.16" r="1.50" fill="#2cb2ea" stroke="#000" stroke-width="0.8"/>
<circle cx="439.60" cy="203.40" r="1.50" fill="#2cb2ea" stroke="#000" stroke-width="0.8"/>
<circle cx="442.55" cy="203.23" r="1.50" fill="#2cb2ea" stroke="#000" stroke-width="0.8"/>
<circle cx="445.98" cy="203.12" r="1.50" fill="#2cb2ea" stroke="#000" stroke-width="0.8"/>
<circle cx="428.73" cy="206.02" r="1.50" fill="#2cb2ea" stroke="#000" stroke-width="0.8"/>
<circle cx="432.03" cy="205.90" r="1.50" fill="#2cb2ea" stroke="#000" stroke-width="0.8"/>
<circle cx="435.69" cy="206.21" r="1.50" fill="#2cb2ea" stroke="#000" stroke-width="0.8"/>
<circle cx="437.98" cy="205.88" r="1.50" fill="#2cb2ea" stroke="#000" stroke-width="0.8"/>
<circle cx="441.24" cy="206.54" r="1.50" fill="#2cb2ea" stroke="#000" stroke-width="0.8"/>
<circle cx="444.12" cy="206.65" r="1.50" fill="#2cb2ea" stroke="#000" stroke-width="0.8"/>
<circle cx="447.33" cy="206.28" r="1.50" fill="#2cb2ea" stroke="#000" stroke-width="0.8"/>
<circle cx="424.43" cy="209.37" r="1.50" fill="#2cb2ea" stroke="#000" stroke-width="0.8"/>
<circle cx="430.39" cy="208.82" r="1.50" fill="#2cb2ea" stroke="#000" stroke-width="0.8"/>
<circle cx="433.94" cy="208.97" r="1.50" fill="#2cb2ea" stroke="#000" stroke-width="0.8"/>
<circle cx="436.65" cy="208.69" r="1.50" fill="#2cb2ea" stroke="#000" stroke-width="0.8"/>
<circle cx="440.34" cy="209.26" r="1.50" fill="#2cb2ea" stroke="#000" stroke-width="0.8"/>
<circle cx="443.29" cy="209.16" r="1.50" fill="#2cb2ea" stroke="#000" stroke-width="0.8"/>
<circle cx="446.12" cy="208.81" r="1.50" fill="#2cb2ea" stroke="#000" stroke-width="0.8"/>
<circle cx="422.43" cy="211.44" r="1.50" fill="#2cb2ea" stroke="#000" stroke-width="0.8"/>
<circle cx="426.12" cy="212.05" r="1.50" fill="#2cb2ea" stroke="#000" stroke-width="0.8"/>
<circle cx="429.44" cy="212.08" r="1.50" fill="#2cb2ea" stroke="#000" stroke-width="0.8"/>
<circle cx="435.00" cy="211.39" r="1.50" fill="#2cb2ea" stroke="#000" stroke-width="0.8"/>
<circle cx="438.08" cy="211.75" r="1.50" fill="#2cb2ea" stroke="#000" stroke-width="0.8"/>
<circle cx="444.53" cy="211.77" r="1.50" fill="#2cb2ea" stroke="#000" stroke-width="0.8"/>
<circle cx="417.83" cy="214.48" r="1.50" fill="#2cb2ea" stroke="#000" stroke-width="0.8"/>
<circle cx="424.63" cy="214.31" r="1.50" fill="#2cb2ea" stroke="#000" stroke-width="0.8"/>
<circle cx="427.76" cy="214.18" r="1.50" fill="#2cb2ea" stroke="#000" stroke-width="0.8"/>
<circle cx="431.02" cy="214.24" r="1.50" fill="#2cb2ea" stroke="#000" stroke-width="0.8"/>
<circle cx="434.10" cy="214.54" r="1.50" fill="#2cb2ea" stroke="#000" stroke-width="0.8"/>
<circle cx="436.46" cy="214.02" r="1.50" fill="#2cb2ea" stroke="#000" stroke-width="0.8"/>
<circle cx="413.23" cy="217.32" r="1.50" fill="#2cb2ea" stroke="#000" stroke-width="0.8"/>
<circle cx="419.62" cy="217.07" r="1.50" fill="#2cb2ea" stroke="#000" stroke-width="0.8"/>
<circle cx="422.41" cy="217.45" r="1.50" fill="#2cb2ea" stroke="#000" stroke-width="0.8"/>
<circle cx="425.97" cy="217.42" r="1.50" fill="#2cb2ea" stroke="#000" stroke-width="0.8"/>
<circle cx="429.38" cy="217.32" r="1.50" fill="#2cb2ea" stroke="#000" stroke-width="0.8"/>
<circle cx="431.93" cy="216.84" r="1.50" fill="#2cb2ea" stroke="#000" stroke-width="0.8"/>
<circle cx="435.33" cy="216.81" r="1.50" fill="#2cb2ea" stroke="#000" stroke-width="0.8"/>
<circle cx="438.02" cy="217.40" r="1.50" fill="#2cb2ea" stroke="#000" stroke-width="0.8"/>
<circle cx="415.06" cy="219.80" r="1.50" fill="#2cb2ea" stroke="#000" stroke-width="0.8"/>
<circle cx="421.68" cy="219.73" r="1.50" fill="#2cb2ea" stroke="#000" stroke-width="0.8"/>
<circle cx="424.42" cy="219.29" r="1.50" fill="#2cb2ea" stroke="#000" stroke-width="0.8"/>
<circle cx="427.21" cy="219.28" r="1.50" fill="#2cb2ea" stroke="#000" stroke-width="0.8"/>
<circle cx="430.31" cy="219.70" r="1.50" fill="#2cb2ea" stroke="#000" stroke-width="0.8"/>
<circle cx="433.75" cy="219.57" r="1.50" fill="#2cb2ea" stroke="#000" stroke-width="0.8"/>
<circle cx="436.85" cy="219.98" r="1.50" fill="#2cb2ea" stroke="#000" stroke-width="0.8"/>
<circle cx="413.60" cy="222.20" r="1.50" fill="#2cb2ea" stroke="#000" stroke-width="0.8"/>
<circle cx="416.90" cy="222.43" r="1.50" fill="#2cb2ea" stroke="#000" stroke-width="0.8"/>
<circle cx="419.98" cy="222.80" r="1.50" fill="#2cb2ea" stroke="#000" stroke-width="0.8"/>
<circle cx="422.95" cy="222.43" r="1.50" fill="#2cb2ea" stroke="#000" stroke-width="0.8"/>
<circle cx="426.12" cy="222.38" r="1.50" fill="#2cb2ea" stroke="#000" stroke-width="0.8"/>
<circle cx="429.03" cy="222.82" r="1.50" fill="#2cb2ea" stroke="#000" stroke-width="0.8"/>
<circle cx="432.49" cy="222.82" r="1.50" fill="#2cb2ea" stroke="#000" stroke-width="0.8"/>
<circle cx="435.30" cy="222.82" r="1.50" fill="#2cb2ea" stroke="#000" stroke-width="0.8"/>
<circle cx="414.77" cy="224.78" r="1.50" fill="#2cb2ea" stroke="#000" stroke-width="0.8"/>
<circle cx="417.82" cy="224.89" r="1.50" fill="#2cb2ea" stroke="#000" stroke-width="0.8"/>
<circle cx="421.45" cy="225.38" r="1.50" fill="#2cb2ea" stroke="#000" stroke-width="0.8"/>
<circle cx="427.69" cy="225.27" r="1.50" fill="#2cb2ea" stroke="#000" stroke-width="0.8"/>
<circle cx="430.94" cy="225.54" r="1.50" fill="#2cb2ea" stroke="#000" stroke-width="0.8"/>
<circle cx="434.11" cy="225.03" r="1.50" fill="#2cb2ea" stroke="#000" stroke-width="0.8"/>
<circle cx="413.99" cy="228.12" r="1.50" fill="#2cb2ea" stroke="#000" stroke-width="0.8"/>
<circle cx="416.59" cy="227.83" r="1.50" fill="#2cb2ea" stroke="#000" stroke-width="0.8"/>
<circle cx="419.48" cy="227.66" r="1.50" fill="#2cb2ea" stroke="#000" stroke-width="0.8"/>
<circle cx="422.42" cy="227.87" r="1.50" fill="#2cb2ea" stroke="#000" stroke-width="0.8"/>
<circle cx="425.52" cy="227.67" r="1.50" fill="#2cb2ea" stroke="#000" stroke-width="0.8"/>
<circle cx="429.06" cy="227.43" r="1.50" fill="#2cb2ea" stroke="#000" stroke-width="0.8"/>
<circle cx="415.52" cy="230.16" r="1.50" fill="#2cb2ea" stroke="#000" stroke-width="0.8"/>
<circle cx="417.79" cy="230.77" r="1.50" fill="#2cb2ea" stroke="#000" stroke-width="0.8"/>
<circle cx="420.97" cy="230.45" r="1.50" fill="#2cb2ea" stroke="#000" stroke-width="0.8"/>
<circle cx="427.28" cy="230.20" r="1.50" fill="#2cb2ea" stroke="#000" stroke-width="0.8"/>
<circle cx="416.83" cy="232.84" r="1.50" fill="#2cb2ea" stroke="#000" stroke-width="0.8"/>
<circle cx="419.92" cy="233.15" r="1.50" fill="#2cb2ea" stroke="#000" stroke-width="0.8"/>
<circle cx="423.24" cy="233.33" r="1.50" fill="#2cb2ea" stroke="#000" stroke-width="0.8"/>
<circle cx="425.58" cy="233.53" r="1.50" fill="#2cb2ea" stroke="#000" stroke-width="0.8"/>
<circle cx="415.43" cy="235.87" r="1.50" fill="#2cb2ea" stroke="#000" stroke-width="0.8"/>
<circle cx="418.25" cy="236.29" r="1.50" fill="#2cb2ea" stroke="#000" stroke-width="0.8"/>
<circle cx="420.97" cy="235.93" r="1.50" fill="#2cb2ea" stroke="#000" stroke-width="0.8"/>
<circle cx="424.05" cy="235.61" r="1.50" fill="#2cb2ea" stroke="#000" stroke-width="0.8"/>
<circle cx="413.28" cy="238.44" r="1.50" fill="#2cb2ea" stroke="#000" stroke-width="0.8"/>
<circle cx="416.88" cy="238.42" r="1.50" fill="#2cb2ea" stroke="#000" stroke-width="0.8"/>
<circle cx="419.46" cy="238.47" r="1.50" fill="#2cb2ea" stroke="#000" stroke-width="0.8"/>
<circle cx="422.63" cy="238.17" r="1.50" fill="#2cb2ea" stroke="#000" stroke-width="0.8"/>
<circle cx="415.15" cy="241.02" r="1.50" fill="#2cb2ea" stroke="#000" stroke-width="0.8"/>
<circle cx="418.59" cy="240.95" r="1.50" fill="#2cb2ea" stroke="#000" stroke-width="0.8"/>
<circle cx="421.24" cy="241.30" r="1.50" fill="#2cb2ea" stroke="#000" stroke-width="0.8"/>
<circle cx="413.45" cy="244.01" r="1.50" fill="#2cb2ea" stroke="#000" stroke-width="0.8"/>
<circle cx="417.08" cy="243.86" r="1.50" fill="#2cb2ea" stroke="#000" stroke-width="0.8"/>
<circle cx="419.94" cy="244.12" r="1.50" fill="#2cb2ea" stroke="#000" stroke-width="0.8"/>
<circle cx="414.96" cy="246.30" r="1.50" fill="#2cb2ea" stroke="#000" stroke-width="0.8"/>
<circle cx="418.70" cy="211.50" r="1.50" fill="#2cb2ea" stroke="#000" stroke-width="0.8"/>
<circle cx="434.20" cy="224.80" r="1.50" fill="#2cb2ea" stroke="#000" stroke-width="0.8"/>
<circle cx="426.20" cy="238.00" r="1.50" fill="#2cb2ea" stroke="#000" stroke-width="0.8"/>
<circle cx="422.10" cy="241.50" r="1.50" fill="#2cb2ea" stroke="#000" stroke-width="0.8"/>
<circle cx="418.70" cy="249.00" r="1.50" fill="#2cb2ea" stroke="#000" stroke-width="0.8"/>
<circle cx="416.30" cy="252.50" r="1.50" fill="#2cb2ea" stroke="#000" stroke-width="0.8"/>
<circle cx="418.70" cy="252.50" r="1.50" fill="#2cb2ea" stroke="#000" stroke-width="0.8"/>
<circle cx="495.50" cy="161.50" r="1.50" fill="#2cb2ea" stroke="#000" stroke-width="0.8"/>
<circle cx="491.20" cy="164.10" r="1.50" fill="#2cb2ea" stroke="#000" stroke-width="0.8"/>
<circle cx="372.20" cy="209.80" r="1.50" fill="#f7931e" stroke="#000" stroke-width="0.8"/>
<circle cx="372.20" cy="216.00" r="1.50" fill="#f7931e" stroke="#000" stroke-width="0.8"/>
<circle cx="496.20" cy="155.80" r="1.50" fill="#f7931e" stroke="#000" stroke-width="0.8"/>
<circle cx="491.20" cy="160.10" r="1.50" fill="#f7931e" stroke="#000" stroke-width="0.8"/>
<circle cx="486.20" cy="163.70" r="1.50" fill="#f7931e" stroke="#000" stroke-width="0.8"/>
<circle cx="478.40" cy="170.80" r="1.50" fill="#f7931e" stroke="#000" stroke-width="0.8"/>
<circle cx="471.70" cy="175.50" r="1.50" fill="#f7931e" stroke="#000" stroke-width="0.8"/>
<circle cx="464.90" cy="178.60" r="1.50" fill="#f7931e" stroke="#000" stroke-width="0.8"/>
<circle cx="427.70" cy="237.80" r="1.50" fill="#3db449" stroke="#000" stroke-width="0.8"/>
<circle cx="423.80" cy="246.20" r="1.50" fill="#3db449" stroke="#000" stroke-width="0.8"/>
<circle cx="444.60" cy="213.60" r="1.50" fill="#3db449" stroke="#000" stroke-width="0.8"/>
<circle cx="473.20" cy="212.20" r="2.55" fill="#3db449"/>
<text x="478.60" y="214.40" font-size="6.3" text-anchor="start" fill="#231f20" stroke="#231f20" stroke-width="0.18" font-weight="normal" >3</text>
<circle cx="473.20" cy="220.30" r="2.30" fill="#3db449" stroke="#000" stroke-width="1.1"/>
<text x="478.60" y="222.50" font-size="6.3" text-anchor="start" fill="#231f20" stroke="#231f20" stroke-width="0.18" font-weight="normal" >3</text>
<circle cx="473.20" cy="228.40" r="2.55" fill="#f7931e"/>
<text x="478.60" y="230.60" font-size="6.3" text-anchor="start" fill="#231f20" stroke="#231f20" stroke-width="0.18" font-weight="normal" >9</text>
<circle cx="473.20" cy="236.40" r="2.30" fill="#f7931e" stroke="#000" stroke-width="1.1"/>
<text x="478.60" y="238.60" font-size="6.3" text-anchor="start" fill="#231f20" stroke="#231f20" stroke-width="0.18" font-weight="normal" >9</text>
<circle cx="473.20" cy="244.50" r="2.55" fill="#2cb2ea"/>
<text x="478.60" y="246.70" font-size="6.3" text-anchor="start" fill="#231f20" stroke="#231f20" stroke-width="0.18" font-weight="normal" >546</text>
<circle cx="473.20" cy="252.50" r="2.30" fill="#2cb2ea" stroke="#000" stroke-width="1.1"/>
<text x="478.60" y="254.70" font-size="6.3" text-anchor="start" fill="#231f20" stroke="#231f20" stroke-width="0.18" font-weight="normal" >540</text>
<circle cx="473.20" cy="260.70" r="2.55" fill="#8d84c6"/>
<text x="478.60" y="262.90" font-size="6.3" text-anchor="start" fill="#231f20" stroke="#231f20" stroke-width="0.18" font-weight="normal" >76090</text>
<circle cx="473.20" cy="268.80" r="2.30" fill="#8d84c6" stroke="#000" stroke-width="1.1"/>
<text x="478.60" y="271.00" font-size="6.3" text-anchor="start" fill="#231f20" stroke="#231f20" stroke-width="0.18" font-weight="normal" >6073</text>
<rect x="37.80" y="316.30" width="128.70" height="124.00" fill="none" stroke="#000" stroke-width="1.5"/>
<text x="102.15" y="312.80" font-size="9.3" text-anchor="middle" fill="#c8163a" stroke="#c8163a" stroke-width="0.18" font-weight="normal" >Pt 109</text>
<text x="34.30" y="340.73" font-size="7.6" text-anchor="end" fill="#231f20" stroke="#231f20" stroke-width="0.15">10<tspan font-size="4.30" dx="0.5" dy="-2.8">−2</tspan></text>
<text x="34.30" y="383.83" font-size="7.6" text-anchor="end" fill="#231f20" stroke="#231f20" stroke-width="0.15">10<tspan font-size="4.30" dx="0.5" dy="-2.8">−3</tspan></text>
<text x="34.30" y="426.23" font-size="7.6" text-anchor="end" fill="#231f20" stroke="#231f20" stroke-width="0.15">10<tspan font-size="4.30" dx="0.5" dy="-2.8">−4</tspan></text>
<text x="34.30" y="441.33" font-size="7.6" text-anchor="end" fill="#231f20" stroke="#231f20" stroke-width="0.15">10<tspan font-size="4.30" dx="0.5" dy="-2.8">−5</tspan></text>
<text x="53.90" y="448.63" font-size="7.6" text-anchor="middle" fill="#231f20" stroke="#231f20" stroke-width="0.15">10<tspan font-size="4.30" dx="0.5" dy="-2.8">−4</tspan></text>
<text x="99.30" y="448.63" font-size="7.6" text-anchor="middle" fill="#231f20" stroke="#231f20" stroke-width="0.15">10<tspan font-size="4.30" dx="0.5" dy="-2.8">−3</tspan></text>
<text x="145.40" y="448.63" font-size="7.6" text-anchor="middle" fill="#231f20" stroke="#231f20" stroke-width="0.15">10<tspan font-size="4.30" dx="0.5" dy="-2.8">−2</tspan></text>
<text x="101.10" y="458.20" font-size="8.9" text-anchor="middle" textLength="66.8" lengthAdjust="spacingAndGlyphs" fill="#231f20" stroke="#231f20" stroke-width="0.22" font-weight="normal" >Baseline frequency (%)</text>
<text x="11.70" y="382.30" font-size="8.9" text-anchor="middle" textLength="57.8" lengthAdjust="spacingAndGlyphs" fill="#231f20" stroke="#231f20" stroke-width="0.22" font-weight="normal" transform="rotate(-90 11.70 379.10)">C3D1 frequency (%)</text>
<polyline points="38.40,438.40 165.30,318.00" fill="none" stroke="#137a60" stroke-width="1.5" stroke-dasharray="2.2 1.7"/>
<path d="M37.9,381.3 L73.6,386.4 L86.5,394.2 Q93,398 95.5,406 L98.1,439.6" fill="none" stroke="#d0103a" stroke-width="1.5" stroke-dasharray="2.2 1.7"/>
<circle cx="37.60" cy="393.60" r="1.50" fill="#8d84c6" stroke="#000" stroke-width="0.8"/>
<circle cx="37.60" cy="397.30" r="1.50" fill="#8d84c6" stroke="#000" stroke-width="0.8"/>
<circle cx="37.60" cy="403.20" r="1.50" fill="#8d84c6" stroke="#000" stroke-width="0.8"/>
<circle cx="37.60" cy="410.90" r="1.50" fill="#8d84c6" stroke="#000" stroke-width="0.8"/>
<circle cx="37.60" cy="423.80" r="1.50" fill="#8d84c6" stroke="#000" stroke-width="0.8"/>
<circle cx="54.30" cy="384.60" r="1.50" fill="#8d84c6" stroke="#000" stroke-width="0.8"/>
<circle cx="54.30" cy="387.70" r="1.50" fill="#8d84c6" stroke="#000" stroke-width="0.8"/>
<circle cx="54.30" cy="390.30" r="1.50" fill="#8d84c6" stroke="#000" stroke-width="0.8"/>
<circle cx="54.30" cy="393.60" r="1.50" fill="#8d84c6" stroke="#000" stroke-width="0.8"/>
<circle cx="54.30" cy="397.30" r="1.50" fill="#8d84c6" stroke="#000" stroke-width="0.8"/>
<circle cx="54.30" cy="403.20" r="1.50" fill="#8d84c6" stroke="#000" stroke-width="0.8"/>
<circle cx="54.30" cy="410.90" r="1.50" fill="#8d84c6" stroke="#000" stroke-width="0.8"/>
<circle cx="54.30" cy="423.80" r="1.50" fill="#8d84c6" stroke="#000" stroke-width="0.8"/>
<circle cx="54.30" cy="439.80" r="1.50" fill="#8d84c6" stroke="#000" stroke-width="0.8"/>
<circle cx="68.00" cy="384.60" r="1.50" fill="#8d84c6" stroke="#000" stroke-width="0.8"/>
<circle cx="68.00" cy="387.70" r="1.50" fill="#8d84c6" stroke="#000" stroke-width="0.8"/>
<circle cx="68.00" cy="390.30" r="1.50" fill="#8d84c6" stroke="#000" stroke-width="0.8"/>
<circle cx="68.00" cy="393.60" r="1.50" fill="#8d84c6" stroke="#000" stroke-width="0.8"/>
<circle cx="68.00" cy="397.30" r="1.50" fill="#8d84c6" stroke="#000" stroke-width="0.8"/>
<circle cx="68.00" cy="403.20" r="1.50" fill="#8d84c6" stroke="#000" stroke-width="0.8"/>
<circle cx="68.00" cy="410.90" r="1.50" fill="#8d84c6" stroke="#000" stroke-width="0.8"/>
<circle cx="68.00" cy="423.80" r="1.50" fill="#8d84c6" stroke="#000" stroke-width="0.8"/>
<circle cx="68.00" cy="439.80" r="1.50" fill="#8d84c6" stroke="#000" stroke-width="0.8"/>
<circle cx="76.30" cy="390.60" r="1.50" fill="#8d84c6" stroke="#000" stroke-width="0.8"/>
<circle cx="76.30" cy="394.00" r="1.50" fill="#8d84c6" stroke="#000" stroke-width="0.8"/>
<circle cx="82.10" cy="394.00" r="1.50" fill="#8d84c6" stroke="#000" stroke-width="0.8"/>
<circle cx="76.30" cy="398.10" r="1.50" fill="#8d84c6" stroke="#000" stroke-width="0.8"/>
<circle cx="82.10" cy="398.10" r="1.50" fill="#8d84c6" stroke="#000" stroke-width="0.8"/>
<circle cx="86.70" cy="398.10" r="1.50" fill="#8d84c6" stroke="#000" stroke-width="0.8"/>
<circle cx="76.30" cy="403.50" r="1.50" fill="#8d84c6" stroke="#000" stroke-width="0.8"/>
<circle cx="82.10" cy="403.50" r="1.50" fill="#8d84c6" stroke="#000" stroke-width="0.8"/>
<circle cx="86.70" cy="403.50" r="1.50" fill="#8d84c6" stroke="#000" stroke-width="0.8"/>
<circle cx="76.30" cy="411.10" r="1.50" fill="#8d84c6" stroke="#000" stroke-width="0.8"/>
<circle cx="82.10" cy="411.10" r="1.50" fill="#8d84c6" stroke="#000" stroke-width="0.8"/>
<circle cx="86.70" cy="411.10" r="1.50" fill="#8d84c6" stroke="#000" stroke-width="0.8"/>
<circle cx="90.80" cy="411.10" r="1.50" fill="#8d84c6" stroke="#000" stroke-width="0.8"/>
<circle cx="93.70" cy="411.10" r="1.50" fill="#8d84c6" stroke="#000" stroke-width="0.8"/>
<circle cx="76.20" cy="423.80" r="1.50" fill="#8d84c6" stroke="#000" stroke-width="0.8"/>
<circle cx="82.20" cy="423.80" r="1.50" fill="#8d84c6" stroke="#000" stroke-width="0.8"/>
<circle cx="87.80" cy="423.80" r="1.50" fill="#8d84c6" stroke="#000" stroke-width="0.8"/>
<circle cx="76.20" cy="439.80" r="1.50" fill="#8d84c6" stroke="#000" stroke-width="0.8"/>
<circle cx="82.20" cy="439.80" r="1.50" fill="#8d84c6" stroke="#000" stroke-width="0.8"/>
<circle cx="87.80" cy="439.80" r="1.50" fill="#8d84c6" stroke="#000" stroke-width="0.8"/>
<circle cx="86.70" cy="368.70" r="1.50" fill="#2cb2ea" stroke="#000" stroke-width="0.8"/>
<circle cx="81.90" cy="375.60" r="1.50" fill="#2cb2ea" stroke="#000" stroke-width="0.8"/>
<circle cx="81.90" cy="377.30" r="1.50" fill="#2cb2ea" stroke="#000" stroke-width="0.8"/>
<circle cx="86.50" cy="375.60" r="1.50" fill="#2cb2ea" stroke="#000" stroke-width="0.8"/>
<circle cx="90.20" cy="377.30" r="1.50" fill="#2cb2ea" stroke="#000" stroke-width="0.8"/>
<circle cx="93.40" cy="375.60" r="1.50" fill="#2cb2ea" stroke="#000" stroke-width="0.8"/>
<circle cx="98.30" cy="373.30" r="1.50" fill="#2cb2ea" stroke="#000" stroke-width="0.8"/>
<circle cx="76.30" cy="381.00" r="1.50" fill="#2cb2ea" stroke="#000" stroke-width="0.8"/>
<circle cx="81.90" cy="382.50" r="1.50" fill="#2cb2ea" stroke="#000" stroke-width="0.8"/>
<circle cx="86.70" cy="384.80" r="1.50" fill="#2cb2ea" stroke="#000" stroke-width="0.8"/>
<circle cx="90.20" cy="384.80" r="1.50" fill="#2cb2ea" stroke="#000" stroke-width="0.8"/>
<circle cx="93.70" cy="384.80" r="1.50" fill="#2cb2ea" stroke="#000" stroke-width="0.8"/>
<circle cx="98.30" cy="384.80" r="1.50" fill="#2cb2ea" stroke="#000" stroke-width="0.8"/>
<circle cx="90.20" cy="387.70" r="1.50" fill="#2cb2ea" stroke="#000" stroke-width="0.8"/>
<circle cx="96.00" cy="387.70" r="1.50" fill="#2cb2ea" stroke="#000" stroke-width="0.8"/>
<circle cx="104.00" cy="384.80" r="1.50" fill="#2cb2ea" stroke="#000" stroke-width="0.8"/>
<circle cx="107.50" cy="384.80" r="1.50" fill="#2cb2ea" stroke="#000" stroke-width="0.8"/>
<circle cx="98.30" cy="380.80" r="1.50" fill="#2cb2ea" stroke="#000" stroke-width="0.8"/>
<circle cx="100.60" cy="380.80" r="1.50" fill="#2cb2ea" stroke="#000" stroke-width="0.8"/>
<circle cx="103.50" cy="380.80" r="1.50" fill="#2cb2ea" stroke="#000" stroke-width="0.8"/>
<circle cx="103.50" cy="378.50" r="1.50" fill="#2cb2ea" stroke="#000" stroke-width="0.8"/>
<circle cx="103.50" cy="375.60" r="1.50" fill="#2cb2ea" stroke="#000" stroke-width="0.8"/>
<circle cx="105.20" cy="373.80" r="1.50" fill="#2cb2ea" stroke="#000" stroke-width="0.8"/>
<circle cx="107.50" cy="369.80" r="1.50" fill="#2cb2ea" stroke="#000" stroke-width="0.8"/>
<circle cx="111.50" cy="369.80" r="1.50" fill="#2cb2ea" stroke="#000" stroke-width="0.8"/>
<circle cx="113.80" cy="373.30" r="1.50" fill="#2cb2ea" stroke="#000" stroke-width="0.8"/>
<circle cx="111.00" cy="375.60" r="1.50" fill="#2cb2ea" stroke="#000" stroke-width="0.8"/>
<circle cx="114.40" cy="379.00" r="1.50" fill="#2cb2ea" stroke="#000" stroke-width="0.8"/>
<circle cx="109.00" cy="380.80" r="1.50" fill="#2cb2ea" stroke="#000" stroke-width="0.8"/>
<circle cx="105.80" cy="390.20" r="1.50" fill="#2cb2ea" stroke="#000" stroke-width="0.8"/>
<circle cx="114.40" cy="360.60" r="1.50" fill="#2cb2ea" stroke="#000" stroke-width="0.8"/>
<circle cx="121.30" cy="362.10" r="1.50" fill="#2cb2ea" stroke="#000" stroke-width="0.8"/>
<circle cx="122.50" cy="369.80" r="1.50" fill="#2cb2ea" stroke="#000" stroke-width="0.8"/>
<circle cx="76.30" cy="387.30" r="1.50" fill="#2cb2ea" stroke="#000" stroke-width="0.8"/>
<circle cx="82.10" cy="390.60" r="1.50" fill="#2cb2ea" stroke="#000" stroke-width="0.8"/>
<circle cx="86.70" cy="390.60" r="1.50" fill="#2cb2ea" stroke="#000" stroke-width="0.8"/>
<circle cx="86.70" cy="394.00" r="1.50" fill="#2cb2ea" stroke="#000" stroke-width="0.8"/>
<circle cx="90.80" cy="394.00" r="1.50" fill="#2cb2ea" stroke="#000" stroke-width="0.8"/>
<circle cx="93.70" cy="394.00" r="1.50" fill="#2cb2ea" stroke="#000" stroke-width="0.8"/>
<circle cx="96.50" cy="394.00" r="1.50" fill="#2cb2ea" stroke="#000" stroke-width="0.8"/>
<circle cx="100.20" cy="394.00" r="1.50" fill="#2cb2ea" stroke="#000" stroke-width="0.8"/>
<circle cx="90.80" cy="398.10" r="1.50" fill="#2cb2ea" stroke="#000" stroke-width="0.8"/>
<circle cx="96.30" cy="398.10" r="1.50" fill="#2cb2ea" stroke="#000" stroke-width="0.8"/>
<circle cx="93.70" cy="403.50" r="1.50" fill="#2cb2ea" stroke="#000" stroke-width="0.8"/>
<circle cx="98.80" cy="403.50" r="1.50" fill="#2cb2ea" stroke="#000" stroke-width="0.8"/>
<circle cx="100.60" cy="411.10" r="1.50" fill="#2cb2ea" stroke="#000" stroke-width="0.8"/>
<circle cx="115.39" cy="355.51" r="1.50" fill="#2cb2ea" stroke="#000" stroke-width="0.8"/>
<circle cx="117.45" cy="356.80" r="1.50" fill="#2cb2ea" stroke="#000" stroke-width="0.8"/>
<circle cx="114.36" cy="360.67" r="1.50" fill="#2cb2ea" stroke="#000" stroke-width="0.8"/>
<circle cx="127.24" cy="354.23" r="1.50" fill="#2cb2ea" stroke="#000" stroke-width="0.8"/>
<circle cx="122.61" cy="369.69" r="1.50" fill="#2cb2ea" stroke="#000" stroke-width="0.8"/>
<circle cx="141.93" cy="347.78" r="1.50" fill="#2cb2ea" stroke="#000" stroke-width="0.8"/>
<circle cx="140.64" cy="334.90" r="1.50" fill="#2cb2ea" stroke="#000" stroke-width="0.8"/>
<circle cx="145.80" cy="336.71" r="1.50" fill="#2cb2ea" stroke="#000" stroke-width="0.8"/>
<circle cx="150.95" cy="336.71" r="1.50" fill="#2cb2ea" stroke="#000" stroke-width="0.8"/>
<circle cx="164.80" cy="323.10" r="1.50" fill="#2cb2ea" stroke="#000" stroke-width="0.8"/>
<circle cx="150.80" cy="336.70" r="1.50" fill="#2cb2ea" stroke="#000" stroke-width="0.8"/>
<circle cx="145.40" cy="337.30" r="1.50" fill="#2cb2ea" stroke="#000" stroke-width="0.8"/>
<circle cx="141.20" cy="334.80" r="1.50" fill="#2cb2ea" stroke="#000" stroke-width="0.8"/>
<circle cx="118.74" cy="344.44" r="1.50" fill="#f7931e" stroke="#000" stroke-width="0.8"/>
<circle cx="124.20" cy="387.50" r="1.50" fill="#3db449" stroke="#000" stroke-width="0.8"/>
<circle cx="119.60" cy="403.50" r="1.50" fill="#3db449" stroke="#000" stroke-width="0.8"/>
<circle cx="160.80" cy="331.40" r="1.50" fill="#3db449" stroke="#000" stroke-width="0.8"/>
<circle cx="37.60" cy="384.60" r="1.45" fill="#8d84c6"/>
<circle cx="37.60" cy="389.50" r="1.45" fill="#8d84c6"/>
<circle cx="90.40" cy="423.80" r="1.45" fill="#8d84c6"/>
<circle cx="90.40" cy="439.80" r="1.45" fill="#8d84c6"/>
<circle cx="98.90" cy="423.80" r="1.45" fill="#2cb2ea"/>
<circle cx="102.50" cy="439.80" r="1.45" fill="#3db449" stroke="#000" stroke-width="0.6"/>
<circle cx="139.40" cy="373.60" r="2.55" fill="#3db449"/>
<text x="144.80" y="375.80" font-size="6.3" text-anchor="start" fill="#231f20" stroke="#231f20" stroke-width="0.18" font-weight="normal" >4</text>
<circle cx="139.40" cy="381.30" r="2.30" fill="#3db449" stroke="#000" stroke-width="1.1"/>
<text x="144.80" y="383.50" font-size="6.3" text-anchor="start" fill="#231f20" stroke="#231f20" stroke-width="0.18" font-weight="normal" >3</text>
<circle cx="139.40" cy="389.00" r="2.55" fill="#f7931e"/>
<text x="144.80" y="391.20" font-size="6.3" text-anchor="start" fill="#231f20" stroke="#231f20" stroke-width="0.18" font-weight="normal" >1</text>
<circle cx="139.40" cy="396.70" r="2.30" fill="#f7931e" stroke="#000" stroke-width="1.1"/>
<text x="144.80" y="398.90" font-size="6.3" text-anchor="start" fill="#231f20" stroke="#231f20" stroke-width="0.18" font-weight="normal" >1</text>
<circle cx="139.40" cy="404.50" r="2.55" fill="#2cb2ea"/>
<text x="144.80" y="406.70" font-size="6.3" text-anchor="start" fill="#231f20" stroke="#231f20" stroke-width="0.18" font-weight="normal" >70</text>
<circle cx="139.40" cy="412.20" r="2.30" fill="#2cb2ea" stroke="#000" stroke-width="1.1"/>
<text x="144.80" y="414.40" font-size="6.3" text-anchor="start" fill="#231f20" stroke="#231f20" stroke-width="0.18" font-weight="normal" >69</text>
<circle cx="139.40" cy="421.20" r="2.55" fill="#8d84c6"/>
<text x="144.80" y="423.40" font-size="6.3" text-anchor="start" fill="#231f20" stroke="#231f20" stroke-width="0.18" font-weight="normal" >13450</text>
<circle cx="139.40" cy="429.50" r="2.30" fill="#8d84c6" stroke="#000" stroke-width="1.1"/>
<text x="144.80" y="431.70" font-size="6.3" text-anchor="start" fill="#231f20" stroke="#231f20" stroke-width="0.18" font-weight="normal" >617</text>
<rect x="204.00" y="316.40" width="129.20" height="124.10" fill="none" stroke="#000" stroke-width="1.5"/>
<text x="268.60" y="312.80" font-size="9.3" text-anchor="middle" fill="#137f69" stroke="#137f69" stroke-width="0.18" font-weight="normal" >Pt 104</text>
<text x="200.70" y="329.63" font-size="7.6" text-anchor="end" fill="#231f20" stroke="#231f20" stroke-width="0.15">10<tspan font-size="4.30" dx="0.5" dy="-2.8">−1</tspan></text>
<text x="200.70" y="356.23" font-size="7.6" text-anchor="end" fill="#231f20" stroke="#231f20" stroke-width="0.15">10<tspan font-size="4.30" dx="0.5" dy="-2.8">−2</tspan></text>
<text x="200.70" y="382.63" font-size="7.6" text-anchor="end" fill="#231f20" stroke="#231f20" stroke-width="0.15">10<tspan font-size="4.30" dx="0.5" dy="-2.8">−3</tspan></text>
<text x="200.70" y="407.73" font-size="7.6" text-anchor="end" fill="#231f20" stroke="#231f20" stroke-width="0.15">10<tspan font-size="4.30" dx="0.5" dy="-2.8">−4</tspan></text>
<text x="200.70" y="435.83" font-size="7.6" text-anchor="end" fill="#231f20" stroke="#231f20" stroke-width="0.15">10<tspan font-size="4.30" dx="0.5" dy="-2.8">−5</tspan></text>
<text x="211.80" y="448.83" font-size="7.6" text-anchor="middle" fill="#231f20" stroke="#231f20" stroke-width="0.15">10<tspan font-size="4.30" dx="0.5" dy="-2.8">−4</tspan></text>
<text x="246.30" y="448.83" font-size="7.6" text-anchor="middle" fill="#231f20" stroke="#231f20" stroke-width="0.15">10<tspan font-size="4.30" dx="0.5" dy="-2.8">−3</tspan></text>
<text x="281.70" y="448.83" font-size="7.6" text-anchor="middle" fill="#231f20" stroke="#231f20" stroke-width="0.15">10<tspan font-size="4.30" dx="0.5" dy="-2.8">−2</tspan></text>
<text x="318.60" y="448.83" font-size="7.6" text-anchor="middle" fill="#231f20" stroke="#231f20" stroke-width="0.15">10<tspan font-size="4.30" dx="0.5" dy="-2.8">−1</tspan></text>
<text x="268.00" y="458.40" font-size="8.9" text-anchor="middle" textLength="66.8" lengthAdjust="spacingAndGlyphs" fill="#231f20" stroke="#231f20" stroke-width="0.22" font-weight="normal" >Baseline frequency (%)</text>
<text x="176.70" y="381.80" font-size="8.9" text-anchor="middle" textLength="57.8" lengthAdjust="spacingAndGlyphs" fill="#231f20" stroke="#231f20" stroke-width="0.22" font-weight="normal" transform="rotate(-90 176.70 378.60)">C3D1 frequency (%)</text>
<polyline points="203.80,439.80 204.20,428.00 205.40,419.50 206.80,415.80 209.10,411.30 213.60,404.50 217.20,400.40 221.80,396.80 226.30,393.20 231.70,388.60 333.00,318.00" fill="none" stroke="#137a60" stroke-width="1.5" stroke-dasharray="2.2 1.7"/>
<path d="M204.2,404.6 Q230,404 240,410 Q253,418 255.5,440.2" fill="none" stroke="#d0103a" stroke-width="1.5" stroke-dasharray="2.2 1.7"/>
<circle cx="204.10" cy="406.40" r="1.50" fill="#8d84c6" stroke="#000" stroke-width="0.8"/>
<circle cx="204.10" cy="409.40" r="1.50" fill="#8d84c6" stroke="#000" stroke-width="0.8"/>
<circle cx="204.10" cy="412.40" r="1.50" fill="#8d84c6" stroke="#000" stroke-width="0.8"/>
<circle cx="204.10" cy="415.40" r="1.50" fill="#8d84c6" stroke="#000" stroke-width="0.8"/>
<circle cx="204.10" cy="418.50" r="1.50" fill="#8d84c6" stroke="#000" stroke-width="0.8"/>
<circle cx="204.10" cy="422.60" r="1.50" fill="#8d84c6" stroke="#000" stroke-width="0.8"/>
<circle cx="204.10" cy="430.80" r="1.50" fill="#8d84c6" stroke="#000" stroke-width="0.8"/>
<circle cx="218.00" cy="406.40" r="1.50" fill="#8d84c6" stroke="#000" stroke-width="0.8"/>
<circle cx="218.00" cy="409.40" r="1.50" fill="#8d84c6" stroke="#000" stroke-width="0.8"/>
<circle cx="218.00" cy="412.40" r="1.50" fill="#8d84c6" stroke="#000" stroke-width="0.8"/>
<circle cx="218.00" cy="415.40" r="1.50" fill="#8d84c6" stroke="#000" stroke-width="0.8"/>
<circle cx="218.00" cy="418.50" r="1.50" fill="#8d84c6" stroke="#000" stroke-width="0.8"/>
<circle cx="218.00" cy="422.60" r="1.50" fill="#8d84c6" stroke="#000" stroke-width="0.8"/>
<circle cx="218.00" cy="430.80" r="1.50" fill="#8d84c6" stroke="#000" stroke-width="0.8"/>
<circle cx="218.00" cy="440.30" r="1.50" fill="#8d84c6" stroke="#000" stroke-width="0.8"/>
<circle cx="229.20" cy="406.40" r="1.50" fill="#8d84c6" stroke="#000" stroke-width="0.8"/>
<circle cx="229.20" cy="409.40" r="1.50" fill="#8d84c6" stroke="#000" stroke-width="0.8"/>
<circle cx="229.20" cy="412.40" r="1.50" fill="#8d84c6" stroke="#000" stroke-width="0.8"/>
<circle cx="229.20" cy="415.40" r="1.50" fill="#8d84c6" stroke="#000" stroke-width="0.8"/>
<circle cx="229.20" cy="418.50" r="1.50" fill="#8d84c6" stroke="#000" stroke-width="0.8"/>
<circle cx="229.20" cy="422.60" r="1.50" fill="#8d84c6" stroke="#000" stroke-width="0.8"/>
<circle cx="229.20" cy="430.80" r="1.50" fill="#8d84c6" stroke="#000" stroke-width="0.8"/>
<circle cx="229.20" cy="440.30" r="1.50" fill="#8d84c6" stroke="#000" stroke-width="0.8"/>
<circle cx="235.80" cy="412.30" r="1.50" fill="#8d84c6" stroke="#000" stroke-width="0.8"/>
<circle cx="235.80" cy="415.40" r="1.50" fill="#8d84c6" stroke="#000" stroke-width="0.8"/>
<circle cx="235.80" cy="418.50" r="1.50" fill="#8d84c6" stroke="#000" stroke-width="0.8"/>
<circle cx="235.80" cy="422.60" r="1.50" fill="#8d84c6" stroke="#000" stroke-width="0.8"/>
<circle cx="235.80" cy="430.80" r="1.50" fill="#8d84c6" stroke="#000" stroke-width="0.8"/>
<circle cx="235.80" cy="440.30" r="1.50" fill="#8d84c6" stroke="#000" stroke-width="0.8"/>
<circle cx="240.30" cy="418.50" r="1.50" fill="#8d84c6" stroke="#000" stroke-width="0.8"/>
<circle cx="240.30" cy="430.80" r="1.50" fill="#8d84c6" stroke="#000" stroke-width="0.8"/>
<circle cx="240.30" cy="440.30" r="1.50" fill="#8d84c6" stroke="#000" stroke-width="0.8"/>
<circle cx="244.30" cy="422.60" r="1.50" fill="#8d84c6" stroke="#000" stroke-width="0.8"/>
<circle cx="247.70" cy="418.50" r="1.50" fill="#8d84c6" stroke="#000" stroke-width="0.8"/>
<circle cx="204.10" cy="375.40" r="1.50" fill="#2cb2ea" stroke="#000" stroke-width="0.8"/>
<circle cx="204.10" cy="378.05" r="1.50" fill="#2cb2ea" stroke="#000" stroke-width="0.8"/>
<circle cx="204.10" cy="380.71" r="1.50" fill="#2cb2ea" stroke="#000" stroke-width="0.8"/>
<circle cx="204.10" cy="383.36" r="1.50" fill="#2cb2ea" stroke="#000" stroke-width="0.8"/>
<circle cx="204.10" cy="386.02" r="1.50" fill="#2cb2ea" stroke="#000" stroke-width="0.8"/>
<circle cx="204.10" cy="388.67" r="1.50" fill="#2cb2ea" stroke="#000" stroke-width="0.8"/>
<circle cx="204.10" cy="391.33" r="1.50" fill="#2cb2ea" stroke="#000" stroke-width="0.8"/>
<circle cx="204.10" cy="393.98" r="1.50" fill="#2cb2ea" stroke="#000" stroke-width="0.8"/>
<circle cx="204.10" cy="396.64" r="1.50" fill="#2cb2ea" stroke="#000" stroke-width="0.8"/>
<circle cx="204.10" cy="399.29" r="1.50" fill="#2cb2ea" stroke="#000" stroke-width="0.8"/>
<circle cx="204.10" cy="401.95" r="1.50" fill="#2cb2ea" stroke="#000" stroke-width="0.8"/>
<circle cx="204.10" cy="404.60" r="1.50" fill="#2cb2ea" stroke="#000" stroke-width="0.8"/>
<circle cx="218.00" cy="381.50" r="1.50" fill="#2cb2ea" stroke="#000" stroke-width="0.8"/>
<circle cx="218.00" cy="384.60" r="1.50" fill="#2cb2ea" stroke="#000" stroke-width="0.8"/>
<circle cx="218.00" cy="387.70" r="1.50" fill="#2cb2ea" stroke="#000" stroke-width="0.8"/>
<circle cx="218.00" cy="392.30" r="1.50" fill="#2cb2ea" stroke="#000" stroke-width="0.8"/>
<circle cx="218.00" cy="394.76" r="1.50" fill="#2cb2ea" stroke="#000" stroke-width="0.8"/>
<circle cx="218.00" cy="397.22" r="1.50" fill="#2cb2ea" stroke="#000" stroke-width="0.8"/>
<circle cx="218.00" cy="399.68" r="1.50" fill="#2cb2ea" stroke="#000" stroke-width="0.8"/>
<circle cx="218.00" cy="402.14" r="1.50" fill="#2cb2ea" stroke="#000" stroke-width="0.8"/>
<circle cx="218.00" cy="404.60" r="1.50" fill="#2cb2ea" stroke="#000" stroke-width="0.8"/>
<circle cx="229.20" cy="381.50" r="1.50" fill="#2cb2ea" stroke="#000" stroke-width="0.8"/>
<circle cx="229.20" cy="384.60" r="1.50" fill="#2cb2ea" stroke="#000" stroke-width="0.8"/>
<circle cx="229.20" cy="389.20" r="1.50" fill="#2cb2ea" stroke="#000" stroke-width="0.8"/>
<circle cx="229.20" cy="391.77" r="1.50" fill="#2cb2ea" stroke="#000" stroke-width="0.8"/>
<circle cx="229.20" cy="394.33" r="1.50" fill="#2cb2ea" stroke="#000" stroke-width="0.8"/>
<circle cx="229.20" cy="396.90" r="1.50" fill="#2cb2ea" stroke="#000" stroke-width="0.8"/>
<circle cx="229.20" cy="399.47" r="1.50" fill="#2cb2ea" stroke="#000" stroke-width="0.8"/>
<circle cx="229.20" cy="402.03" r="1.50" fill="#2cb2ea" stroke="#000" stroke-width="0.8"/>
<circle cx="229.20" cy="404.60" r="1.50" fill="#2cb2ea" stroke="#000" stroke-width="0.8"/>
<circle cx="235.80" cy="382.30" r="1.50" fill="#2cb2ea" stroke="#000" stroke-width="0.8"/>
<circle cx="235.80" cy="384.99" r="1.50" fill="#2cb2ea" stroke="#000" stroke-width="0.8"/>
<circle cx="235.80" cy="387.68" r="1.50" fill="#2cb2ea" stroke="#000" stroke-width="0.8"/>
<circle cx="235.80" cy="390.37" r="1.50" fill="#2cb2ea" stroke="#000" stroke-width="0.8"/>
<circle cx="235.80" cy="393.06" r="1.50" fill="#2cb2ea" stroke="#000" stroke-width="0.8"/>
<circle cx="235.80" cy="395.75" r="1.50" fill="#2cb2ea" stroke="#000" stroke-width="0.8"/>
<circle cx="235.80" cy="398.44" r="1.50" fill="#2cb2ea" stroke="#000" stroke-width="0.8"/>
<circle cx="235.80" cy="401.13" r="1.50" fill="#2cb2ea" stroke="#000" stroke-width="0.8"/>
<circle cx="235.80" cy="403.82" r="1.50" fill="#2cb2ea" stroke="#000" stroke-width="0.8"/>
<circle cx="235.80" cy="406.51" r="1.50" fill="#2cb2ea" stroke="#000" stroke-width="0.8"/>
<circle cx="235.80" cy="409.20" r="1.50" fill="#2cb2ea" stroke="#000" stroke-width="0.8"/>
<circle cx="240.30" cy="381.50" r="1.50" fill="#2cb2ea" stroke="#000" stroke-width="0.8"/>
<circle cx="240.30" cy="385.40" r="1.50" fill="#2cb2ea" stroke="#000" stroke-width="0.8"/>
<circle cx="240.30" cy="389.20" r="1.50" fill="#2cb2ea" stroke="#000" stroke-width="0.8"/>
<circle cx="240.30" cy="391.20" r="1.50" fill="#2cb2ea" stroke="#000" stroke-width="0.8"/>
<circle cx="240.30" cy="396.90" r="1.50" fill="#2cb2ea" stroke="#000" stroke-width="0.8"/>
<circle cx="240.30" cy="401.50" r="1.50" fill="#2cb2ea" stroke="#000" stroke-width="0.8"/>
<circle cx="240.30" cy="403.50" r="1.50" fill="#2cb2ea" stroke="#000" stroke-width="0.8"/>
<circle cx="240.30" cy="405.40" r="1.50" fill="#2cb2ea" stroke="#000" stroke-width="0.8"/>
<circle cx="244.30" cy="370.80" r="1.50" fill="#2cb2ea" stroke="#000" stroke-width="0.8"/>
<circle cx="244.30" cy="375.40" r="1.50" fill="#2cb2ea" stroke="#000" stroke-width="0.8"/>
<circle cx="244.30" cy="380.00" r="1.50" fill="#2cb2ea" stroke="#000" stroke-width="0.8"/>
<circle cx="244.30" cy="382.30" r="1.50" fill="#2cb2ea" stroke="#000" stroke-width="0.8"/>
<circle cx="244.30" cy="384.60" r="1.50" fill="#2cb2ea" stroke="#000" stroke-width="0.8"/>
<circle cx="244.30" cy="390.80" r="1.50" fill="#2cb2ea" stroke="#000" stroke-width="0.8"/>
<circle cx="246.90" cy="380.00" r="1.50" fill="#2cb2ea" stroke="#000" stroke-width="0.8"/>
<circle cx="246.90" cy="383.80" r="1.50" fill="#2cb2ea" stroke="#000" stroke-width="0.8"/>
<circle cx="246.90" cy="387.70" r="1.50" fill="#2cb2ea" stroke="#000" stroke-width="0.8"/>
<circle cx="250.00" cy="375.40" r="1.50" fill="#2cb2ea" stroke="#000" stroke-width="0.8"/>
<circle cx="250.00" cy="381.50" r="1.50" fill="#2cb2ea" stroke="#000" stroke-width="0.8"/>
<circle cx="250.00" cy="386.90" r="1.50" fill="#2cb2ea" stroke="#000" stroke-width="0.8"/>
<circle cx="253.80" cy="376.20" r="1.50" fill="#2cb2ea" stroke="#000" stroke-width="0.8"/>
<circle cx="253.80" cy="383.80" r="1.50" fill="#2cb2ea" stroke="#000" stroke-width="0.8"/>
<circle cx="256.90" cy="383.80" r="1.50" fill="#2cb2ea" stroke="#000" stroke-width="0.8"/>
<circle cx="255.40" cy="371.50" r="1.50" fill="#2cb2ea" stroke="#000" stroke-width="0.8"/>
<circle cx="258.50" cy="366.20" r="1.50" fill="#2cb2ea" stroke="#000" stroke-width="0.8"/>
<circle cx="258.50" cy="370.80" r="1.50" fill="#2cb2ea" stroke="#000" stroke-width="0.8"/>
<circle cx="260.80" cy="366.90" r="1.50" fill="#2cb2ea" stroke="#000" stroke-width="0.8"/>
<circle cx="262.30" cy="377.70" r="1.50" fill="#2cb2ea" stroke="#000" stroke-width="0.8"/>
<circle cx="266.20" cy="367.70" r="1.50" fill="#2cb2ea" stroke="#000" stroke-width="0.8"/>
<circle cx="266.20" cy="370.80" r="1.50" fill="#2cb2ea" stroke="#000" stroke-width="0.8"/>
<circle cx="271.50" cy="362.30" r="1.50" fill="#2cb2ea" stroke="#000" stroke-width="0.8"/>
<circle cx="271.50" cy="367.70" r="1.50" fill="#2cb2ea" stroke="#000" stroke-width="0.8"/>
<circle cx="281.10" cy="357.50" r="1.50" fill="#2cb2ea" stroke="#000" stroke-width="0.8"/>
<circle cx="286.30" cy="352.70" r="1.50" fill="#2cb2ea" stroke="#000" stroke-width="0.8"/>
<circle cx="330.80" cy="319.50" r="1.50" fill="#2cb2ea" stroke="#000" stroke-width="0.8"/>
<circle cx="262.80" cy="367.90" r="1.50" fill="#2cb2ea" stroke="#000" stroke-width="0.8"/>
<circle cx="250.50" cy="375.80" r="1.50" fill="#2cb2ea" stroke="#000" stroke-width="0.8"/>
<circle cx="204.10" cy="329.40" r="1.50" fill="#f7931e" stroke="#000" stroke-width="0.8"/>
<circle cx="204.10" cy="339.50" r="1.50" fill="#f7931e" stroke="#000" stroke-width="0.8"/>
<circle cx="204.10" cy="342.15" r="1.50" fill="#f7931e" stroke="#000" stroke-width="0.8"/>
<circle cx="204.10" cy="344.80" r="1.50" fill="#f7931e" stroke="#000" stroke-width="0.8"/>
<circle cx="204.10" cy="348.70" r="1.50" fill="#f7931e" stroke="#000" stroke-width="0.8"/>
<circle cx="204.10" cy="351.50" r="1.50" fill="#f7931e" stroke="#000" stroke-width="0.8"/>
<circle cx="204.10" cy="357.80" r="1.50" fill="#f7931e" stroke="#000" stroke-width="0.8"/>
<circle cx="204.10" cy="360.64" r="1.50" fill="#f7931e" stroke="#000" stroke-width="0.8"/>
<circle cx="204.10" cy="363.48" r="1.50" fill="#f7931e" stroke="#000" stroke-width="0.8"/>
<circle cx="204.10" cy="366.32" r="1.50" fill="#f7931e" stroke="#000" stroke-width="0.8"/>
<circle cx="204.10" cy="369.16" r="1.50" fill="#f7931e" stroke="#000" stroke-width="0.8"/>
<circle cx="204.10" cy="372.00" r="1.50" fill="#f7931e" stroke="#000" stroke-width="0.8"/>
<circle cx="250.00" cy="395.10" r="1.50" fill="#3db449" stroke="#000" stroke-width="0.8"/>
<circle cx="247.20" cy="400.80" r="1.50" fill="#3db449" stroke="#000" stroke-width="0.8"/>
<circle cx="244.20" cy="405.40" r="1.50" fill="#3db449" stroke="#000" stroke-width="0.8"/>
<circle cx="252.30" cy="418.20" r="1.50" fill="#3db449" stroke="#000" stroke-width="0.8"/>
<circle cx="263.80" cy="410.00" r="1.50" fill="#3db449" stroke="#000" stroke-width="0.8"/>
<circle cx="272.00" cy="422.60" r="1.50" fill="#3db449" stroke="#000" stroke-width="0.8"/>
<circle cx="268.50" cy="373.10" r="1.50" fill="#3db449" stroke="#000" stroke-width="0.8"/>
<circle cx="326.80" cy="324.80" r="1.50" fill="#3db449" stroke="#000" stroke-width="0.8"/>
<circle cx="305.90" cy="407.70" r="2.55" fill="#3db449"/>
<text x="311.30" y="409.90" font-size="6.3" text-anchor="start" fill="#231f20" stroke="#231f20" stroke-width="0.18" font-weight="normal" >10</text>
<circle cx="305.90" cy="415.30" r="2.55" fill="#f7931e"/>
<text x="311.30" y="417.50" font-size="6.3" text-anchor="start" fill="#231f20" stroke="#231f20" stroke-width="0.18" font-weight="normal" >23</text>
<circle cx="305.90" cy="422.90" r="2.55" fill="#2cb2ea"/>
<text x="311.30" y="425.10" font-size="6.3" text-anchor="start" fill="#231f20" stroke="#231f20" stroke-width="0.18" font-weight="normal" >290</text>
<circle cx="305.90" cy="430.60" r="2.55" fill="#8d84c6"/>
<text x="311.30" y="432.80" font-size="6.3" text-anchor="start" fill="#231f20" stroke="#231f20" stroke-width="0.18" font-weight="normal" >20807</text>
<rect x="370.30" y="316.20" width="129.20" height="124.00" fill="none" stroke="#000" stroke-width="1.5"/>
<text x="434.90" y="312.80" font-size="9.3" text-anchor="middle" fill="#137f69" stroke="#137f69" stroke-width="0.18" font-weight="normal" >Pt 105</text>
<text x="368.30" y="343.53" font-size="7.6" text-anchor="end" fill="#231f20" stroke="#231f20" stroke-width="0.15">10<tspan font-size="4.30" dx="0.5" dy="-2.8">−3</tspan></text>
<text x="368.30" y="406.53" font-size="7.6" text-anchor="end" fill="#231f20" stroke="#231f20" stroke-width="0.15">10<tspan font-size="4.30" dx="0.5" dy="-2.8">−4</tspan></text>
<text x="368.30" y="441.73" font-size="7.6" text-anchor="end" fill="#231f20" stroke="#231f20" stroke-width="0.15">10<tspan font-size="4.30" dx="0.5" dy="-2.8">−5</tspan></text>
<text x="398.30" y="448.83" font-size="7.6" text-anchor="middle" fill="#231f20" stroke="#231f20" stroke-width="0.15">10<tspan font-size="4.30" dx="0.5" dy="-2.8">−4</tspan></text>
<text x="471.00" y="448.83" font-size="7.6" text-anchor="middle" fill="#231f20" stroke="#231f20" stroke-width="0.15">10<tspan font-size="4.30" dx="0.5" dy="-2.8">−3</tspan></text>
<text x="434.00" y="458.40" font-size="8.9" text-anchor="middle" textLength="66.8" lengthAdjust="spacingAndGlyphs" fill="#231f20" stroke="#231f20" stroke-width="0.22" font-weight="normal" >Baseline frequency (%)</text>
<text x="347.30" y="383.20" font-size="8.9" text-anchor="middle" textLength="57.8" lengthAdjust="spacingAndGlyphs" fill="#231f20" stroke="#231f20" stroke-width="0.22" font-weight="normal" transform="rotate(-90 347.30 380.00)">C3D1 Frequency (%)</text>
<polyline points="370.60,439.60 371.50,437.70 379.50,426.20 387.60,414.60 398.00,400.80 408.40,390.40 423.40,380.00 444.50,363.50 470.60,340.50 497.50,317.30" fill="none" stroke="#137a60" stroke-width="1.5" stroke-dasharray="2.2 1.7"/>
<polyline points="370.50,353.00 390.00,354.00 405.20,356.10 420.00,359.00 431.40,362.70 440.00,366.00 447.70,370.50 455.40,379.20 460.80,386.20 465.40,397.70 468.50,408.00 470.60,420.20 472.00,430.00 472.70,439.80" fill="none" stroke="#d0103a" stroke-width="1.5" stroke-dasharray="2.2 1.7"/>
<circle cx="370.20" cy="354.80" r="1.50" fill="#8d84c6" stroke="#000" stroke-width="0.8"/>
<circle cx="370.20" cy="358.00" r="1.50" fill="#8d84c6" stroke="#000" stroke-width="0.8"/>
<circle cx="370.20" cy="360.90" r="1.50" fill="#8d84c6" stroke="#000" stroke-width="0.8"/>
<circle cx="370.20" cy="364.00" r="1.50" fill="#8d84c6" stroke="#000" stroke-width="0.8"/>
<circle cx="370.20" cy="367.40" r="1.50" fill="#8d84c6" stroke="#000" stroke-width="0.8"/>
<circle cx="370.20" cy="371.80" r="1.50" fill="#8d84c6" stroke="#000" stroke-width="0.8"/>
<circle cx="370.20" cy="378.40" r="1.50" fill="#8d84c6" stroke="#000" stroke-width="0.8"/>
<circle cx="370.20" cy="386.20" r="1.50" fill="#8d84c6" stroke="#000" stroke-width="0.8"/>
<circle cx="370.20" cy="397.50" r="1.50" fill="#8d84c6" stroke="#000" stroke-width="0.8"/>
<circle cx="370.20" cy="416.80" r="1.50" fill="#8d84c6" stroke="#000" stroke-width="0.8"/>
<circle cx="397.90" cy="362.70" r="1.50" fill="#8d84c6" stroke="#000" stroke-width="0.8"/>
<circle cx="397.90" cy="367.40" r="1.50" fill="#8d84c6" stroke="#000" stroke-width="0.8"/>
<circle cx="397.90" cy="371.80" r="1.50" fill="#8d84c6" stroke="#000" stroke-width="0.8"/>
<circle cx="397.90" cy="378.40" r="1.50" fill="#8d84c6" stroke="#000" stroke-width="0.8"/>
<circle cx="397.90" cy="386.20" r="1.50" fill="#8d84c6" stroke="#000" stroke-width="0.8"/>
<circle cx="397.90" cy="397.50" r="1.50" fill="#8d84c6" stroke="#000" stroke-width="0.8"/>
<circle cx="397.90" cy="416.80" r="1.50" fill="#8d84c6" stroke="#000" stroke-width="0.8"/>
<circle cx="397.90" cy="440.40" r="1.50" fill="#8d84c6" stroke="#000" stroke-width="0.8"/>
<circle cx="420.40" cy="367.40" r="1.50" fill="#8d84c6" stroke="#000" stroke-width="0.8"/>
<circle cx="420.40" cy="371.80" r="1.50" fill="#8d84c6" stroke="#000" stroke-width="0.8"/>
<circle cx="420.40" cy="378.40" r="1.50" fill="#8d84c6" stroke="#000" stroke-width="0.8"/>
<circle cx="420.40" cy="386.20" r="1.50" fill="#8d84c6" stroke="#000" stroke-width="0.8"/>
<circle cx="420.40" cy="397.50" r="1.50" fill="#8d84c6" stroke="#000" stroke-width="0.8"/>
<circle cx="420.40" cy="416.80" r="1.50" fill="#8d84c6" stroke="#000" stroke-width="0.8"/>
<circle cx="420.40" cy="440.40" r="1.50" fill="#8d84c6" stroke="#000" stroke-width="0.8"/>
<circle cx="433.50" cy="367.40" r="1.50" fill="#8d84c6" stroke="#000" stroke-width="0.8"/>
<circle cx="433.50" cy="371.80" r="1.50" fill="#8d84c6" stroke="#000" stroke-width="0.8"/>
<circle cx="433.50" cy="378.40" r="1.50" fill="#8d84c6" stroke="#000" stroke-width="0.8"/>
<circle cx="433.50" cy="386.20" r="1.50" fill="#8d84c6" stroke="#000" stroke-width="0.8"/>
<circle cx="433.50" cy="397.50" r="1.50" fill="#8d84c6" stroke="#000" stroke-width="0.8"/>
<circle cx="433.50" cy="416.80" r="1.50" fill="#8d84c6" stroke="#000" stroke-width="0.8"/>
<circle cx="433.50" cy="440.40" r="1.50" fill="#8d84c6" stroke="#000" stroke-width="0.8"/>
<circle cx="442.60" cy="378.40" r="1.50" fill="#8d84c6" stroke="#000" stroke-width="0.8"/>
<circle cx="442.60" cy="386.20" r="1.50" fill="#8d84c6" stroke="#000" stroke-width="0.8"/>
<circle cx="442.60" cy="397.50" r="1.50" fill="#8d84c6" stroke="#000" stroke-width="0.8"/>
<circle cx="442.60" cy="416.80" r="1.50" fill="#8d84c6" stroke="#000" stroke-width="0.8"/>
<circle cx="442.60" cy="440.40" r="1.50" fill="#8d84c6" stroke="#000" stroke-width="0.8"/>
<circle cx="450.20" cy="386.20" r="1.50" fill="#8d84c6" stroke="#000" stroke-width="0.8"/>
<circle cx="450.20" cy="397.50" r="1.50" fill="#8d84c6" stroke="#000" stroke-width="0.8"/>
<circle cx="456.20" cy="397.50" r="1.50" fill="#8d84c6" stroke="#000" stroke-width="0.8"/>
<circle cx="397.90" cy="343.60" r="1.50" fill="#2cb2ea" stroke="#000" stroke-width="0.8"/>
<circle cx="397.90" cy="354.10" r="1.50" fill="#2cb2ea" stroke="#000" stroke-width="0.8"/>
<circle cx="397.90" cy="356.10" r="1.50" fill="#2cb2ea" stroke="#000" stroke-width="0.8"/>
<circle cx="420.40" cy="343.90" r="1.50" fill="#2cb2ea" stroke="#000" stroke-width="0.8"/>
<circle cx="420.40" cy="345.70" r="1.50" fill="#2cb2ea" stroke="#000" stroke-width="0.8"/>
<circle cx="420.40" cy="356.10" r="1.50" fill="#2cb2ea" stroke="#000" stroke-width="0.8"/>
<circle cx="433.50" cy="353.00" r="1.50" fill="#2cb2ea" stroke="#000" stroke-width="0.8"/>
<circle cx="442.60" cy="350.40" r="1.50" fill="#2cb2ea" stroke="#000" stroke-width="0.8"/>
<circle cx="442.60" cy="362.70" r="1.50" fill="#2cb2ea" stroke="#000" stroke-width="0.8"/>
<circle cx="450.20" cy="355.60" r="1.50" fill="#2cb2ea" stroke="#000" stroke-width="0.8"/>
<circle cx="450.20" cy="367.40" r="1.50" fill="#2cb2ea" stroke="#000" stroke-width="0.8"/>
<circle cx="456.20" cy="362.70" r="1.50" fill="#2cb2ea" stroke="#000" stroke-width="0.8"/>
<circle cx="461.00" cy="337.10" r="1.50" fill="#2cb2ea" stroke="#000" stroke-width="0.8"/>
<circle cx="461.00" cy="343.90" r="1.50" fill="#2cb2ea" stroke="#000" stroke-width="0.8"/>
<circle cx="465.40" cy="362.70" r="1.50" fill="#2cb2ea" stroke="#000" stroke-width="0.8"/>
<circle cx="465.40" cy="386.20" r="1.50" fill="#2cb2ea" stroke="#000" stroke-width="0.8"/>
<circle cx="475.80" cy="333.90" r="1.50" fill="#2cb2ea" stroke="#000" stroke-width="0.8"/>
<circle cx="478.40" cy="341.80" r="1.50" fill="#2cb2ea" stroke="#000" stroke-width="0.8"/>
<circle cx="478.40" cy="350.40" r="1.50" fill="#2cb2ea" stroke="#000" stroke-width="0.8"/>
<circle cx="495.40" cy="318.20" r="1.50" fill="#2cb2ea" stroke="#000" stroke-width="0.8"/>
<circle cx="370.20" cy="335.80" r="1.50" fill="#f7931e" stroke="#000" stroke-width="0.8"/>
<circle cx="475.30" cy="415.00" r="2.55" fill="#f7931e"/>
<text x="480.70" y="417.20" font-size="6.3" text-anchor="start" fill="#231f20" stroke="#231f20" stroke-width="0.18" font-weight="normal" >1</text>
<circle cx="475.30" cy="422.50" r="2.55" fill="#2cb2ea"/>
<text x="480.70" y="424.70" font-size="6.3" text-anchor="start" fill="#231f20" stroke="#231f20" stroke-width="0.18" font-weight="normal" >23</text>
<circle cx="475.30" cy="430.40" r="2.55" fill="#8d84c6"/>
<text x="480.70" y="432.60" font-size="6.3" text-anchor="start" fill="#231f20" stroke="#231f20" stroke-width="0.18" font-weight="normal" >21786</text>
<rect x="35.50" y="478.90" width="129.00" height="123.30" fill="none" stroke="#000" stroke-width="1.5"/>
<text x="100.00" y="475.20" font-size="9.3" text-anchor="middle" fill="#137f69" stroke="#137f69" stroke-width="0.18" font-weight="normal" >Pt 106</text>
<text x="33.20" y="508.23" font-size="7.6" text-anchor="end" fill="#231f20" stroke="#231f20" stroke-width="0.15">10<tspan font-size="4.30" dx="0.5" dy="-2.8">−2</tspan></text>
<text x="33.20" y="555.03" font-size="7.6" text-anchor="end" fill="#231f20" stroke="#231f20" stroke-width="0.15">10<tspan font-size="4.30" dx="0.5" dy="-2.8">−3</tspan></text>
<text x="33.20" y="598.33" font-size="7.6" text-anchor="end" fill="#231f20" stroke="#231f20" stroke-width="0.15">10<tspan font-size="4.30" dx="0.5" dy="-2.8">−4</tspan></text>
<text x="50.90" y="610.83" font-size="7.6" text-anchor="middle" fill="#231f20" stroke="#231f20" stroke-width="0.15">10<tspan font-size="4.30" dx="0.5" dy="-2.8">−4</tspan></text>
<text x="95.30" y="610.83" font-size="7.6" text-anchor="middle" fill="#231f20" stroke="#231f20" stroke-width="0.15">10<tspan font-size="4.30" dx="0.5" dy="-2.8">−3</tspan></text>
<text x="142.40" y="610.83" font-size="7.6" text-anchor="middle" fill="#231f20" stroke="#231f20" stroke-width="0.15">10<tspan font-size="4.30" dx="0.5" dy="-2.8">−2</tspan></text>
<text x="98.90" y="620.30" font-size="8.9" text-anchor="middle" textLength="66.8" lengthAdjust="spacingAndGlyphs" fill="#231f20" stroke="#231f20" stroke-width="0.22" font-weight="normal" >Baseline frequency (%)</text>
<text x="11.60" y="543.20" font-size="8.9" text-anchor="middle" textLength="57.8" lengthAdjust="spacingAndGlyphs" fill="#231f20" stroke="#231f20" stroke-width="0.22" font-weight="normal" transform="rotate(-90 11.60 540.00)">C3D1 frequency (%)</text>
<polyline points="37.00,601.80 38.00,601.30 47.50,595.90 56.90,590.50 65.00,584.40 73.00,575.00 79.80,566.90 86.50,558.80 93.20,552.10 98.60,548.10 104.00,542.70 110.30,535.50 136.10,506.50 162.00,480.50" fill="none" stroke="#137a60" stroke-width="1.5" stroke-dasharray="2.2 1.7"/>
<polyline points="36.00,538.50 51.60,540.70 64.00,543.00 74.40,546.70 80.00,550.50 85.10,556.20 90.50,565.60 92.60,573.70 93.90,584.40 95.30,601.90" fill="none" stroke="#d0103a" stroke-width="1.5" stroke-dasharray="2.2 1.7"/>
<circle cx="35.60" cy="549.70" r="1.50" fill="#8d84c6" stroke="#000" stroke-width="0.8"/>
<circle cx="35.60" cy="553.10" r="1.50" fill="#8d84c6" stroke="#000" stroke-width="0.8"/>
<circle cx="35.60" cy="557.00" r="1.50" fill="#8d84c6" stroke="#000" stroke-width="0.8"/>
<circle cx="35.60" cy="563.10" r="1.50" fill="#8d84c6" stroke="#000" stroke-width="0.8"/>
<circle cx="35.60" cy="571.60" r="1.50" fill="#8d84c6" stroke="#000" stroke-width="0.8"/>
<circle cx="35.60" cy="585.30" r="1.50" fill="#8d84c6" stroke="#000" stroke-width="0.8"/>
<circle cx="51.60" cy="549.70" r="1.50" fill="#8d84c6" stroke="#000" stroke-width="0.8"/>
<circle cx="51.60" cy="553.10" r="1.50" fill="#8d84c6" stroke="#000" stroke-width="0.8"/>
<circle cx="51.60" cy="557.00" r="1.50" fill="#8d84c6" stroke="#000" stroke-width="0.8"/>
<circle cx="51.60" cy="563.10" r="1.50" fill="#8d84c6" stroke="#000" stroke-width="0.8"/>
<circle cx="51.60" cy="571.60" r="1.50" fill="#8d84c6" stroke="#000" stroke-width="0.8"/>
<circle cx="51.60" cy="585.30" r="1.50" fill="#8d84c6" stroke="#000" stroke-width="0.8"/>
<circle cx="51.60" cy="602.00" r="1.50" fill="#8d84c6" stroke="#000" stroke-width="0.8"/>
<circle cx="64.40" cy="549.70" r="1.50" fill="#8d84c6" stroke="#000" stroke-width="0.8"/>
<circle cx="64.40" cy="553.10" r="1.50" fill="#8d84c6" stroke="#000" stroke-width="0.8"/>
<circle cx="64.40" cy="557.00" r="1.50" fill="#8d84c6" stroke="#000" stroke-width="0.8"/>
<circle cx="64.40" cy="563.10" r="1.50" fill="#8d84c6" stroke="#000" stroke-width="0.8"/>
<circle cx="64.40" cy="571.60" r="1.50" fill="#8d84c6" stroke="#000" stroke-width="0.8"/>
<circle cx="64.40" cy="585.30" r="1.50" fill="#8d84c6" stroke="#000" stroke-width="0.8"/>
<circle cx="64.40" cy="602.00" r="1.50" fill="#8d84c6" stroke="#000" stroke-width="0.8"/>
<circle cx="72.40" cy="549.70" r="1.50" fill="#8d84c6" stroke="#000" stroke-width="0.8"/>
<circle cx="72.40" cy="553.10" r="1.50" fill="#8d84c6" stroke="#000" stroke-width="0.8"/>
<circle cx="72.40" cy="557.00" r="1.50" fill="#8d84c6" stroke="#000" stroke-width="0.8"/>
<circle cx="72.40" cy="563.10" r="1.50" fill="#8d84c6" stroke="#000" stroke-width="0.8"/>
<circle cx="72.40" cy="571.60" r="1.50" fill="#8d84c6" stroke="#000" stroke-width="0.8"/>
<circle cx="72.40" cy="585.30" r="1.50" fill="#8d84c6" stroke="#000" stroke-width="0.8"/>
<circle cx="72.40" cy="602.00" r="1.50" fill="#8d84c6" stroke="#000" stroke-width="0.8"/>
<circle cx="78.10" cy="553.10" r="1.50" fill="#8d84c6" stroke="#000" stroke-width="0.8"/>
<circle cx="78.10" cy="557.00" r="1.50" fill="#8d84c6" stroke="#000" stroke-width="0.8"/>
<circle cx="78.10" cy="563.10" r="1.50" fill="#8d84c6" stroke="#000" stroke-width="0.8"/>
<circle cx="78.10" cy="571.60" r="1.50" fill="#8d84c6" stroke="#000" stroke-width="0.8"/>
<circle cx="78.10" cy="585.30" r="1.50" fill="#8d84c6" stroke="#000" stroke-width="0.8"/>
<circle cx="78.10" cy="602.00" r="1.50" fill="#8d84c6" stroke="#000" stroke-width="0.8"/>
<circle cx="82.00" cy="557.00" r="1.50" fill="#8d84c6" stroke="#000" stroke-width="0.8"/>
<circle cx="82.00" cy="563.10" r="1.50" fill="#8d84c6" stroke="#000" stroke-width="0.8"/>
<circle cx="82.00" cy="571.60" r="1.50" fill="#8d84c6" stroke="#000" stroke-width="0.8"/>
<circle cx="82.00" cy="585.30" r="1.50" fill="#8d84c6" stroke="#000" stroke-width="0.8"/>
<circle cx="82.00" cy="602.00" r="1.50" fill="#8d84c6" stroke="#000" stroke-width="0.8"/>
<circle cx="85.80" cy="571.60" r="1.50" fill="#8d84c6" stroke="#000" stroke-width="0.8"/>
<circle cx="85.80" cy="585.30" r="1.50" fill="#8d84c6" stroke="#000" stroke-width="0.8"/>
<circle cx="85.80" cy="602.00" r="1.50" fill="#8d84c6" stroke="#000" stroke-width="0.8"/>
<circle cx="89.20" cy="571.60" r="1.50" fill="#8d84c6" stroke="#000" stroke-width="0.8"/>
<circle cx="89.20" cy="585.30" r="1.50" fill="#8d84c6" stroke="#000" stroke-width="0.8"/>
<circle cx="89.20" cy="602.00" r="1.50" fill="#8d84c6" stroke="#000" stroke-width="0.8"/>
<circle cx="92.30" cy="571.60" r="1.50" fill="#8d84c6" stroke="#000" stroke-width="0.8"/>
<circle cx="92.30" cy="585.30" r="1.50" fill="#8d84c6" stroke="#000" stroke-width="0.8"/>
<circle cx="92.30" cy="602.00" r="1.50" fill="#8d84c6" stroke="#000" stroke-width="0.8"/>
<circle cx="94.80" cy="571.60" r="1.50" fill="#8d84c6" stroke="#000" stroke-width="0.8"/>
<circle cx="94.80" cy="585.30" r="1.50" fill="#8d84c6" stroke="#000" stroke-width="0.8"/>
<circle cx="72.60" cy="563.70" r="1.50" fill="#8d84c6" stroke="#000" stroke-width="0.8"/>
<circle cx="77.90" cy="563.70" r="1.50" fill="#8d84c6" stroke="#000" stroke-width="0.8"/>
<circle cx="82.30" cy="563.70" r="1.50" fill="#8d84c6" stroke="#000" stroke-width="0.8"/>
<circle cx="85.20" cy="571.70" r="1.50" fill="#8d84c6" stroke="#000" stroke-width="0.8"/>
<circle cx="88.80" cy="571.70" r="1.50" fill="#8d84c6" stroke="#000" stroke-width="0.8"/>
<circle cx="72.60" cy="543.46" r="1.50" fill="#2cb2ea" stroke="#000" stroke-width="0.8"/>
<circle cx="82.26" cy="539.57" r="1.50" fill="#2cb2ea" stroke="#000" stroke-width="0.8"/>
<circle cx="82.26" cy="543.46" r="1.50" fill="#2cb2ea" stroke="#000" stroke-width="0.8"/>
<circle cx="86.15" cy="533.80" r="1.50" fill="#2cb2ea" stroke="#000" stroke-width="0.8"/>
<circle cx="95.67" cy="537.12" r="1.50" fill="#2cb2ea" stroke="#000" stroke-width="0.8"/>
<circle cx="97.41" cy="541.01" r="1.50" fill="#2cb2ea" stroke="#000" stroke-width="0.8"/>
<circle cx="93.80" cy="543.46" r="1.50" fill="#2cb2ea" stroke="#000" stroke-width="0.8"/>
<circle cx="96.68" cy="543.46" r="1.50" fill="#2cb2ea" stroke="#000" stroke-width="0.8"/>
<circle cx="99.57" cy="543.46" r="1.50" fill="#2cb2ea" stroke="#000" stroke-width="0.8"/>
<circle cx="108.22" cy="543.46" r="1.50" fill="#2cb2ea" stroke="#000" stroke-width="0.8"/>
<circle cx="93.08" cy="546.06" r="1.50" fill="#2cb2ea" stroke="#000" stroke-width="0.8"/>
<circle cx="95.24" cy="546.06" r="1.50" fill="#2cb2ea" stroke="#000" stroke-width="0.8"/>
<circle cx="98.13" cy="546.06" r="1.50" fill="#2cb2ea" stroke="#000" stroke-width="0.8"/>
<circle cx="101.01" cy="545.34" r="1.50" fill="#2cb2ea" stroke="#000" stroke-width="0.8"/>
<circle cx="103.17" cy="545.34" r="1.50" fill="#2cb2ea" stroke="#000" stroke-width="0.8"/>
<circle cx="106.06" cy="545.34" r="1.50" fill="#2cb2ea" stroke="#000" stroke-width="0.8"/>
<circle cx="108.94" cy="544.62" r="1.50" fill="#2cb2ea" stroke="#000" stroke-width="0.8"/>
<circle cx="77.93" cy="548.94" r="1.50" fill="#2cb2ea" stroke="#000" stroke-width="0.8"/>
<circle cx="82.26" cy="548.94" r="1.50" fill="#2cb2ea" stroke="#000" stroke-width="0.8"/>
<circle cx="85.87" cy="548.94" r="1.50" fill="#2cb2ea" stroke="#000" stroke-width="0.8"/>
<circle cx="91.64" cy="548.94" r="1.50" fill="#2cb2ea" stroke="#000" stroke-width="0.8"/>
<circle cx="99.57" cy="548.94" r="1.50" fill="#2cb2ea" stroke="#000" stroke-width="0.8"/>
<circle cx="102.45" cy="548.94" r="1.50" fill="#2cb2ea" stroke="#000" stroke-width="0.8"/>
<circle cx="105.34" cy="548.94" r="1.50" fill="#2cb2ea" stroke="#000" stroke-width="0.8"/>
<circle cx="107.50" cy="548.94" r="1.50" fill="#2cb2ea" stroke="#000" stroke-width="0.8"/>
<circle cx="85.87" cy="552.98" r="1.50" fill="#2cb2ea" stroke="#000" stroke-width="0.8"/>
<circle cx="93.08" cy="552.98" r="1.50" fill="#2cb2ea" stroke="#000" stroke-width="0.8"/>
<circle cx="98.85" cy="552.98" r="1.50" fill="#2cb2ea" stroke="#000" stroke-width="0.8"/>
<circle cx="103.90" cy="552.98" r="1.50" fill="#2cb2ea" stroke="#000" stroke-width="0.8"/>
<circle cx="111.83" cy="552.98" r="1.50" fill="#2cb2ea" stroke="#000" stroke-width="0.8"/>
<circle cx="116.88" cy="552.98" r="1.50" fill="#2cb2ea" stroke="#000" stroke-width="0.8"/>
<circle cx="88.75" cy="557.31" r="1.50" fill="#2cb2ea" stroke="#000" stroke-width="0.8"/>
<circle cx="90.91" cy="557.31" r="1.50" fill="#2cb2ea" stroke="#000" stroke-width="0.8"/>
<circle cx="96.68" cy="557.31" r="1.50" fill="#2cb2ea" stroke="#000" stroke-width="0.8"/>
<circle cx="98.85" cy="557.31" r="1.50" fill="#2cb2ea" stroke="#000" stroke-width="0.8"/>
<circle cx="101.01" cy="557.31" r="1.50" fill="#2cb2ea" stroke="#000" stroke-width="0.8"/>
<circle cx="105.34" cy="557.31" r="1.50" fill="#2cb2ea" stroke="#000" stroke-width="0.8"/>
<circle cx="109.67" cy="557.31" r="1.50" fill="#2cb2ea" stroke="#000" stroke-width="0.8"/>
<circle cx="116.16" cy="557.31" r="1.50" fill="#2cb2ea" stroke="#000" stroke-width="0.8"/>
<circle cx="88.75" cy="563.66" r="1.50" fill="#2cb2ea" stroke="#000" stroke-width="0.8"/>
<circle cx="90.91" cy="563.66" r="1.50" fill="#2cb2ea" stroke="#000" stroke-width="0.8"/>
<circle cx="93.08" cy="563.66" r="1.50" fill="#2cb2ea" stroke="#000" stroke-width="0.8"/>
<circle cx="95.24" cy="563.66" r="1.50" fill="#2cb2ea" stroke="#000" stroke-width="0.8"/>
<circle cx="97.41" cy="563.66" r="1.50" fill="#2cb2ea" stroke="#000" stroke-width="0.8"/>
<circle cx="100.29" cy="563.66" r="1.50" fill="#2cb2ea" stroke="#000" stroke-width="0.8"/>
<circle cx="102.89" cy="563.66" r="1.50" fill="#2cb2ea" stroke="#000" stroke-width="0.8"/>
<circle cx="112.55" cy="563.66" r="1.50" fill="#2cb2ea" stroke="#000" stroke-width="0.8"/>
<circle cx="91.64" cy="571.73" r="1.50" fill="#2cb2ea" stroke="#000" stroke-width="0.8"/>
<circle cx="95.24" cy="571.73" r="1.50" fill="#2cb2ea" stroke="#000" stroke-width="0.8"/>
<circle cx="98.85" cy="571.73" r="1.50" fill="#2cb2ea" stroke="#000" stroke-width="0.8"/>
<circle cx="103.90" cy="571.73" r="1.50" fill="#2cb2ea" stroke="#000" stroke-width="0.8"/>
<circle cx="103.17" cy="531.35" r="1.50" fill="#2cb2ea" stroke="#000" stroke-width="0.8"/>
<circle cx="108.94" cy="530.91" r="1.50" fill="#2cb2ea" stroke="#000" stroke-width="0.8"/>
<circle cx="111.83" cy="534.52" r="1.50" fill="#2cb2ea" stroke="#000" stroke-width="0.8"/>
<circle cx="113.99" cy="535.96" r="1.50" fill="#2cb2ea" stroke="#000" stroke-width="0.8"/>
<circle cx="116.16" cy="533.80" r="1.50" fill="#2cb2ea" stroke="#000" stroke-width="0.8"/>
<circle cx="119.76" cy="531.64" r="1.50" fill="#2cb2ea" stroke="#000" stroke-width="0.8"/>
<circle cx="122.65" cy="524.42" r="1.50" fill="#2cb2ea" stroke="#000" stroke-width="0.8"/>
<circle cx="127.70" cy="523.27" r="1.50" fill="#2cb2ea" stroke="#000" stroke-width="0.8"/>
<circle cx="132.74" cy="521.25" r="1.50" fill="#2cb2ea" stroke="#000" stroke-width="0.8"/>
<circle cx="132.74" cy="510.72" r="1.50" fill="#2cb2ea" stroke="#000" stroke-width="0.8"/>
<circle cx="123.37" cy="530.91" r="1.50" fill="#2cb2ea" stroke="#000" stroke-width="0.8"/>
<circle cx="119.04" cy="538.13" r="1.50" fill="#2cb2ea" stroke="#000" stroke-width="0.8"/>
<circle cx="116.16" cy="541.01" r="1.50" fill="#2cb2ea" stroke="#000" stroke-width="0.8"/>
<circle cx="120.48" cy="541.01" r="1.50" fill="#2cb2ea" stroke="#000" stroke-width="0.8"/>
<circle cx="124.81" cy="538.85" r="1.50" fill="#2cb2ea" stroke="#000" stroke-width="0.8"/>
<circle cx="126.25" cy="533.08" r="1.50" fill="#2cb2ea" stroke="#000" stroke-width="0.8"/>
<circle cx="129.14" cy="531.64" r="1.50" fill="#2cb2ea" stroke="#000" stroke-width="0.8"/>
<circle cx="133.46" cy="526.59" r="1.50" fill="#2cb2ea" stroke="#000" stroke-width="0.8"/>
<circle cx="110.39" cy="537.41" r="1.50" fill="#2cb2ea" stroke="#000" stroke-width="0.8"/>
<circle cx="113.27" cy="539.57" r="1.50" fill="#2cb2ea" stroke="#000" stroke-width="0.8"/>
<circle cx="107.50" cy="539.57" r="1.50" fill="#2cb2ea" stroke="#000" stroke-width="0.8"/>
<circle cx="104.62" cy="541.01" r="1.50" fill="#2cb2ea" stroke="#000" stroke-width="0.8"/>
<circle cx="117.60" cy="543.90" r="1.50" fill="#2cb2ea" stroke="#000" stroke-width="0.8"/>
<circle cx="121.20" cy="544.62" r="1.50" fill="#2cb2ea" stroke="#000" stroke-width="0.8"/>
<circle cx="113.27" cy="546.06" r="1.50" fill="#2cb2ea" stroke="#000" stroke-width="0.8"/>
<circle cx="109.67" cy="541.01" r="1.50" fill="#2cb2ea" stroke="#000" stroke-width="0.8"/>
<circle cx="114.71" cy="537.41" r="1.50" fill="#2cb2ea" stroke="#000" stroke-width="0.8"/>
<circle cx="98.85" cy="539.57" r="1.50" fill="#2cb2ea" stroke="#000" stroke-width="0.8"/>
<circle cx="99.50" cy="585.30" r="1.50" fill="#2cb2ea" stroke="#000" stroke-width="0.8"/>
<circle cx="94.80" cy="549.20" r="1.50" fill="#2cb2ea" stroke="#000" stroke-width="0.8"/>
<circle cx="35.60" cy="484.00" r="1.50" fill="#f7931e" stroke="#000" stroke-width="0.8"/>
<circle cx="35.60" cy="509.80" r="1.50" fill="#f7931e" stroke="#000" stroke-width="0.8"/>
<circle cx="35.60" cy="513.10" r="1.50" fill="#f7931e" stroke="#000" stroke-width="0.8"/>
<circle cx="35.60" cy="520.90" r="1.50" fill="#f7931e" stroke="#000" stroke-width="0.8"/>
<circle cx="35.60" cy="535.60" r="1.50" fill="#f7931e" stroke="#000" stroke-width="0.8"/>
<circle cx="51.60" cy="540.70" r="1.50" fill="#f7931e" stroke="#000" stroke-width="0.8"/>
<circle cx="64.70" cy="523.20" r="1.50" fill="#f7931e" stroke="#000" stroke-width="0.8"/>
<circle cx="64.40" cy="536.30" r="1.50" fill="#f7931e" stroke="#000" stroke-width="0.8"/>
<circle cx="110.30" cy="479.60" r="1.50" fill="#f7931e" stroke="#000" stroke-width="0.8"/>
<circle cx="151.50" cy="484.00" r="1.50" fill="#f7931e" stroke="#000" stroke-width="0.8"/>
<circle cx="127.00" cy="488.40" r="1.50" fill="#f7931e" stroke="#000" stroke-width="0.8"/>
<circle cx="132.70" cy="496.40" r="1.50" fill="#f7931e" stroke="#000" stroke-width="0.8"/>
<circle cx="136.10" cy="496.40" r="1.50" fill="#f7931e" stroke="#000" stroke-width="0.8"/>
<circle cx="122.40" cy="498.70" r="1.50" fill="#f7931e" stroke="#000" stroke-width="0.8"/>
<circle cx="97.40" cy="504.60" r="1.50" fill="#f7931e" stroke="#000" stroke-width="0.8"/>
<circle cx="110.30" cy="507.70" r="1.50" fill="#f7931e" stroke="#000" stroke-width="0.8"/>
<circle cx="113.60" cy="505.10" r="1.50" fill="#f7931e" stroke="#000" stroke-width="0.8"/>
<circle cx="115.50" cy="507.20" r="1.50" fill="#f7931e" stroke="#000" stroke-width="0.8"/>
<circle cx="97.40" cy="520.60" r="1.50" fill="#f7931e" stroke="#000" stroke-width="0.8"/>
<circle cx="140.68" cy="516.49" r="1.50" fill="#3db449" stroke="#000" stroke-width="0.8"/>
<circle cx="137.79" cy="523.70" r="1.50" fill="#3db449" stroke="#000" stroke-width="0.8"/>
<circle cx="134.19" cy="526.59" r="1.50" fill="#3db449" stroke="#000" stroke-width="0.8"/>
<circle cx="132.02" cy="530.19" r="1.50" fill="#3db449" stroke="#000" stroke-width="0.8"/>
<circle cx="129.14" cy="533.80" r="1.50" fill="#3db449" stroke="#000" stroke-width="0.8"/>
<circle cx="134.19" cy="535.67" r="1.50" fill="#3db449" stroke="#000" stroke-width="0.8"/>
<circle cx="132.02" cy="535.96" r="1.50" fill="#3db449" stroke="#000" stroke-width="0.8"/>
<circle cx="125.53" cy="539.57" r="1.50" fill="#3db449" stroke="#000" stroke-width="0.8"/>
<circle cx="126.97" cy="541.01" r="1.50" fill="#3db449" stroke="#000" stroke-width="0.8"/>
<circle cx="124.09" cy="543.46" r="1.50" fill="#3db449" stroke="#000" stroke-width="0.8"/>
<circle cx="129.14" cy="546.06" r="1.50" fill="#3db449" stroke="#000" stroke-width="0.8"/>
<circle cx="120.48" cy="552.98" r="1.50" fill="#3db449" stroke="#000" stroke-width="0.8"/>
<circle cx="123.08" cy="557.31" r="1.50" fill="#3db449" stroke="#000" stroke-width="0.8"/>
<circle cx="156.70" cy="496.10" r="1.50" fill="#3db449" stroke="#000" stroke-width="0.8"/>
<circle cx="152.80" cy="499.50" r="1.50" fill="#3db449" stroke="#000" stroke-width="0.8"/>
<circle cx="150.20" cy="505.40" r="1.50" fill="#3db449" stroke="#000" stroke-width="0.8"/>
<circle cx="146.90" cy="508.50" r="1.50" fill="#3db449" stroke="#000" stroke-width="0.8"/>
<circle cx="141.20" cy="515.70" r="1.50" fill="#3db449" stroke="#000" stroke-width="0.8"/>
<circle cx="140.70" cy="569.80" r="2.55" fill="#3db449"/>
<text x="146.10" y="572.00" font-size="6.3" text-anchor="start" fill="#231f20" stroke="#231f20" stroke-width="0.18" font-weight="normal" >22</text>
<circle cx="140.70" cy="577.60" r="2.55" fill="#f7931e"/>
<text x="146.10" y="579.80" font-size="6.3" text-anchor="start" fill="#231f20" stroke="#231f20" stroke-width="0.18" font-weight="normal" >22</text>
<circle cx="140.70" cy="585.30" r="2.55" fill="#2cb2ea"/>
<text x="146.10" y="587.50" font-size="6.3" text-anchor="start" fill="#231f20" stroke="#231f20" stroke-width="0.18" font-weight="normal" >102</text>
<circle cx="140.70" cy="593.00" r="2.55" fill="#8d84c6"/>
<text x="146.10" y="595.20" font-size="6.3" text-anchor="start" fill="#231f20" stroke="#231f20" stroke-width="0.18" font-weight="normal" >4912</text>
<rect x="204.70" y="478.50" width="129.20" height="123.90" fill="none" stroke="#000" stroke-width="1.5"/>
<text x="269.30" y="475.20" font-size="9.3" text-anchor="middle" fill="#137f69" stroke="#137f69" stroke-width="0.18" font-weight="normal" >Pt 208</text>
<text x="202.70" y="518.23" font-size="7.6" text-anchor="end" fill="#231f20" stroke="#231f20" stroke-width="0.15">10<tspan font-size="4.30" dx="0.5" dy="-2.8">−2</tspan></text>
<text x="202.70" y="551.83" font-size="7.6" text-anchor="end" fill="#231f20" stroke="#231f20" stroke-width="0.15">10<tspan font-size="4.30" dx="0.5" dy="-2.8">−3</tspan></text>
<text x="202.70" y="589.43" font-size="7.6" text-anchor="end" fill="#231f20" stroke="#231f20" stroke-width="0.15">10<tspan font-size="4.30" dx="0.5" dy="-2.8">−4</tspan></text>
<text x="202.70" y="604.03" font-size="7.6" text-anchor="end" fill="#231f20" stroke="#231f20" stroke-width="0.15">10<tspan font-size="4.30" dx="0.5" dy="-2.8">−5</tspan></text>
<text x="218.00" y="610.83" font-size="7.6" text-anchor="middle" fill="#231f20" stroke="#231f20" stroke-width="0.15">10<tspan font-size="4.30" dx="0.5" dy="-2.8">−4</tspan></text>
<text x="262.90" y="610.83" font-size="7.6" text-anchor="middle" fill="#231f20" stroke="#231f20" stroke-width="0.15">10<tspan font-size="4.30" dx="0.5" dy="-2.8">−3</tspan></text>
<text x="309.50" y="610.83" font-size="7.6" text-anchor="middle" fill="#231f20" stroke="#231f20" stroke-width="0.15">10<tspan font-size="4.30" dx="0.5" dy="-2.8">−2</tspan></text>
<text x="268.30" y="620.30" font-size="8.9" text-anchor="middle" textLength="66.8" lengthAdjust="spacingAndGlyphs" fill="#231f20" stroke="#231f20" stroke-width="0.22" font-weight="normal" >Baseline frequency (%)</text>
<text x="175.80" y="544.70" font-size="8.9" text-anchor="middle" textLength="57.8" lengthAdjust="spacingAndGlyphs" fill="#231f20" stroke="#231f20" stroke-width="0.22" font-weight="normal" transform="rotate(-90 175.80 541.50)">C3D1 frequency (%)</text>
<polyline points="205.50,600.80 332.50,480.00" fill="none" stroke="#137a60" stroke-width="1.5" stroke-dasharray="2.2 1.7"/>
<polyline points="205.00,553.30 207.00,553.50 219.20,554.10 229.90,555.90 239.30,558.80 247.40,563.60 251.50,568.30 254.10,575.00 256.80,584.40 258.30,593.00 259.50,602.00" fill="none" stroke="#d0103a" stroke-width="1.5" stroke-dasharray="2.2 1.7"/>
<circle cx="204.70" cy="554.80" r="1.50" fill="#8d84c6" stroke="#000" stroke-width="0.8"/>
<circle cx="204.70" cy="557.50" r="1.50" fill="#8d84c6" stroke="#000" stroke-width="0.8"/>
<circle cx="204.70" cy="560.20" r="1.50" fill="#8d84c6" stroke="#000" stroke-width="0.8"/>
<circle cx="204.70" cy="562.90" r="1.50" fill="#8d84c6" stroke="#000" stroke-width="0.8"/>
<circle cx="204.70" cy="565.60" r="1.50" fill="#8d84c6" stroke="#000" stroke-width="0.8"/>
<circle cx="204.70" cy="568.30" r="1.50" fill="#8d84c6" stroke="#000" stroke-width="0.8"/>
<circle cx="204.70" cy="571.00" r="1.50" fill="#8d84c6" stroke="#000" stroke-width="0.8"/>
<circle cx="204.70" cy="573.60" r="1.50" fill="#8d84c6" stroke="#000" stroke-width="0.8"/>
<circle cx="204.70" cy="578.40" r="1.50" fill="#8d84c6" stroke="#000" stroke-width="0.8"/>
<circle cx="204.70" cy="589.10" r="1.50" fill="#8d84c6" stroke="#000" stroke-width="0.8"/>
<circle cx="219.40" cy="556.80" r="1.50" fill="#8d84c6" stroke="#000" stroke-width="0.8"/>
<circle cx="219.40" cy="560.90" r="1.50" fill="#8d84c6" stroke="#000" stroke-width="0.8"/>
<circle cx="219.40" cy="564.20" r="1.50" fill="#8d84c6" stroke="#000" stroke-width="0.8"/>
<circle cx="219.40" cy="567.60" r="1.50" fill="#8d84c6" stroke="#000" stroke-width="0.8"/>
<circle cx="219.40" cy="572.30" r="1.50" fill="#8d84c6" stroke="#000" stroke-width="0.8"/>
<circle cx="219.40" cy="578.40" r="1.50" fill="#8d84c6" stroke="#000" stroke-width="0.8"/>
<circle cx="219.40" cy="589.10" r="1.50" fill="#8d84c6" stroke="#000" stroke-width="0.8"/>
<circle cx="219.40" cy="602.20" r="1.50" fill="#8d84c6" stroke="#000" stroke-width="0.8"/>
<circle cx="231.30" cy="560.90" r="1.50" fill="#8d84c6" stroke="#000" stroke-width="0.8"/>
<circle cx="231.30" cy="564.20" r="1.50" fill="#8d84c6" stroke="#000" stroke-width="0.8"/>
<circle cx="231.30" cy="567.60" r="1.50" fill="#8d84c6" stroke="#000" stroke-width="0.8"/>
<circle cx="231.30" cy="572.30" r="1.50" fill="#8d84c6" stroke="#000" stroke-width="0.8"/>
<circle cx="231.30" cy="578.40" r="1.50" fill="#8d84c6" stroke="#000" stroke-width="0.8"/>
<circle cx="231.30" cy="589.10" r="1.50" fill="#8d84c6" stroke="#000" stroke-width="0.8"/>
<circle cx="231.30" cy="602.20" r="1.50" fill="#8d84c6" stroke="#000" stroke-width="0.8"/>
<circle cx="238.30" cy="560.90" r="1.50" fill="#8d84c6" stroke="#000" stroke-width="0.8"/>
<circle cx="238.30" cy="563.50" r="1.50" fill="#8d84c6" stroke="#000" stroke-width="0.8"/>
<circle cx="238.30" cy="567.60" r="1.50" fill="#8d84c6" stroke="#000" stroke-width="0.8"/>
<circle cx="238.30" cy="572.30" r="1.50" fill="#8d84c6" stroke="#000" stroke-width="0.8"/>
<circle cx="238.30" cy="578.40" r="1.50" fill="#8d84c6" stroke="#000" stroke-width="0.8"/>
<circle cx="238.30" cy="589.10" r="1.50" fill="#8d84c6" stroke="#000" stroke-width="0.8"/>
<circle cx="238.30" cy="602.20" r="1.50" fill="#8d84c6" stroke="#000" stroke-width="0.8"/>
<circle cx="243.40" cy="567.60" r="1.50" fill="#8d84c6" stroke="#000" stroke-width="0.8"/>
<circle cx="243.40" cy="572.30" r="1.50" fill="#8d84c6" stroke="#000" stroke-width="0.8"/>
<circle cx="243.40" cy="578.40" r="1.50" fill="#8d84c6" stroke="#000" stroke-width="0.8"/>
<circle cx="243.40" cy="589.10" r="1.50" fill="#8d84c6" stroke="#000" stroke-width="0.8"/>
<circle cx="243.40" cy="602.20" r="1.50" fill="#8d84c6" stroke="#000" stroke-width="0.8"/>
<circle cx="247.40" cy="567.60" r="1.50" fill="#8d84c6" stroke="#000" stroke-width="0.8"/>
<circle cx="247.40" cy="572.30" r="1.50" fill="#8d84c6" stroke="#000" stroke-width="0.8"/>
<circle cx="247.40" cy="578.40" r="1.50" fill="#8d84c6" stroke="#000" stroke-width="0.8"/>
<circle cx="247.40" cy="589.10" r="1.50" fill="#8d84c6" stroke="#000" stroke-width="0.8"/>
<circle cx="247.40" cy="602.20" r="1.50" fill="#8d84c6" stroke="#000" stroke-width="0.8"/>
<circle cx="250.40" cy="578.40" r="1.50" fill="#8d84c6" stroke="#000" stroke-width="0.8"/>
<circle cx="255.50" cy="589.10" r="1.50" fill="#8d84c6" stroke="#000" stroke-width="0.8"/>
<circle cx="204.60" cy="551.80" r="1.50" fill="#2cb2ea" stroke="#000" stroke-width="0.8"/>
<circle cx="219.40" cy="553.50" r="1.50" fill="#2cb2ea" stroke="#000" stroke-width="0.8"/>
<circle cx="231.30" cy="546.50" r="1.50" fill="#2cb2ea" stroke="#000" stroke-width="0.8"/>
<circle cx="231.30" cy="553.20" r="1.50" fill="#2cb2ea" stroke="#000" stroke-width="0.8"/>
<circle cx="238.30" cy="545.40" r="1.50" fill="#2cb2ea" stroke="#000" stroke-width="0.8"/>
<circle cx="238.30" cy="548.00" r="1.50" fill="#2cb2ea" stroke="#000" stroke-width="0.8"/>
<circle cx="238.30" cy="550.10" r="1.50" fill="#2cb2ea" stroke="#000" stroke-width="0.8"/>
<circle cx="238.30" cy="553.50" r="1.50" fill="#2cb2ea" stroke="#000" stroke-width="0.8"/>
<circle cx="238.30" cy="557.50" r="1.50" fill="#2cb2ea" stroke="#000" stroke-width="0.8"/>
<circle cx="243.40" cy="550.10" r="1.50" fill="#2cb2ea" stroke="#000" stroke-width="0.8"/>
<circle cx="243.40" cy="558.80" r="1.50" fill="#2cb2ea" stroke="#000" stroke-width="0.8"/>
<circle cx="247.40" cy="545.40" r="1.50" fill="#2cb2ea" stroke="#000" stroke-width="0.8"/>
<circle cx="247.40" cy="553.50" r="1.50" fill="#2cb2ea" stroke="#000" stroke-width="0.8"/>
<circle cx="247.40" cy="558.80" r="1.50" fill="#2cb2ea" stroke="#000" stroke-width="0.8"/>
<circle cx="247.40" cy="563.60" r="1.50" fill="#2cb2ea" stroke="#000" stroke-width="0.8"/>
<circle cx="250.40" cy="551.80" r="1.50" fill="#2cb2ea" stroke="#000" stroke-width="0.8"/>
<circle cx="250.40" cy="563.60" r="1.50" fill="#2cb2ea" stroke="#000" stroke-width="0.8"/>
<circle cx="253.50" cy="573.90" r="1.50" fill="#2cb2ea" stroke="#000" stroke-width="0.8"/>
<circle cx="255.76" cy="542.69" r="1.50" fill="#2cb2ea" stroke="#000" stroke-width="0.8"/>
<circle cx="260.87" cy="544.71" r="1.50" fill="#2cb2ea" stroke="#000" stroke-width="0.8"/>
<circle cx="257.51" cy="546.73" r="1.50" fill="#2cb2ea" stroke="#000" stroke-width="0.8"/>
<circle cx="250.78" cy="550.77" r="1.50" fill="#2cb2ea" stroke="#000" stroke-width="0.8"/>
<circle cx="253.47" cy="556.15" r="1.50" fill="#2cb2ea" stroke="#000" stroke-width="0.8"/>
<circle cx="258.18" cy="560.86" r="1.50" fill="#2cb2ea" stroke="#000" stroke-width="0.8"/>
<circle cx="261.55" cy="552.79" r="1.50" fill="#2cb2ea" stroke="#000" stroke-width="0.8"/>
<circle cx="264.24" cy="554.13" r="1.50" fill="#2cb2ea" stroke="#000" stroke-width="0.8"/>
<circle cx="270.97" cy="546.73" r="1.50" fill="#2cb2ea" stroke="#000" stroke-width="0.8"/>
<circle cx="270.97" cy="552.79" r="1.50" fill="#2cb2ea" stroke="#000" stroke-width="0.8"/>
<circle cx="254.14" cy="552.79" r="1.50" fill="#2cb2ea" stroke="#000" stroke-width="0.8"/>
<circle cx="256.84" cy="552.79" r="1.50" fill="#2cb2ea" stroke="#000" stroke-width="0.8"/>
<circle cx="243.38" cy="557.50" r="1.50" fill="#2cb2ea" stroke="#000" stroke-width="0.8"/>
<circle cx="247.41" cy="561.53" r="1.50" fill="#2cb2ea" stroke="#000" stroke-width="0.8"/>
<circle cx="250.11" cy="564.23" r="1.50" fill="#2cb2ea" stroke="#000" stroke-width="0.8"/>
<circle cx="262.76" cy="528.61" r="1.50" fill="#2cb2ea" stroke="#000" stroke-width="0.8"/>
<circle cx="266.68" cy="529.13" r="1.50" fill="#2cb2ea" stroke="#000" stroke-width="0.8"/>
<circle cx="270.08" cy="533.84" r="1.50" fill="#2cb2ea" stroke="#000" stroke-width="0.8"/>
<circle cx="269.30" cy="535.15" r="1.50" fill="#2cb2ea" stroke="#000" stroke-width="0.8"/>
<circle cx="275.84" cy="535.15" r="1.50" fill="#2cb2ea" stroke="#000" stroke-width="0.8"/>
<circle cx="277.67" cy="525.99" r="1.50" fill="#2cb2ea" stroke="#000" stroke-width="0.8"/>
<circle cx="275.31" cy="524.16" r="1.50" fill="#2cb2ea" stroke="#000" stroke-width="0.8"/>
<circle cx="274.01" cy="524.69" r="1.50" fill="#2cb2ea" stroke="#000" stroke-width="0.8"/>
<circle cx="279.76" cy="523.38" r="1.50" fill="#2cb2ea" stroke="#000" stroke-width="0.8"/>
<circle cx="282.37" cy="521.55" r="1.50" fill="#2cb2ea" stroke="#000" stroke-width="0.8"/>
<circle cx="283.68" cy="520.76" r="1.50" fill="#2cb2ea" stroke="#000" stroke-width="0.8"/>
<circle cx="286.30" cy="521.55" r="1.50" fill="#2cb2ea" stroke="#000" stroke-width="0.8"/>
<circle cx="283.68" cy="527.30" r="1.50" fill="#2cb2ea" stroke="#000" stroke-width="0.8"/>
<circle cx="275.84" cy="528.61" r="1.50" fill="#2cb2ea" stroke="#000" stroke-width="0.8"/>
<circle cx="271.91" cy="545.61" r="1.50" fill="#2cb2ea" stroke="#000" stroke-width="0.8"/>
<circle cx="271.91" cy="552.93" r="1.50" fill="#2cb2ea" stroke="#000" stroke-width="0.8"/>
<circle cx="292.83" cy="511.61" r="1.50" fill="#2cb2ea" stroke="#000" stroke-width="0.8"/>
<circle cx="294.14" cy="509.00" r="1.50" fill="#2cb2ea" stroke="#000" stroke-width="0.8"/>
<circle cx="298.06" cy="515.53" r="1.50" fill="#2cb2ea" stroke="#000" stroke-width="0.8"/>
<circle cx="300.68" cy="509.00" r="1.50" fill="#2cb2ea" stroke="#000" stroke-width="0.8"/>
<circle cx="295.45" cy="515.53" r="1.50" fill="#2cb2ea" stroke="#000" stroke-width="0.8"/>
<circle cx="309.83" cy="501.15" r="1.50" fill="#2cb2ea" stroke="#000" stroke-width="0.8"/>
<circle cx="313.76" cy="494.61" r="1.50" fill="#2cb2ea" stroke="#000" stroke-width="0.8"/>
<circle cx="317.15" cy="493.31" r="1.50" fill="#2cb2ea" stroke="#000" stroke-width="0.8"/>
<circle cx="309.83" cy="500.63" r="1.50" fill="#2cb2ea" stroke="#000" stroke-width="0.8"/>
<circle cx="278.45" cy="520.76" r="1.50" fill="#2cb2ea" stroke="#000" stroke-width="0.8"/>
<circle cx="281.07" cy="528.61" r="1.50" fill="#2cb2ea" stroke="#000" stroke-width="0.8"/>
<circle cx="261.45" cy="552.93" r="1.50" fill="#2cb2ea" stroke="#000" stroke-width="0.8"/>
<circle cx="264.07" cy="553.45" r="1.50" fill="#2cb2ea" stroke="#000" stroke-width="0.8"/>
<circle cx="258.05" cy="544.30" r="1.50" fill="#2cb2ea" stroke="#000" stroke-width="0.8"/>
<circle cx="204.70" cy="498.50" r="1.50" fill="#f7931e" stroke="#000" stroke-width="0.8"/>
<circle cx="231.40" cy="529.90" r="1.50" fill="#f7931e" stroke="#000" stroke-width="0.8"/>
<circle cx="231.40" cy="531.70" r="1.50" fill="#f7931e" stroke="#000" stroke-width="0.8"/>
<circle cx="259.60" cy="520.80" r="1.50" fill="#f7931e" stroke="#000" stroke-width="0.8"/>
<circle cx="297.30" cy="500.40" r="1.50" fill="#f7931e" stroke="#000" stroke-width="0.8"/>
<circle cx="300.40" cy="494.90" r="1.50" fill="#f7931e" stroke="#000" stroke-width="0.8"/>
<circle cx="328.00" cy="480.30" r="1.50" fill="#f7931e" stroke="#000" stroke-width="0.8"/>
<circle cx="326.80" cy="488.50" r="1.50" fill="#3db449" stroke="#000" stroke-width="0.8"/>
<circle cx="315.80" cy="499.80" r="1.50" fill="#3db449" stroke="#000" stroke-width="0.8"/>
<circle cx="309.80" cy="570.40" r="2.55" fill="#3db449"/>
<text x="315.20" y="572.60" font-size="6.3" text-anchor="start" fill="#231f20" stroke="#231f20" stroke-width="0.18" font-weight="normal" >2</text>
<circle cx="309.80" cy="578.20" r="2.55" fill="#f7931e"/>
<text x="315.20" y="580.40" font-size="6.3" text-anchor="start" fill="#231f20" stroke="#231f20" stroke-width="0.18" font-weight="normal" >7</text>
<circle cx="309.80" cy="586.00" r="2.55" fill="#2cb2ea"/>
<text x="315.20" y="588.20" font-size="6.3" text-anchor="start" fill="#231f20" stroke="#231f20" stroke-width="0.18" font-weight="normal" >77</text>
<circle cx="309.80" cy="593.70" r="2.55" fill="#8d84c6"/>
<text x="315.20" y="595.90" font-size="6.3" text-anchor="start" fill="#231f20" stroke="#231f20" stroke-width="0.18" font-weight="normal" >9281</text>
<circle cx="367.50" cy="487.00" r="3.65" fill="#3db449"/>
<text x="375.20" y="489.20" font-size="7.0" text-anchor="start" fill="#231f20" stroke="#231f20" stroke-width="0.18" font-weight="normal" >Baseline &gt; C3D1</text>
<circle cx="367.50" cy="498.20" r="3.10" fill="#3db449" stroke="#000" stroke-width="1.3"/>
<text x="375.20" y="500.40" font-size="7.0" text-anchor="start" fill="#231f20" stroke="#231f20" stroke-width="0.18" font-weight="normal" >Baseline &gt; C3D1 and found in C7D1</text>
<circle cx="367.50" cy="509.30" r="3.65" fill="#f7931e"/>
<text x="375.20" y="511.50" font-size="7.0" text-anchor="start" fill="#231f20" stroke="#231f20" stroke-width="0.18" font-weight="normal" >C3D1 &gt; Baseline</text>
<circle cx="367.50" cy="521.20" r="3.10" fill="#f7931e" stroke="#000" stroke-width="1.3"/>
<text x="375.20" y="523.40" font-size="7.0" text-anchor="start" fill="#231f20" stroke="#231f20" stroke-width="0.18" font-weight="normal" >C3D1 &gt; Baseline and found in C7D1</text>
<circle cx="367.50" cy="532.40" r="3.65" fill="#2cb2ea"/>
<text x="375.20" y="534.60" font-size="7.0" text-anchor="start" fill="#231f20" stroke="#231f20" stroke-width="0.18" font-weight="normal" >Not significant</text>
<circle cx="367.50" cy="543.60" r="3.10" fill="#2cb2ea" stroke="#000" stroke-width="1.3"/>
<text x="375.20" y="545.80" font-size="7.0" text-anchor="start" fill="#231f20" stroke="#231f20" stroke-width="0.18" font-weight="normal" >Not significant and found in C7D1</text>
<circle cx="367.50" cy="554.80" r="3.65" fill="#8d84c6"/>
<text x="375.20" y="557.00" font-size="7.0" text-anchor="start" fill="#231f20" stroke="#231f20" stroke-width="0.18" font-weight="normal" >Excluded</text>
<circle cx="367.50" cy="566.60" r="3.10" fill="#8d84c6" stroke="#000" stroke-width="1.3"/>
<text x="375.20" y="568.80" font-size="7.0" text-anchor="start" fill="#231f20" stroke="#231f20" stroke-width="0.18" font-weight="normal" >Excluded and in C7D1</text>
<line x1="355.2" y1="577.6" x2="370.5" y2="577.6" stroke="#137a60" stroke-width="1.3" stroke-dasharray="4.4 6.1"/>
<text x="375.20" y="579.80" font-size="7.0" text-anchor="start" fill="#231f20" stroke="#231f20" stroke-width="0.18" font-weight="normal" >Frequency equality</text>
<line x1="355.2" y1="588.1" x2="370.5" y2="588.1" stroke="#d0103a" stroke-width="1.3" stroke-dasharray="4.4 6.1"/>
<text x="375.20" y="590.30" font-size="7.0" text-anchor="start" fill="#231f20" stroke="#231f20" stroke-width="0.18" font-weight="normal" >Threshold for statistical comparison</text>
</svg></body></html>
